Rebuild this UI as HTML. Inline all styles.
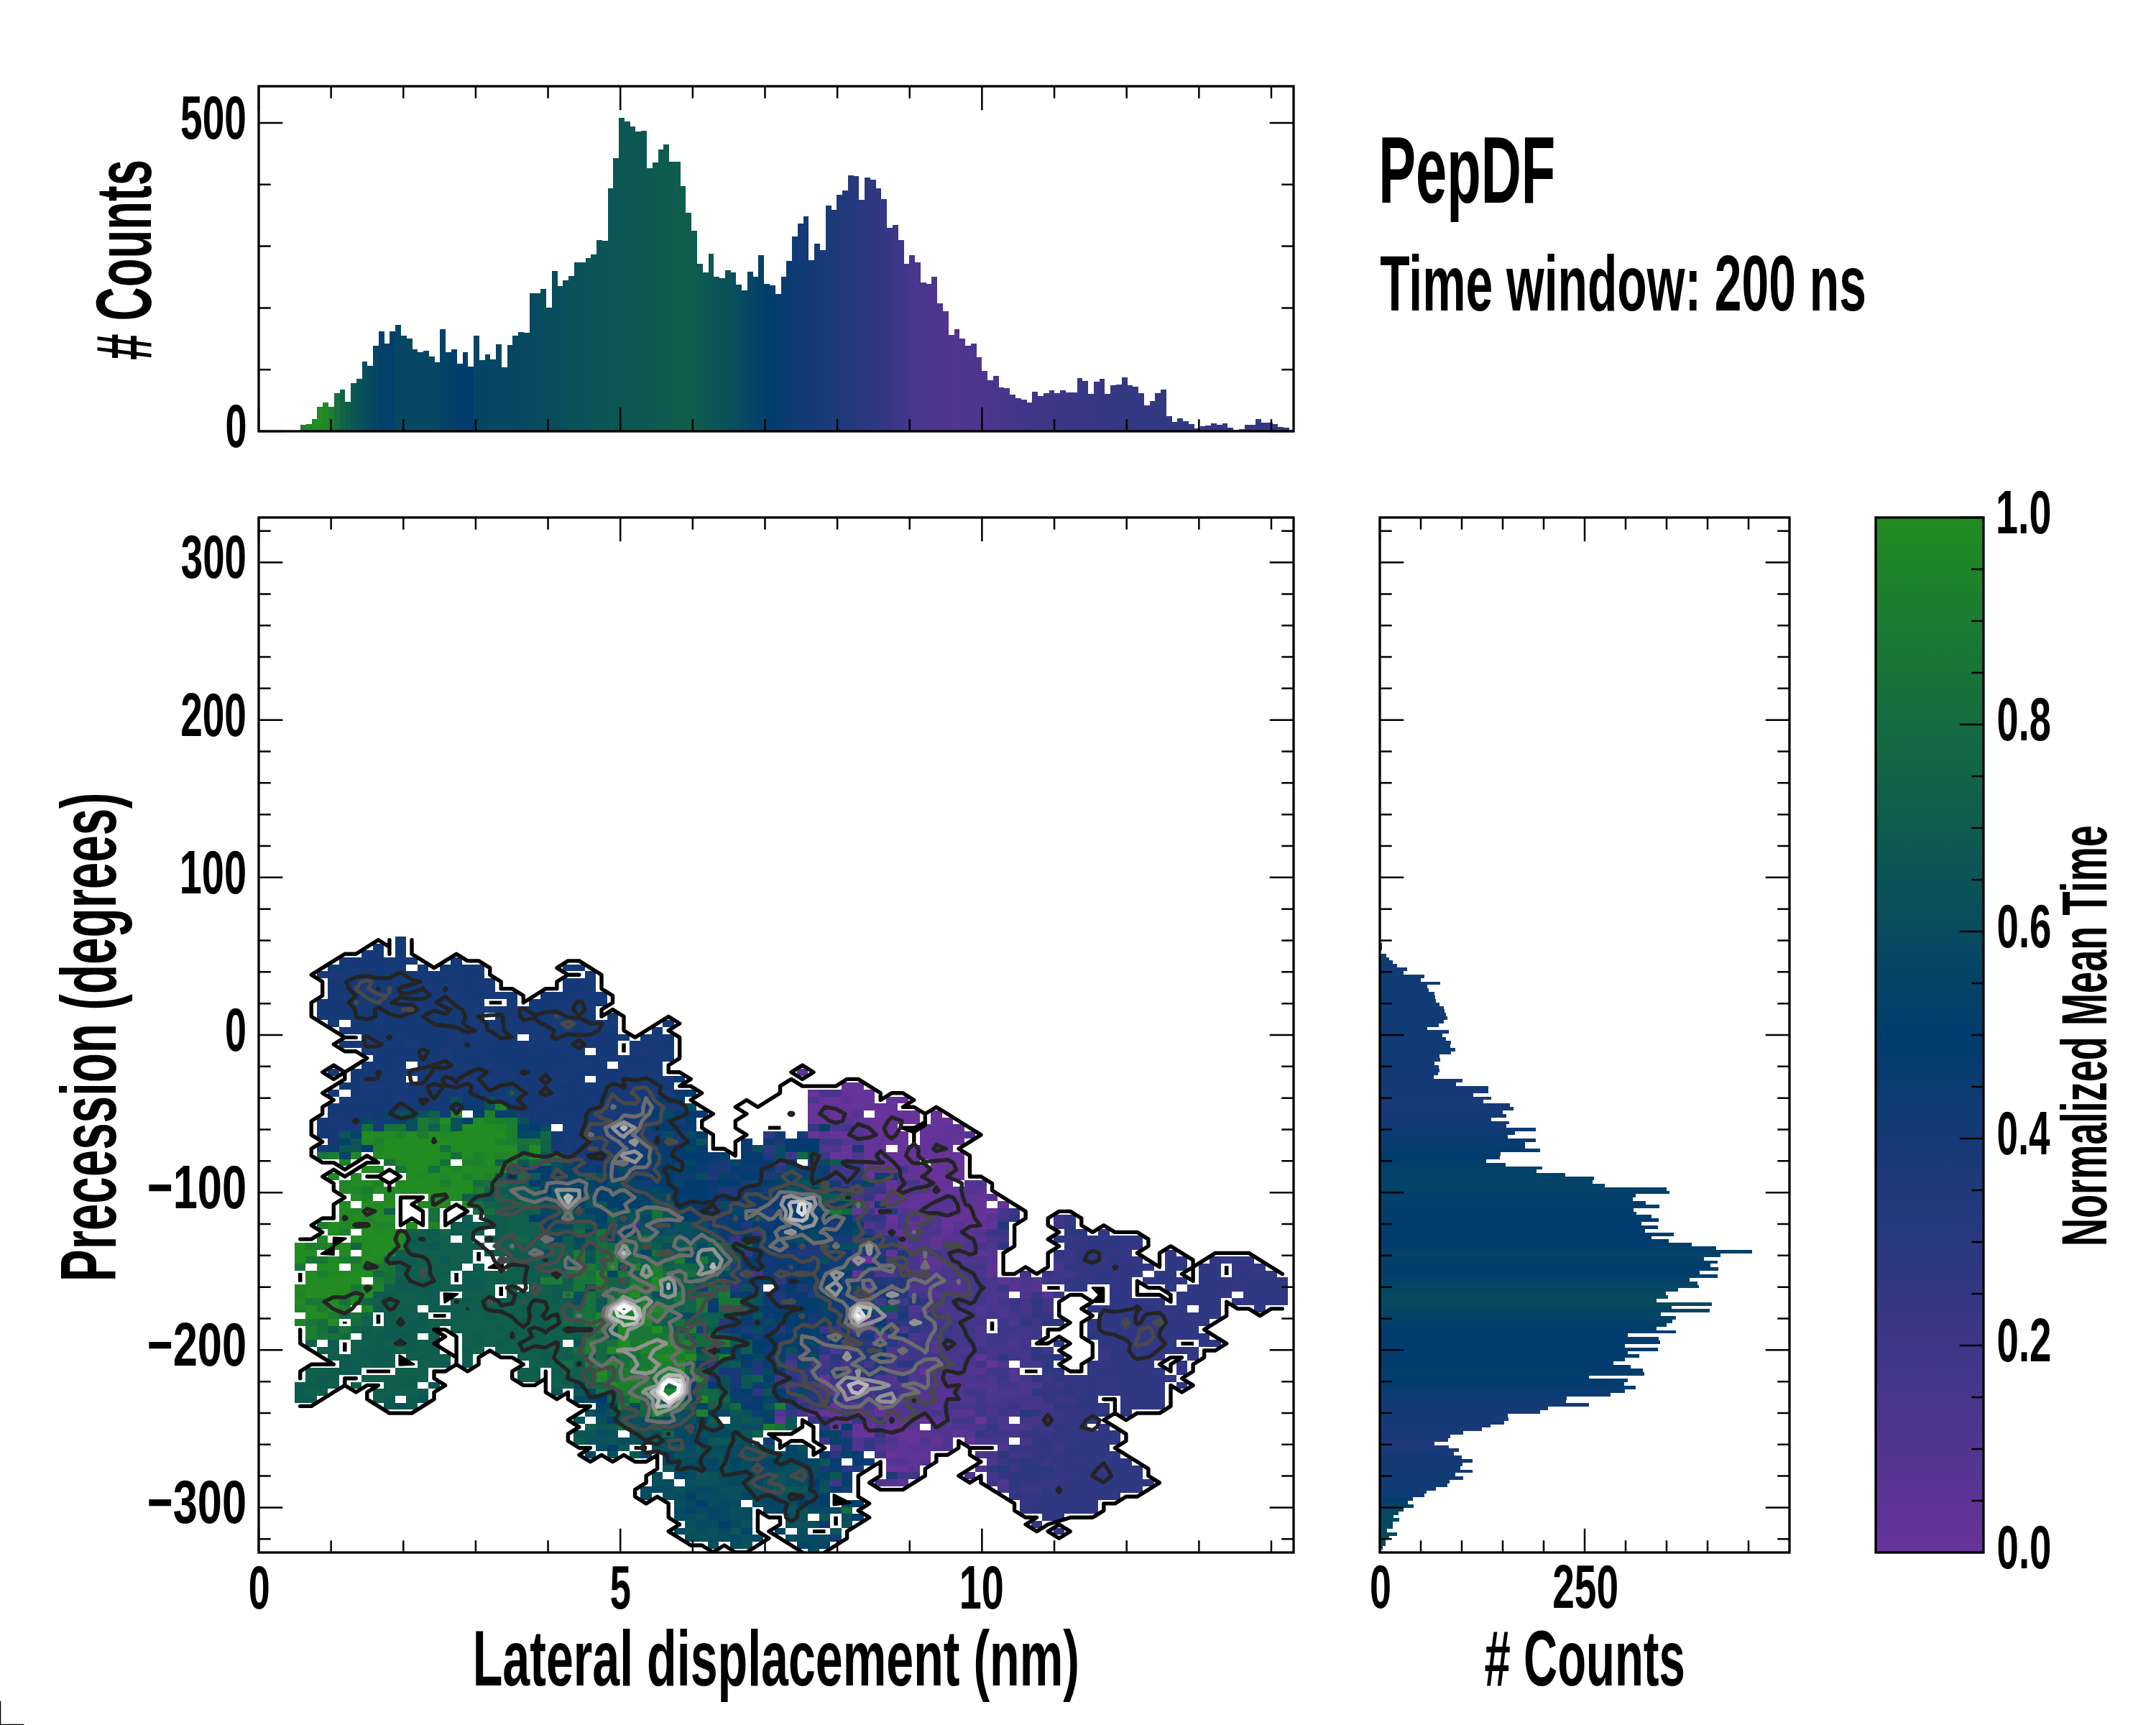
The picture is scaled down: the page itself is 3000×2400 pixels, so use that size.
<!DOCTYPE html><html><head><meta charset="utf-8"><title>PepDF</title>
<style>html,body{margin:0;padding:0;background:#fff}svg{display:block}</style></head><body>
<svg width="3000" height="2400" viewBox="0 0 3000 2400">
<rect width="3000" height="2400" fill="#fff"/>
<defs><clipPath id="cpTop"><rect x="360" y="120" width="1440" height="480"/></clipPath><clipPath id="cpMain"><rect x="360" y="720" width="1440" height="1440"/></clipPath><clipPath id="cpRight"><rect x="1920" y="720" width="570" height="1440"/></clipPath></defs>
<g clip-path="url(#cpTop)" shape-rendering="crispEdges">
<rect x="418" y="591.2" width="8" height="8.8" fill="#1e822b"/>
<rect x="426" y="590.3" width="8" height="9.7" fill="#208627"/>
<rect x="434" y="583.2" width="7" height="16.8" fill="#218a23"/>
<rect x="441" y="566.2" width="8" height="33.8" fill="#228b22"/>
<rect x="449" y="560.2" width="8" height="39.8" fill="#218924"/>
<rect x="457" y="566.2" width="8" height="33.8" fill="#1c7d2f"/>
<rect x="465" y="547.3" width="8" height="52.7" fill="#166f3d"/>
<rect x="473" y="542.1" width="7" height="57.9" fill="#126447"/>
<rect x="480" y="559.2" width="8" height="40.8" fill="#0f5e4e"/>
<rect x="488" y="533.2" width="8" height="66.8" fill="#0c5754"/>
<rect x="496" y="527.2" width="8" height="72.8" fill="#0a5259"/>
<rect x="504" y="503.0" width="7" height="97.0" fill="#084d5d"/>
<rect x="511" y="509.1" width="8" height="90.9" fill="#064962"/>
<rect x="519" y="481.2" width="8" height="118.8" fill="#054566"/>
<rect x="527" y="461.1" width="8" height="138.9" fill="#03416a"/>
<rect x="535" y="478.3" width="7" height="121.7" fill="#03406a"/>
<rect x="542" y="461.1" width="8" height="138.9" fill="#03406a"/>
<rect x="550" y="452.1" width="8" height="147.9" fill="#064763"/>
<rect x="558" y="467.1" width="8" height="132.9" fill="#064862"/>
<rect x="566" y="471.0" width="8" height="129.0" fill="#064862"/>
<rect x="574" y="486.2" width="7" height="113.8" fill="#064863"/>
<rect x="581" y="490.2" width="8" height="109.8" fill="#064863"/>
<rect x="589" y="488.1" width="8" height="111.9" fill="#064763"/>
<rect x="597" y="496.2" width="8" height="103.8" fill="#064764"/>
<rect x="605" y="504.1" width="7" height="95.9" fill="#054565"/>
<rect x="612" y="458.1" width="8" height="141.9" fill="#044367"/>
<rect x="620" y="490.2" width="8" height="109.8" fill="#034169"/>
<rect x="628" y="486.2" width="8" height="113.8" fill="#02406b"/>
<rect x="636" y="506.1" width="8" height="93.9" fill="#023e6c"/>
<rect x="644" y="490.2" width="7" height="109.8" fill="#013d6d"/>
<rect x="651" y="510.1" width="8" height="89.9" fill="#013c6e"/>
<rect x="659" y="467.1" width="8" height="132.9" fill="#054665"/>
<rect x="667" y="501.2" width="8" height="98.8" fill="#054664"/>
<rect x="675" y="493.3" width="7" height="106.7" fill="#054664"/>
<rect x="682" y="500.2" width="8" height="99.8" fill="#054764"/>
<rect x="690" y="478.9" width="8" height="121.1" fill="#064764"/>
<rect x="698" y="510.9" width="8" height="89.1" fill="#064763"/>
<rect x="706" y="479.8" width="7" height="120.2" fill="#064863"/>
<rect x="713" y="467.0" width="8" height="133.0" fill="#064862"/>
<rect x="721" y="462.0" width="8" height="138.0" fill="#064961"/>
<rect x="729" y="462.8" width="8" height="137.2" fill="#074a61"/>
<rect x="737" y="408.0" width="8" height="192.0" fill="#074a60"/>
<rect x="745" y="408.0" width="7" height="192.0" fill="#074b60"/>
<rect x="752" y="401.8" width="8" height="198.2" fill="#074c5f"/>
<rect x="760" y="427.7" width="8" height="172.3" fill="#084c5e"/>
<rect x="768" y="376.8" width="8" height="223.2" fill="#084d5d"/>
<rect x="776" y="397.7" width="7" height="202.3" fill="#094e5c"/>
<rect x="783" y="389.9" width="8" height="210.1" fill="#094f5b"/>
<rect x="791" y="383.7" width="8" height="216.3" fill="#0a515a"/>
<rect x="799" y="364.8" width="8" height="235.2" fill="#0a5259"/>
<rect x="807" y="364.8" width="8" height="235.2" fill="#0a5358"/>
<rect x="815" y="358.7" width="7" height="241.3" fill="#0b5457"/>
<rect x="822" y="353.7" width="8" height="246.3" fill="#0b5556"/>
<rect x="830" y="333.6" width="8" height="266.4" fill="#0c5555"/>
<rect x="838" y="334.8" width="8" height="265.2" fill="#0c5655"/>
<rect x="846" y="261.8" width="7" height="338.2" fill="#0c5655"/>
<rect x="853" y="220.1" width="8" height="379.9" fill="#0c5754"/>
<rect x="861" y="163.6" width="8" height="436.4" fill="#0c5754"/>
<rect x="869" y="168.9" width="8" height="431.1" fill="#0c5754"/>
<rect x="877" y="175.8" width="7" height="424.2" fill="#0d5853"/>
<rect x="884" y="182.8" width="8" height="417.2" fill="#0d5853"/>
<rect x="892" y="181.7" width="8" height="418.3" fill="#0d5853"/>
<rect x="900" y="233.7" width="8" height="366.3" fill="#0d5952"/>
<rect x="908" y="225.7" width="8" height="374.3" fill="#0d5a51"/>
<rect x="916" y="207.8" width="7" height="392.2" fill="#0e5b51"/>
<rect x="923" y="200.9" width="8" height="399.1" fill="#0e5b50"/>
<rect x="931" y="224.8" width="8" height="375.2" fill="#0f5c4f"/>
<rect x="939" y="224.8" width="8" height="375.2" fill="#0f5d4e"/>
<rect x="947" y="258.8" width="7" height="341.2" fill="#0f5e4d"/>
<rect x="954" y="295.8" width="8" height="304.2" fill="#0f5e4d"/>
<rect x="962" y="320.8" width="8" height="279.2" fill="#0e5c4f"/>
<rect x="970" y="366.8" width="8" height="233.2" fill="#0e5a51"/>
<rect x="978" y="378.7" width="8" height="221.3" fill="#0d5853"/>
<rect x="986" y="352.9" width="7" height="247.1" fill="#0c5655"/>
<rect x="993" y="384.9" width="8" height="215.1" fill="#0b5457"/>
<rect x="1001" y="386.8" width="8" height="213.2" fill="#0a5358"/>
<rect x="1009" y="376.0" width="8" height="224.0" fill="#0a515a"/>
<rect x="1017" y="378.7" width="7" height="221.3" fill="#094f5c"/>
<rect x="1024" y="395.7" width="8" height="204.3" fill="#084c5f"/>
<rect x="1032" y="403.8" width="8" height="196.2" fill="#064961"/>
<rect x="1040" y="377.9" width="8" height="222.1" fill="#054664"/>
<rect x="1048" y="384.9" width="7" height="215.1" fill="#044367"/>
<rect x="1055" y="355.1" width="8" height="244.9" fill="#034169"/>
<rect x="1063" y="394.9" width="8" height="205.1" fill="#023e6c"/>
<rect x="1071" y="396.8" width="8" height="203.2" fill="#013c6e"/>
<rect x="1079" y="408.8" width="8" height="191.2" fill="#053c70"/>
<rect x="1087" y="384.9" width="7" height="215.1" fill="#093b71"/>
<rect x="1094" y="362.9" width="8" height="237.1" fill="#0c3b73"/>
<rect x="1102" y="328.9" width="8" height="271.1" fill="#0f3b74"/>
<rect x="1110" y="310.8" width="8" height="289.2" fill="#103b75"/>
<rect x="1118" y="301.1" width="7" height="298.9" fill="#123a75"/>
<rect x="1125" y="362.0" width="8" height="238.0" fill="#143a76"/>
<rect x="1133" y="338.9" width="8" height="261.1" fill="#163a77"/>
<rect x="1141" y="347.8" width="8" height="252.2" fill="#183a78"/>
<rect x="1149" y="286.1" width="8" height="313.9" fill="#1a3a79"/>
<rect x="1157" y="291.9" width="7" height="308.1" fill="#1d3a7a"/>
<rect x="1164" y="271.0" width="8" height="329.0" fill="#1f397b"/>
<rect x="1172" y="264.9" width="8" height="335.1" fill="#22397c"/>
<rect x="1180" y="244.0" width="8" height="356.0" fill="#24397d"/>
<rect x="1188" y="245.1" width="7" height="354.9" fill="#27397e"/>
<rect x="1195" y="278.0" width="8" height="322.0" fill="#29387f"/>
<rect x="1203" y="247.1" width="8" height="352.9" fill="#2c3880"/>
<rect x="1211" y="250.2" width="8" height="349.8" fill="#2e3881"/>
<rect x="1219" y="261.8" width="7" height="338.2" fill="#313882"/>
<rect x="1226" y="276.9" width="8" height="323.1" fill="#343784"/>
<rect x="1234" y="316.9" width="8" height="283.1" fill="#383785"/>
<rect x="1242" y="313.0" width="8" height="287.0" fill="#3c3787"/>
<rect x="1250" y="333.9" width="8" height="266.1" fill="#3f3689"/>
<rect x="1258" y="366.8" width="7" height="233.2" fill="#43368a"/>
<rect x="1265" y="355.1" width="8" height="244.9" fill="#47368c"/>
<rect x="1273" y="365.1" width="8" height="234.9" fill="#49368d"/>
<rect x="1281" y="393.1" width="8" height="206.9" fill="#4a358d"/>
<rect x="1289" y="395.1" width="7" height="204.9" fill="#4b358e"/>
<rect x="1296" y="385.1" width="8" height="214.9" fill="#4d358e"/>
<rect x="1304" y="422.2" width="8" height="177.8" fill="#4e358f"/>
<rect x="1312" y="433.2" width="8" height="166.8" fill="#4f358f"/>
<rect x="1320" y="465.8" width="8" height="134.2" fill="#513590"/>
<rect x="1328" y="458.0" width="7" height="142.0" fill="#523590"/>
<rect x="1335" y="471.3" width="8" height="128.7" fill="#503590"/>
<rect x="1343" y="481.0" width="8" height="119.0" fill="#4f358f"/>
<rect x="1351" y="478.0" width="8" height="122.0" fill="#4e358f"/>
<rect x="1359" y="497.3" width="7" height="102.7" fill="#4d358e"/>
<rect x="1366" y="516.1" width="8" height="83.9" fill="#4c358e"/>
<rect x="1374" y="528.9" width="8" height="71.1" fill="#4a358d"/>
<rect x="1382" y="523.1" width="8" height="76.9" fill="#49368d"/>
<rect x="1390" y="539.1" width="7" height="60.9" fill="#48368c"/>
<rect x="1397" y="540.4" width="8" height="59.6" fill="#46368b"/>
<rect x="1405" y="549.2" width="8" height="50.8" fill="#45368b"/>
<rect x="1413" y="554.2" width="8" height="45.8" fill="#43368a"/>
<rect x="1421" y="555.9" width="8" height="44.1" fill="#42368a"/>
<rect x="1429" y="560.2" width="7" height="39.8" fill="#413689"/>
<rect x="1436" y="545.2" width="8" height="54.8" fill="#3f3689"/>
<rect x="1444" y="551.2" width="8" height="48.8" fill="#3e3788"/>
<rect x="1452" y="547.2" width="8" height="52.8" fill="#3d3788"/>
<rect x="1460" y="543.2" width="7" height="56.8" fill="#3c3787"/>
<rect x="1467" y="547.2" width="8" height="52.8" fill="#3b3787"/>
<rect x="1475" y="543.2" width="8" height="56.8" fill="#3b3787"/>
<rect x="1483" y="546.2" width="8" height="53.8" fill="#3a3786"/>
<rect x="1491" y="546.2" width="8" height="53.8" fill="#393786"/>
<rect x="1499" y="526.1" width="7" height="73.9" fill="#383786"/>
<rect x="1506" y="530.4" width="8" height="69.6" fill="#383785"/>
<rect x="1514" y="548.2" width="8" height="51.8" fill="#373785"/>
<rect x="1522" y="531.1" width="8" height="68.9" fill="#363785"/>
<rect x="1530" y="527.1" width="7" height="72.9" fill="#353784"/>
<rect x="1537" y="548.2" width="8" height="51.8" fill="#343784"/>
<rect x="1545" y="536.1" width="8" height="63.9" fill="#343784"/>
<rect x="1553" y="535.1" width="8" height="64.9" fill="#333883"/>
<rect x="1561" y="525.1" width="8" height="74.9" fill="#333883"/>
<rect x="1569" y="536.1" width="7" height="63.9" fill="#333883"/>
<rect x="1576" y="538.1" width="8" height="61.9" fill="#333883"/>
<rect x="1584" y="547.2" width="8" height="52.8" fill="#333883"/>
<rect x="1592" y="563.9" width="8" height="36.1" fill="#333883"/>
<rect x="1600" y="558.2" width="7" height="41.8" fill="#333883"/>
<rect x="1607" y="547.2" width="8" height="52.8" fill="#333883"/>
<rect x="1615" y="542.1" width="8" height="57.9" fill="#333883"/>
<rect x="1623" y="579.0" width="8" height="21.0" fill="#333883"/>
<rect x="1631" y="587.0" width="7" height="13.0" fill="#333883"/>
<rect x="1638" y="582.0" width="8" height="18.0" fill="#333883"/>
<rect x="1646" y="586.0" width="8" height="14.0" fill="#333883"/>
<rect x="1654" y="590.0" width="8" height="10.0" fill="#333883"/>
<rect x="1662" y="596.0" width="8" height="4.0" fill="#333883"/>
<rect x="1670" y="593.0" width="7" height="7.0" fill="#333883"/>
<rect x="1677" y="592.0" width="8" height="8.0" fill="#323883"/>
<rect x="1685" y="589.0" width="8" height="11.0" fill="#323883"/>
<rect x="1693" y="591.0" width="8" height="9.0" fill="#323883"/>
<rect x="1701" y="589.0" width="7" height="11.0" fill="#323883"/>
<rect x="1708" y="595.0" width="8" height="5.0" fill="#323883"/>
<rect x="1716" y="598.0" width="8" height="2.0" fill="#323883"/>
<rect x="1724" y="597.0" width="8" height="3.0" fill="#323883"/>
<rect x="1732" y="591.0" width="8" height="9.0" fill="#323883"/>
<rect x="1740" y="591.0" width="7" height="9.0" fill="#323883"/>
<rect x="1747" y="583.0" width="8" height="17.0" fill="#323883"/>
<rect x="1755" y="588.0" width="8" height="12.0" fill="#323883"/>
<rect x="1763" y="588.0" width="8" height="12.0" fill="#323883"/>
<rect x="1771" y="590.0" width="7" height="10.0" fill="#323883"/>
<rect x="1778" y="594.0" width="8" height="6.0" fill="#323883"/>
<rect x="1786" y="595.0" width="8" height="5.0" fill="#323883"/>
<rect x="1794" y="598.0" width="8" height="2.0" fill="#313883"/>
</g>
<g clip-path="url(#cpRight)" shape-rendering="crispEdges">
<rect x="1920" y="1312" width="2.8" height="5" fill="#113b75"/>
<rect x="1920" y="1317" width="2.8" height="5" fill="#113b75"/>
<rect x="1920" y="1327" width="8.6" height="5" fill="#113b75"/>
<rect x="1920" y="1332" width="12.8" height="4" fill="#113b75"/>
<rect x="1920" y="1336" width="17.8" height="5" fill="#113b75"/>
<rect x="1920" y="1341" width="23.7" height="5" fill="#113b75"/>
<rect x="1920" y="1346" width="37.9" height="5" fill="#113b75"/>
<rect x="1920" y="1351" width="32.8" height="5" fill="#113b75"/>
<rect x="1920" y="1356" width="61.8" height="5" fill="#113b75"/>
<rect x="1920" y="1361" width="57.1" height="5" fill="#113b75"/>
<rect x="1920" y="1366" width="83.8" height="4" fill="#113b75"/>
<rect x="1920" y="1370" width="65.7" height="5" fill="#113b75"/>
<rect x="1920" y="1375" width="67.9" height="5" fill="#113b75"/>
<rect x="1920" y="1380" width="75.7" height="5" fill="#113b75"/>
<rect x="1920" y="1385" width="77.4" height="5" fill="#113b75"/>
<rect x="1920" y="1390" width="77.9" height="5" fill="#113b75"/>
<rect x="1920" y="1395" width="82.9" height="5" fill="#113b75"/>
<rect x="1920" y="1400" width="88.8" height="4" fill="#113b75"/>
<rect x="1920" y="1404" width="89.9" height="5" fill="#113b75"/>
<rect x="1920" y="1409" width="91.6" height="5" fill="#113b75"/>
<rect x="1920" y="1414" width="93.8" height="5" fill="#113b75"/>
<rect x="1920" y="1419" width="88.8" height="5" fill="#113b75"/>
<rect x="1920" y="1424" width="81.8" height="5" fill="#113b75"/>
<rect x="1920" y="1429" width="65.7" height="4" fill="#113b75"/>
<rect x="1920" y="1433" width="95.7" height="5" fill="#113b75"/>
<rect x="1920" y="1438" width="86.8" height="5" fill="#113b75"/>
<rect x="1920" y="1443" width="91.8" height="5" fill="#113b75"/>
<rect x="1920" y="1448" width="98.8" height="5" fill="#113b75"/>
<rect x="1920" y="1453" width="97.7" height="5" fill="#113b75"/>
<rect x="1920" y="1458" width="104.6" height="5" fill="#113b75"/>
<rect x="1920" y="1463" width="98.8" height="4" fill="#113b75"/>
<rect x="1920" y="1467" width="82.9" height="5" fill="#113b75"/>
<rect x="1920" y="1472" width="83.8" height="5" fill="#113b75"/>
<rect x="1920" y="1477" width="75.7" height="5" fill="#113b75"/>
<rect x="1920" y="1482" width="81.8" height="5" fill="#123b75"/>
<rect x="1920" y="1487" width="82.7" height="5" fill="#123a75"/>
<rect x="1920" y="1492" width="80.7" height="4" fill="#133a76"/>
<rect x="1920" y="1496" width="74.9" height="5" fill="#143a76"/>
<rect x="1920" y="1501" width="114.9" height="5" fill="#143a76"/>
<rect x="1920" y="1506" width="105.8" height="5" fill="#153a76"/>
<rect x="1920" y="1511" width="150.8" height="5" fill="#163a77"/>
<rect x="1920" y="1516" width="150.8" height="5" fill="#163a77"/>
<rect x="1920" y="1521" width="129.7" height="5" fill="#173a77"/>
<rect x="1920" y="1526" width="154.7" height="4" fill="#183a78"/>
<rect x="1920" y="1530" width="143.6" height="5" fill="#183a78"/>
<rect x="1920" y="1535" width="180.6" height="5" fill="#193a78"/>
<rect x="1920" y="1540" width="185.9" height="5" fill="#193a78"/>
<rect x="1920" y="1545" width="170.6" height="5" fill="#173a77"/>
<rect x="1920" y="1550" width="175.9" height="5" fill="#153a77"/>
<rect x="1920" y="1555" width="154.7" height="5" fill="#133a76"/>
<rect x="1920" y="1560" width="179.8" height="4" fill="#123b75"/>
<rect x="1920" y="1564" width="175.9" height="5" fill="#103b74"/>
<rect x="1920" y="1569" width="216.8" height="5" fill="#0e3b74"/>
<rect x="1920" y="1574" width="187.6" height="5" fill="#0c3b73"/>
<rect x="1920" y="1579" width="177.6" height="5" fill="#0b3b72"/>
<rect x="1920" y="1584" width="216.8" height="5" fill="#093b71"/>
<rect x="1920" y="1589" width="201.8" height="5" fill="#073b71"/>
<rect x="1920" y="1594" width="201.8" height="4" fill="#063c70"/>
<rect x="1920" y="1598" width="222.9" height="5" fill="#043c6f"/>
<rect x="1920" y="1603" width="167.8" height="5" fill="#023c6f"/>
<rect x="1920" y="1608" width="167.0" height="5" fill="#013c6e"/>
<rect x="1920" y="1613" width="147.8" height="5" fill="#023d6d"/>
<rect x="1920" y="1618" width="174.8" height="5" fill="#023f6b"/>
<rect x="1920" y="1623" width="226.0" height="4" fill="#03406a"/>
<rect x="1920" y="1627" width="217.9" height="5" fill="#034169"/>
<rect x="1920" y="1632" width="257.7" height="5" fill="#044368"/>
<rect x="1920" y="1637" width="297.8" height="5" fill="#044467"/>
<rect x="1920" y="1642" width="295.9" height="5" fill="#044367"/>
<rect x="1920" y="1647" width="312.8" height="5" fill="#044268"/>
<rect x="1920" y="1652" width="398.8" height="5" fill="#034269"/>
<rect x="1920" y="1657" width="403.0" height="4" fill="#034169"/>
<rect x="1920" y="1661" width="355.7" height="5" fill="#03406a"/>
<rect x="1920" y="1666" width="351.8" height="5" fill="#023f6b"/>
<rect x="1920" y="1671" width="369.9" height="5" fill="#023f6b"/>
<rect x="1920" y="1676" width="388.8" height="5" fill="#023e6c"/>
<rect x="1920" y="1681" width="352.9" height="5" fill="#023e6c"/>
<rect x="1920" y="1686" width="356.8" height="4" fill="#023d6d"/>
<rect x="1920" y="1690" width="378.0" height="5" fill="#013d6d"/>
<rect x="1920" y="1695" width="388.0" height="5" fill="#013c6e"/>
<rect x="1920" y="1700" width="363.8" height="5" fill="#013c6e"/>
<rect x="1920" y="1705" width="386.9" height="5" fill="#013c6e"/>
<rect x="1920" y="1710" width="368.8" height="5" fill="#013c6e"/>
<rect x="1920" y="1715" width="408.9" height="5" fill="#013c6e"/>
<rect x="1920" y="1720" width="378.0" height="4" fill="#013c6e"/>
<rect x="1920" y="1724" width="401.9" height="5" fill="#013c6e"/>
<rect x="1920" y="1729" width="433.9" height="5" fill="#013d6d"/>
<rect x="1920" y="1734" width="467.9" height="5" fill="#023f6b"/>
<rect x="1920" y="1739" width="518.0" height="5" fill="#034169"/>
<rect x="1920" y="1744" width="473.7" height="5" fill="#044268"/>
<rect x="1920" y="1749" width="450.9" height="5" fill="#034169"/>
<rect x="1920" y="1754" width="469.8" height="4" fill="#02406b"/>
<rect x="1920" y="1758" width="459.8" height="5" fill="#023e6c"/>
<rect x="1920" y="1763" width="470.9" height="5" fill="#013d6d"/>
<rect x="1920" y="1768" width="444.8" height="5" fill="#013c6e"/>
<rect x="1920" y="1773" width="469.8" height="5" fill="#023f6c"/>
<rect x="1920" y="1778" width="430.8" height="5" fill="#034169"/>
<rect x="1920" y="1783" width="441.7" height="5" fill="#044367"/>
<rect x="1920" y="1788" width="443.9" height="4" fill="#054565"/>
<rect x="1920" y="1792" width="415.0" height="5" fill="#064763"/>
<rect x="1920" y="1797" width="398.0" height="5" fill="#064962"/>
<rect x="1920" y="1802" width="400.8" height="5" fill="#074b60"/>
<rect x="1920" y="1807" width="384.9" height="5" fill="#074b5f"/>
<rect x="1920" y="1812" width="461.7" height="5" fill="#074a61"/>
<rect x="1920" y="1817" width="405.8" height="4" fill="#064863"/>
<rect x="1920" y="1821" width="458.7" height="5" fill="#054664"/>
<rect x="1920" y="1826" width="391.0" height="5" fill="#044466"/>
<rect x="1920" y="1831" width="411.9" height="5" fill="#044268"/>
<rect x="1920" y="1836" width="406.9" height="5" fill="#03416a"/>
<rect x="1920" y="1841" width="398.8" height="5" fill="#023f6b"/>
<rect x="1920" y="1846" width="384.9" height="5" fill="#013d6d"/>
<rect x="1920" y="1851" width="411.9" height="4" fill="#013c6e"/>
<rect x="1920" y="1855" width="344.8" height="5" fill="#013c6e"/>
<rect x="1920" y="1860" width="388.0" height="5" fill="#013c6e"/>
<rect x="1920" y="1865" width="389.9" height="5" fill="#013c6e"/>
<rect x="1920" y="1870" width="340.9" height="5" fill="#013c6e"/>
<rect x="1920" y="1875" width="386.9" height="5" fill="#013c6e"/>
<rect x="1920" y="1880" width="344.8" height="4" fill="#013c6e"/>
<rect x="1920" y="1884" width="361.0" height="5" fill="#013c6e"/>
<rect x="1920" y="1889" width="340.9" height="5" fill="#013c6e"/>
<rect x="1920" y="1894" width="325.1" height="5" fill="#013c6e"/>
<rect x="1920" y="1899" width="349.0" height="5" fill="#013c6e"/>
<rect x="1920" y="1904" width="366.0" height="5" fill="#023e6c"/>
<rect x="1920" y="1909" width="367.9" height="5" fill="#023f6b"/>
<rect x="1920" y="1914" width="290.8" height="4" fill="#013d6d"/>
<rect x="1920" y="1918" width="344.8" height="5" fill="#023c6f"/>
<rect x="1920" y="1923" width="339.8" height="5" fill="#053c70"/>
<rect x="1920" y="1928" width="356.0" height="5" fill="#073b71"/>
<rect x="1920" y="1933" width="340.9" height="5" fill="#0a3b72"/>
<rect x="1920" y="1938" width="320.9" height="5" fill="#0c3b73"/>
<rect x="1920" y="1943" width="259.9" height="5" fill="#0e3b74"/>
<rect x="1920" y="1948" width="258.8" height="4" fill="#113b75"/>
<rect x="1920" y="1952" width="290.8" height="5" fill="#133a76"/>
<rect x="1920" y="1957" width="233.8" height="5" fill="#143a76"/>
<rect x="1920" y="1962" width="222.9" height="5" fill="#143a76"/>
<rect x="1920" y="1967" width="177.8" height="5" fill="#153a77"/>
<rect x="1920" y="1972" width="179.0" height="5" fill="#163a77"/>
<rect x="1920" y="1977" width="172.8" height="5" fill="#163a77"/>
<rect x="1920" y="1982" width="153.9" height="4" fill="#173a77"/>
<rect x="1920" y="1986" width="141.9" height="5" fill="#183a78"/>
<rect x="1920" y="1991" width="115.8" height="5" fill="#183a78"/>
<rect x="1920" y="1996" width="97.7" height="5" fill="#193a78"/>
<rect x="1920" y="2001" width="94.6" height="5" fill="#1d3a7a"/>
<rect x="1920" y="2006" width="75.7" height="5" fill="#21397c"/>
<rect x="1920" y="2011" width="95.7" height="4" fill="#1e397a"/>
<rect x="1920" y="2015" width="109.7" height="5" fill="#1b3a79"/>
<rect x="1920" y="2020" width="102.7" height="5" fill="#183a78"/>
<rect x="1920" y="2025" width="113.8" height="5" fill="#153a76"/>
<rect x="1920" y="2030" width="128.9" height="5" fill="#133a76"/>
<rect x="1920" y="2035" width="114.7" height="5" fill="#133a75"/>
<rect x="1920" y="2040" width="111.6" height="5" fill="#123a75"/>
<rect x="1920" y="2045" width="128.9" height="4" fill="#123b75"/>
<rect x="1920" y="2049" width="104.6" height="5" fill="#113b75"/>
<rect x="1920" y="2054" width="115.8" height="5" fill="#113b75"/>
<rect x="1920" y="2059" width="96.9" height="5" fill="#113b75"/>
<rect x="1920" y="2064" width="93.8" height="5" fill="#103b74"/>
<rect x="1920" y="2069" width="77.7" height="5" fill="#103b74"/>
<rect x="1920" y="2074" width="64.8" height="4" fill="#0f3b74"/>
<rect x="1920" y="2078" width="61.8" height="5" fill="#0d3b73"/>
<rect x="1920" y="2083" width="45.6" height="5" fill="#033c6f"/>
<rect x="1920" y="2088" width="38.7" height="5" fill="#034169"/>
<rect x="1920" y="2093" width="46.8" height="5" fill="#044367"/>
<rect x="1920" y="2098" width="32.8" height="5" fill="#054566"/>
<rect x="1920" y="2103" width="25.9" height="5" fill="#054764"/>
<rect x="1920" y="2108" width="18.6" height="4" fill="#064962"/>
<rect x="1920" y="2112" width="26.7" height="5" fill="#064962"/>
<rect x="1920" y="2117" width="17.8" height="5" fill="#074961"/>
<rect x="1920" y="2122" width="17.8" height="5" fill="#074a61"/>
<rect x="1920" y="2127" width="9.7" height="5" fill="#074a61"/>
<rect x="1920" y="2132" width="23.7" height="5" fill="#074a60"/>
<rect x="1920" y="2137" width="12.8" height="5" fill="#074a60"/>
<rect x="1920" y="2142" width="7.8" height="4" fill="#074b60"/>
<rect x="1920" y="2146" width="7.8" height="5" fill="#074b5f"/>
<rect x="1920" y="2151" width="3.6" height="5" fill="#074b5f"/>
<rect x="1920" y="2156" width="2.2" height="5" fill="#084c5f"/>
<rect x="1920" y="2161" width="1.1" height="5" fill="#084c5f"/>
<rect x="1920" y="2166" width="0.6" height="5" fill="#084c5f"/>
</g>
<g clip-path="url(#cpMain)">
<g shape-rendering="crispEdges">
<rect x="550" y="1303" width="15" height="10" fill="#113b75"/>
<rect x="519" y="1313" width="15" height="9" fill="#153a77"/>
<rect x="550" y="1313" width="15" height="9" fill="#153a77"/>
<rect x="503" y="1322" width="31" height="10" fill="#153a77"/>
<rect x="550" y="1322" width="15" height="10" fill="#153a77"/>
<rect x="472" y="1332" width="16" height="10" fill="#193a78"/>
<rect x="488" y="1332" width="77" height="10" fill="#153a77"/>
<rect x="565" y="1332" width="16" height="10" fill="#193a78"/>
<rect x="627" y="1332" width="16" height="10" fill="#153a77"/>
<rect x="456" y="1342" width="78" height="9" fill="#153a77"/>
<rect x="534" y="1342" width="16" height="9" fill="#193a78"/>
<rect x="550" y="1342" width="15" height="9" fill="#153a77"/>
<rect x="581" y="1342" width="15" height="9" fill="#153a77"/>
<rect x="612" y="1342" width="15" height="9" fill="#113b75"/>
<rect x="627" y="1342" width="47" height="9" fill="#153a77"/>
<rect x="783" y="1342" width="31" height="9" fill="#153a77"/>
<rect x="441" y="1351" width="15" height="10" fill="#153a77"/>
<rect x="456" y="1351" width="16" height="10" fill="#1d397a"/>
<rect x="472" y="1351" width="31" height="10" fill="#193a78"/>
<rect x="503" y="1351" width="16" height="10" fill="#153a77"/>
<rect x="519" y="1351" width="46" height="10" fill="#113b75"/>
<rect x="565" y="1351" width="62" height="10" fill="#153a77"/>
<rect x="627" y="1351" width="16" height="10" fill="#193a78"/>
<rect x="643" y="1351" width="31" height="10" fill="#153a77"/>
<rect x="814" y="1351" width="15" height="10" fill="#193a78"/>
<rect x="456" y="1361" width="125" height="10" fill="#153a77"/>
<rect x="581" y="1361" width="15" height="10" fill="#193a78"/>
<rect x="596" y="1361" width="31" height="10" fill="#153a77"/>
<rect x="627" y="1361" width="16" height="10" fill="#193a78"/>
<rect x="643" y="1361" width="15" height="10" fill="#153a77"/>
<rect x="658" y="1361" width="16" height="10" fill="#193a78"/>
<rect x="674" y="1361" width="15" height="10" fill="#153a77"/>
<rect x="783" y="1361" width="46" height="10" fill="#153a77"/>
<rect x="456" y="1371" width="47" height="9" fill="#153a77"/>
<rect x="503" y="1371" width="16" height="9" fill="#1d397a"/>
<rect x="519" y="1371" width="62" height="9" fill="#153a77"/>
<rect x="581" y="1371" width="46" height="9" fill="#193a78"/>
<rect x="627" y="1371" width="47" height="9" fill="#153a77"/>
<rect x="674" y="1371" width="15" height="9" fill="#193a78"/>
<rect x="783" y="1371" width="31" height="9" fill="#153a77"/>
<rect x="814" y="1371" width="15" height="9" fill="#193a78"/>
<rect x="456" y="1380" width="16" height="10" fill="#193a78"/>
<rect x="472" y="1380" width="47" height="10" fill="#153a77"/>
<rect x="519" y="1380" width="15" height="10" fill="#193a78"/>
<rect x="534" y="1380" width="78" height="10" fill="#153a77"/>
<rect x="612" y="1380" width="15" height="10" fill="#1d397a"/>
<rect x="627" y="1380" width="16" height="10" fill="#193a78"/>
<rect x="643" y="1380" width="31" height="10" fill="#153a77"/>
<rect x="674" y="1380" width="15" height="10" fill="#193a78"/>
<rect x="689" y="1380" width="31" height="10" fill="#153a77"/>
<rect x="752" y="1380" width="62" height="10" fill="#153a77"/>
<rect x="814" y="1380" width="15" height="10" fill="#193a78"/>
<rect x="829" y="1380" width="16" height="10" fill="#153a77"/>
<rect x="441" y="1390" width="171" height="10" fill="#153a77"/>
<rect x="612" y="1390" width="15" height="10" fill="#193a78"/>
<rect x="627" y="1390" width="16" height="10" fill="#153a77"/>
<rect x="643" y="1390" width="15" height="10" fill="#193a78"/>
<rect x="658" y="1390" width="16" height="10" fill="#153a77"/>
<rect x="705" y="1390" width="15" height="10" fill="#153a77"/>
<rect x="736" y="1390" width="47" height="10" fill="#153a77"/>
<rect x="783" y="1390" width="15" height="10" fill="#193a78"/>
<rect x="798" y="1390" width="47" height="10" fill="#153a77"/>
<rect x="441" y="1400" width="62" height="9" fill="#153a77"/>
<rect x="503" y="1400" width="16" height="9" fill="#193a78"/>
<rect x="519" y="1400" width="46" height="9" fill="#153a77"/>
<rect x="565" y="1400" width="16" height="9" fill="#193a78"/>
<rect x="581" y="1400" width="15" height="9" fill="#153a77"/>
<rect x="596" y="1400" width="16" height="9" fill="#193a78"/>
<rect x="612" y="1400" width="140" height="9" fill="#153a77"/>
<rect x="752" y="1400" width="15" height="9" fill="#113b75"/>
<rect x="767" y="1400" width="47" height="9" fill="#193a78"/>
<rect x="814" y="1400" width="15" height="9" fill="#153a77"/>
<rect x="441" y="1409" width="78" height="10" fill="#153a77"/>
<rect x="519" y="1409" width="15" height="10" fill="#193a78"/>
<rect x="534" y="1409" width="140" height="10" fill="#153a77"/>
<rect x="689" y="1409" width="16" height="10" fill="#113b75"/>
<rect x="705" y="1409" width="109" height="10" fill="#153a77"/>
<rect x="814" y="1409" width="15" height="10" fill="#113b75"/>
<rect x="845" y="1409" width="15" height="10" fill="#153a77"/>
<rect x="456" y="1419" width="16" height="10" fill="#153a77"/>
<rect x="488" y="1419" width="15" height="10" fill="#153a77"/>
<rect x="503" y="1419" width="16" height="10" fill="#113b75"/>
<rect x="519" y="1419" width="15" height="10" fill="#193a78"/>
<rect x="534" y="1419" width="16" height="10" fill="#113b75"/>
<rect x="550" y="1419" width="108" height="10" fill="#153a77"/>
<rect x="658" y="1419" width="16" height="10" fill="#193a78"/>
<rect x="674" y="1419" width="15" height="10" fill="#113b75"/>
<rect x="689" y="1419" width="31" height="10" fill="#153a77"/>
<rect x="720" y="1419" width="32" height="10" fill="#193a78"/>
<rect x="752" y="1419" width="77" height="10" fill="#153a77"/>
<rect x="829" y="1419" width="31" height="10" fill="#193a78"/>
<rect x="922" y="1419" width="16" height="10" fill="#153a77"/>
<rect x="472" y="1429" width="248" height="10" fill="#153a77"/>
<rect x="720" y="1429" width="16" height="10" fill="#193a78"/>
<rect x="736" y="1429" width="78" height="10" fill="#153a77"/>
<rect x="814" y="1429" width="15" height="10" fill="#193a78"/>
<rect x="829" y="1429" width="31" height="10" fill="#153a77"/>
<rect x="907" y="1429" width="15" height="10" fill="#153a77"/>
<rect x="503" y="1439" width="47" height="9" fill="#153a77"/>
<rect x="550" y="1439" width="15" height="9" fill="#193a78"/>
<rect x="565" y="1439" width="62" height="9" fill="#153a77"/>
<rect x="627" y="1439" width="16" height="9" fill="#193a78"/>
<rect x="643" y="1439" width="15" height="9" fill="#153a77"/>
<rect x="658" y="1439" width="31" height="9" fill="#193a78"/>
<rect x="689" y="1439" width="31" height="9" fill="#153a77"/>
<rect x="736" y="1439" width="16" height="9" fill="#153a77"/>
<rect x="752" y="1439" width="15" height="9" fill="#193a78"/>
<rect x="767" y="1439" width="31" height="9" fill="#153a77"/>
<rect x="798" y="1439" width="31" height="9" fill="#193a78"/>
<rect x="829" y="1439" width="31" height="9" fill="#153a77"/>
<rect x="860" y="1439" width="16" height="9" fill="#193a78"/>
<rect x="891" y="1439" width="16" height="9" fill="#153a77"/>
<rect x="907" y="1439" width="15" height="9" fill="#193a78"/>
<rect x="922" y="1439" width="16" height="9" fill="#153a77"/>
<rect x="472" y="1448" width="62" height="10" fill="#153a77"/>
<rect x="534" y="1448" width="16" height="10" fill="#193a78"/>
<rect x="550" y="1448" width="15" height="10" fill="#153a77"/>
<rect x="565" y="1448" width="16" height="10" fill="#1d397a"/>
<rect x="581" y="1448" width="46" height="10" fill="#153a77"/>
<rect x="627" y="1448" width="16" height="10" fill="#193a78"/>
<rect x="643" y="1448" width="31" height="10" fill="#153a77"/>
<rect x="674" y="1448" width="15" height="10" fill="#193a78"/>
<rect x="689" y="1448" width="78" height="10" fill="#153a77"/>
<rect x="767" y="1448" width="16" height="10" fill="#193a78"/>
<rect x="783" y="1448" width="77" height="10" fill="#153a77"/>
<rect x="876" y="1448" width="15" height="10" fill="#153a77"/>
<rect x="891" y="1448" width="16" height="10" fill="#193a78"/>
<rect x="907" y="1448" width="31" height="10" fill="#153a77"/>
<rect x="503" y="1458" width="31" height="10" fill="#193a78"/>
<rect x="534" y="1458" width="78" height="10" fill="#153a77"/>
<rect x="612" y="1458" width="15" height="10" fill="#1d397a"/>
<rect x="627" y="1458" width="16" height="10" fill="#153a77"/>
<rect x="643" y="1458" width="31" height="10" fill="#193a78"/>
<rect x="674" y="1458" width="15" height="10" fill="#153a77"/>
<rect x="689" y="1458" width="16" height="10" fill="#113b75"/>
<rect x="705" y="1458" width="31" height="10" fill="#153a77"/>
<rect x="736" y="1458" width="16" height="10" fill="#193a78"/>
<rect x="752" y="1458" width="31" height="10" fill="#153a77"/>
<rect x="783" y="1458" width="15" height="10" fill="#193a78"/>
<rect x="798" y="1458" width="16" height="10" fill="#153a77"/>
<rect x="829" y="1458" width="31" height="10" fill="#153a77"/>
<rect x="876" y="1458" width="15" height="10" fill="#193a78"/>
<rect x="891" y="1458" width="16" height="10" fill="#1d397a"/>
<rect x="907" y="1458" width="31" height="10" fill="#193a78"/>
<rect x="519" y="1468" width="93" height="9" fill="#153a77"/>
<rect x="612" y="1468" width="15" height="9" fill="#193a78"/>
<rect x="627" y="1468" width="109" height="9" fill="#153a77"/>
<rect x="736" y="1468" width="16" height="9" fill="#113b75"/>
<rect x="752" y="1468" width="62" height="9" fill="#153a77"/>
<rect x="814" y="1468" width="15" height="9" fill="#113b75"/>
<rect x="829" y="1468" width="109" height="9" fill="#153a77"/>
<rect x="503" y="1477" width="47" height="10" fill="#153a77"/>
<rect x="550" y="1477" width="15" height="10" fill="#193a78"/>
<rect x="581" y="1477" width="31" height="10" fill="#153a77"/>
<rect x="612" y="1477" width="31" height="10" fill="#193a78"/>
<rect x="643" y="1477" width="31" height="10" fill="#153a77"/>
<rect x="674" y="1477" width="15" height="10" fill="#193a78"/>
<rect x="689" y="1477" width="109" height="10" fill="#153a77"/>
<rect x="798" y="1477" width="16" height="10" fill="#193a78"/>
<rect x="814" y="1477" width="31" height="10" fill="#153a77"/>
<rect x="860" y="1477" width="47" height="10" fill="#153a77"/>
<rect x="907" y="1477" width="15" height="10" fill="#193a78"/>
<rect x="456" y="1487" width="16" height="10" fill="#153a77"/>
<rect x="488" y="1487" width="62" height="10" fill="#153a77"/>
<rect x="550" y="1487" width="15" height="10" fill="#193a78"/>
<rect x="565" y="1487" width="47" height="10" fill="#153a77"/>
<rect x="612" y="1487" width="15" height="10" fill="#193a78"/>
<rect x="627" y="1487" width="62" height="10" fill="#153a77"/>
<rect x="689" y="1487" width="16" height="10" fill="#193a78"/>
<rect x="705" y="1487" width="15" height="10" fill="#153a77"/>
<rect x="720" y="1487" width="16" height="10" fill="#113b75"/>
<rect x="736" y="1487" width="31" height="10" fill="#153a77"/>
<rect x="767" y="1487" width="16" height="10" fill="#193a78"/>
<rect x="783" y="1487" width="93" height="10" fill="#153a77"/>
<rect x="876" y="1487" width="31" height="10" fill="#193a78"/>
<rect x="907" y="1487" width="15" height="10" fill="#153a77"/>
<rect x="1109" y="1487" width="15" height="10" fill="#5e3496"/>
<rect x="488" y="1497" width="31" height="9" fill="#153a77"/>
<rect x="519" y="1497" width="15" height="9" fill="#113b75"/>
<rect x="534" y="1497" width="31" height="9" fill="#193a78"/>
<rect x="581" y="1497" width="62" height="9" fill="#153a77"/>
<rect x="643" y="1497" width="15" height="9" fill="#1d397a"/>
<rect x="658" y="1497" width="16" height="9" fill="#153a77"/>
<rect x="674" y="1497" width="15" height="9" fill="#193a78"/>
<rect x="689" y="1497" width="16" height="9" fill="#153a77"/>
<rect x="705" y="1497" width="15" height="9" fill="#193a78"/>
<rect x="720" y="1497" width="32" height="9" fill="#153a77"/>
<rect x="752" y="1497" width="46" height="9" fill="#193a78"/>
<rect x="798" y="1497" width="16" height="9" fill="#153a77"/>
<rect x="829" y="1497" width="31" height="9" fill="#153a77"/>
<rect x="860" y="1497" width="16" height="9" fill="#113b75"/>
<rect x="876" y="1497" width="31" height="9" fill="#193a78"/>
<rect x="907" y="1497" width="15" height="9" fill="#153a77"/>
<rect x="922" y="1497" width="16" height="9" fill="#193a78"/>
<rect x="938" y="1497" width="15" height="9" fill="#053c70"/>
<rect x="472" y="1506" width="47" height="10" fill="#153a77"/>
<rect x="519" y="1506" width="15" height="10" fill="#193a78"/>
<rect x="534" y="1506" width="47" height="10" fill="#153a77"/>
<rect x="581" y="1506" width="15" height="10" fill="#193a78"/>
<rect x="596" y="1506" width="16" height="10" fill="#1d397a"/>
<rect x="612" y="1506" width="15" height="10" fill="#193a78"/>
<rect x="627" y="1506" width="16" height="10" fill="#1d397a"/>
<rect x="643" y="1506" width="15" height="10" fill="#193a78"/>
<rect x="658" y="1506" width="47" height="10" fill="#153a77"/>
<rect x="705" y="1506" width="15" height="10" fill="#193a78"/>
<rect x="720" y="1506" width="32" height="10" fill="#153a77"/>
<rect x="752" y="1506" width="15" height="10" fill="#193a78"/>
<rect x="767" y="1506" width="16" height="10" fill="#153a77"/>
<rect x="783" y="1506" width="15" height="10" fill="#113b75"/>
<rect x="798" y="1506" width="16" height="10" fill="#193a78"/>
<rect x="814" y="1506" width="46" height="10" fill="#153a77"/>
<rect x="860" y="1506" width="16" height="10" fill="#193a78"/>
<rect x="876" y="1506" width="31" height="10" fill="#153a77"/>
<rect x="907" y="1506" width="15" height="10" fill="#193a78"/>
<rect x="922" y="1506" width="16" height="10" fill="#153a77"/>
<rect x="1171" y="1506" width="31" height="10" fill="#663399"/>
<rect x="456" y="1516" width="16" height="10" fill="#193a78"/>
<rect x="488" y="1516" width="15" height="10" fill="#153a77"/>
<rect x="503" y="1516" width="31" height="10" fill="#193a78"/>
<rect x="534" y="1516" width="16" height="10" fill="#153a77"/>
<rect x="550" y="1516" width="15" height="10" fill="#193a78"/>
<rect x="565" y="1516" width="31" height="10" fill="#153a77"/>
<rect x="596" y="1516" width="16" height="10" fill="#193a78"/>
<rect x="612" y="1516" width="31" height="10" fill="#153a77"/>
<rect x="643" y="1516" width="15" height="10" fill="#113b75"/>
<rect x="658" y="1516" width="47" height="10" fill="#153a77"/>
<rect x="705" y="1516" width="15" height="10" fill="#084c5f"/>
<rect x="720" y="1516" width="16" height="10" fill="#193a78"/>
<rect x="736" y="1516" width="16" height="10" fill="#153a77"/>
<rect x="752" y="1516" width="31" height="10" fill="#193a78"/>
<rect x="783" y="1516" width="124" height="10" fill="#153a77"/>
<rect x="907" y="1516" width="31" height="10" fill="#193a78"/>
<rect x="938" y="1516" width="15" height="10" fill="#093b71"/>
<rect x="953" y="1516" width="16" height="10" fill="#013c6e"/>
<rect x="1124" y="1516" width="16" height="10" fill="#663399"/>
<rect x="1140" y="1516" width="31" height="10" fill="#4a368d"/>
<rect x="1171" y="1516" width="46" height="10" fill="#663399"/>
<rect x="472" y="1526" width="16" height="9" fill="#153a77"/>
<rect x="488" y="1526" width="15" height="9" fill="#193a78"/>
<rect x="503" y="1526" width="47" height="9" fill="#153a77"/>
<rect x="550" y="1526" width="31" height="9" fill="#193a78"/>
<rect x="581" y="1526" width="15" height="9" fill="#113b75"/>
<rect x="596" y="1526" width="16" height="9" fill="#193a78"/>
<rect x="612" y="1526" width="15" height="9" fill="#113b75"/>
<rect x="627" y="1526" width="16" height="9" fill="#0a5259"/>
<rect x="643" y="1526" width="31" height="9" fill="#0d3b73"/>
<rect x="674" y="1526" width="15" height="9" fill="#0a5259"/>
<rect x="689" y="1526" width="16" height="9" fill="#193a78"/>
<rect x="705" y="1526" width="62" height="9" fill="#153a77"/>
<rect x="767" y="1526" width="16" height="9" fill="#193a78"/>
<rect x="783" y="1526" width="31" height="9" fill="#153a77"/>
<rect x="814" y="1526" width="15" height="9" fill="#193a78"/>
<rect x="829" y="1526" width="78" height="9" fill="#153a77"/>
<rect x="907" y="1526" width="15" height="9" fill="#053c70"/>
<rect x="922" y="1526" width="16" height="9" fill="#013c6e"/>
<rect x="938" y="1526" width="15" height="9" fill="#053c70"/>
<rect x="1124" y="1526" width="16" height="9" fill="#4a368d"/>
<rect x="1140" y="1526" width="31" height="9" fill="#663399"/>
<rect x="1171" y="1526" width="15" height="9" fill="#5a3494"/>
<rect x="1186" y="1526" width="31" height="9" fill="#663399"/>
<rect x="1233" y="1526" width="31" height="9" fill="#663399"/>
<rect x="456" y="1535" width="109" height="10" fill="#153a77"/>
<rect x="565" y="1535" width="16" height="10" fill="#193a78"/>
<rect x="581" y="1535" width="31" height="10" fill="#153a77"/>
<rect x="612" y="1535" width="15" height="10" fill="#193a78"/>
<rect x="627" y="1535" width="16" height="10" fill="#153a77"/>
<rect x="643" y="1535" width="31" height="10" fill="#0d3b73"/>
<rect x="674" y="1535" width="15" height="10" fill="#0a5259"/>
<rect x="689" y="1535" width="16" height="10" fill="#1e822b"/>
<rect x="705" y="1535" width="15" height="10" fill="#113b75"/>
<rect x="720" y="1535" width="32" height="10" fill="#153a77"/>
<rect x="752" y="1535" width="15" height="10" fill="#193a78"/>
<rect x="767" y="1535" width="47" height="10" fill="#153a77"/>
<rect x="814" y="1535" width="15" height="10" fill="#193a78"/>
<rect x="829" y="1535" width="16" height="10" fill="#1d397a"/>
<rect x="845" y="1535" width="46" height="10" fill="#153a77"/>
<rect x="891" y="1535" width="16" height="10" fill="#193a78"/>
<rect x="907" y="1535" width="15" height="10" fill="#153a77"/>
<rect x="922" y="1535" width="16" height="10" fill="#1d397a"/>
<rect x="938" y="1535" width="15" height="10" fill="#153a77"/>
<rect x="953" y="1535" width="16" height="10" fill="#094f5c"/>
<rect x="1124" y="1535" width="31" height="10" fill="#663399"/>
<rect x="1155" y="1535" width="16" height="10" fill="#623397"/>
<rect x="1171" y="1535" width="78" height="10" fill="#663399"/>
<rect x="456" y="1545" width="63" height="10" fill="#153a77"/>
<rect x="519" y="1545" width="15" height="10" fill="#113b75"/>
<rect x="534" y="1545" width="16" height="10" fill="#054565"/>
<rect x="550" y="1545" width="15" height="10" fill="#094f5c"/>
<rect x="565" y="1545" width="16" height="10" fill="#084c5f"/>
<rect x="581" y="1545" width="15" height="10" fill="#094f5c"/>
<rect x="596" y="1545" width="16" height="10" fill="#105f4d"/>
<rect x="612" y="1545" width="15" height="10" fill="#113b75"/>
<rect x="627" y="1545" width="16" height="10" fill="#218825"/>
<rect x="658" y="1545" width="16" height="10" fill="#023f6b"/>
<rect x="674" y="1545" width="15" height="10" fill="#1d7e2e"/>
<rect x="689" y="1545" width="16" height="10" fill="#0d3b73"/>
<rect x="705" y="1545" width="15" height="10" fill="#054565"/>
<rect x="720" y="1545" width="16" height="10" fill="#193a78"/>
<rect x="736" y="1545" width="93" height="10" fill="#153a77"/>
<rect x="829" y="1545" width="31" height="10" fill="#193a78"/>
<rect x="860" y="1545" width="16" height="10" fill="#153a77"/>
<rect x="876" y="1545" width="15" height="10" fill="#193a78"/>
<rect x="891" y="1545" width="16" height="10" fill="#1d397a"/>
<rect x="907" y="1545" width="15" height="10" fill="#013c6e"/>
<rect x="922" y="1545" width="16" height="10" fill="#064962"/>
<rect x="938" y="1545" width="15" height="10" fill="#023f6b"/>
<rect x="953" y="1545" width="16" height="10" fill="#013c6e"/>
<rect x="969" y="1545" width="16" height="10" fill="#093b71"/>
<rect x="1124" y="1545" width="16" height="10" fill="#663399"/>
<rect x="1140" y="1545" width="15" height="10" fill="#563492"/>
<rect x="1155" y="1545" width="31" height="10" fill="#663399"/>
<rect x="1186" y="1545" width="16" height="10" fill="#523590"/>
<rect x="1217" y="1545" width="63" height="10" fill="#663399"/>
<rect x="1295" y="1545" width="16" height="10" fill="#663399"/>
<rect x="441" y="1555" width="15" height="9" fill="#153a77"/>
<rect x="456" y="1555" width="16" height="9" fill="#193a78"/>
<rect x="472" y="1555" width="31" height="9" fill="#153a77"/>
<rect x="503" y="1555" width="16" height="9" fill="#064962"/>
<rect x="519" y="1555" width="15" height="9" fill="#153a77"/>
<rect x="534" y="1555" width="31" height="9" fill="#113b75"/>
<rect x="565" y="1555" width="16" height="9" fill="#094f5c"/>
<rect x="581" y="1555" width="15" height="9" fill="#1a7834"/>
<rect x="596" y="1555" width="16" height="9" fill="#166f3d"/>
<rect x="612" y="1555" width="15" height="9" fill="#228b22"/>
<rect x="627" y="1555" width="16" height="9" fill="#094f5c"/>
<rect x="643" y="1555" width="15" height="9" fill="#023f6b"/>
<rect x="658" y="1555" width="16" height="9" fill="#228b22"/>
<rect x="674" y="1555" width="15" height="9" fill="#1e822b"/>
<rect x="689" y="1555" width="16" height="9" fill="#1d7e2e"/>
<rect x="705" y="1555" width="15" height="9" fill="#1b7b31"/>
<rect x="720" y="1555" width="16" height="9" fill="#0a5259"/>
<rect x="736" y="1555" width="16" height="9" fill="#0d3b73"/>
<rect x="752" y="1555" width="15" height="9" fill="#153a77"/>
<rect x="767" y="1555" width="31" height="9" fill="#193a78"/>
<rect x="798" y="1555" width="31" height="9" fill="#153a77"/>
<rect x="829" y="1555" width="16" height="9" fill="#193a78"/>
<rect x="845" y="1555" width="46" height="9" fill="#153a77"/>
<rect x="891" y="1555" width="16" height="9" fill="#113b75"/>
<rect x="907" y="1555" width="15" height="9" fill="#153a77"/>
<rect x="922" y="1555" width="16" height="9" fill="#013c6e"/>
<rect x="938" y="1555" width="15" height="9" fill="#193a78"/>
<rect x="953" y="1555" width="16" height="9" fill="#013c6e"/>
<rect x="1124" y="1555" width="47" height="9" fill="#663399"/>
<rect x="1171" y="1555" width="15" height="9" fill="#563492"/>
<rect x="1186" y="1555" width="16" height="9" fill="#5e3496"/>
<rect x="1202" y="1555" width="78" height="9" fill="#663399"/>
<rect x="1295" y="1555" width="31" height="9" fill="#663399"/>
<rect x="441" y="1564" width="31" height="10" fill="#153a77"/>
<rect x="472" y="1564" width="16" height="10" fill="#193a78"/>
<rect x="488" y="1564" width="15" height="10" fill="#153a77"/>
<rect x="503" y="1564" width="16" height="10" fill="#17723a"/>
<rect x="519" y="1564" width="15" height="10" fill="#153a77"/>
<rect x="534" y="1564" width="31" height="10" fill="#17723a"/>
<rect x="565" y="1564" width="16" height="10" fill="#094f5c"/>
<rect x="581" y="1564" width="15" height="10" fill="#1a7834"/>
<rect x="596" y="1564" width="16" height="10" fill="#105f4d"/>
<rect x="612" y="1564" width="15" height="10" fill="#1e822b"/>
<rect x="627" y="1564" width="16" height="10" fill="#094f5c"/>
<rect x="643" y="1564" width="46" height="10" fill="#228b22"/>
<rect x="689" y="1564" width="16" height="10" fill="#218825"/>
<rect x="705" y="1564" width="15" height="10" fill="#1d7e2e"/>
<rect x="720" y="1564" width="16" height="10" fill="#044268"/>
<rect x="736" y="1564" width="16" height="10" fill="#053c70"/>
<rect x="752" y="1564" width="15" height="10" fill="#084c5f"/>
<rect x="783" y="1564" width="15" height="10" fill="#153a77"/>
<rect x="798" y="1564" width="16" height="10" fill="#193a78"/>
<rect x="814" y="1564" width="15" height="10" fill="#153a77"/>
<rect x="829" y="1564" width="16" height="10" fill="#193a78"/>
<rect x="845" y="1564" width="46" height="10" fill="#153a77"/>
<rect x="891" y="1564" width="16" height="10" fill="#113b75"/>
<rect x="907" y="1564" width="15" height="10" fill="#053c70"/>
<rect x="922" y="1564" width="16" height="10" fill="#013c6e"/>
<rect x="938" y="1564" width="31" height="10" fill="#093b71"/>
<rect x="1124" y="1564" width="16" height="10" fill="#363784"/>
<rect x="1140" y="1564" width="15" height="10" fill="#044268"/>
<rect x="1155" y="1564" width="16" height="10" fill="#4a368d"/>
<rect x="1171" y="1564" width="15" height="10" fill="#42368a"/>
<rect x="1186" y="1564" width="16" height="10" fill="#5e3496"/>
<rect x="1202" y="1564" width="15" height="10" fill="#623397"/>
<rect x="1217" y="1564" width="32" height="10" fill="#663399"/>
<rect x="1280" y="1564" width="31" height="10" fill="#663399"/>
<rect x="1311" y="1564" width="15" height="10" fill="#623397"/>
<rect x="1326" y="1564" width="16" height="10" fill="#5e3496"/>
<rect x="441" y="1574" width="31" height="10" fill="#153a77"/>
<rect x="472" y="1574" width="16" height="10" fill="#0c5556"/>
<rect x="488" y="1574" width="15" height="10" fill="#044268"/>
<rect x="503" y="1574" width="16" height="10" fill="#228b22"/>
<rect x="519" y="1574" width="31" height="10" fill="#218825"/>
<rect x="550" y="1574" width="15" height="10" fill="#1e822b"/>
<rect x="565" y="1574" width="16" height="10" fill="#228b22"/>
<rect x="581" y="1574" width="15" height="10" fill="#1b7b31"/>
<rect x="596" y="1574" width="16" height="10" fill="#228b22"/>
<rect x="612" y="1574" width="15" height="10" fill="#218825"/>
<rect x="627" y="1574" width="78" height="10" fill="#228b22"/>
<rect x="705" y="1574" width="15" height="10" fill="#1d7e2e"/>
<rect x="720" y="1574" width="16" height="10" fill="#054565"/>
<rect x="736" y="1574" width="16" height="10" fill="#064962"/>
<rect x="752" y="1574" width="15" height="10" fill="#136843"/>
<rect x="767" y="1574" width="16" height="10" fill="#0d3b73"/>
<rect x="783" y="1574" width="15" height="10" fill="#193a78"/>
<rect x="798" y="1574" width="47" height="10" fill="#153a77"/>
<rect x="845" y="1574" width="15" height="10" fill="#193a78"/>
<rect x="860" y="1574" width="62" height="10" fill="#153a77"/>
<rect x="922" y="1574" width="16" height="10" fill="#084c5f"/>
<rect x="938" y="1574" width="15" height="10" fill="#153a77"/>
<rect x="953" y="1574" width="16" height="10" fill="#064962"/>
<rect x="969" y="1574" width="16" height="10" fill="#013c6e"/>
<rect x="1062" y="1574" width="16" height="10" fill="#2d3881"/>
<rect x="1078" y="1574" width="15" height="10" fill="#113b75"/>
<rect x="1109" y="1574" width="15" height="10" fill="#153a77"/>
<rect x="1124" y="1574" width="16" height="10" fill="#663399"/>
<rect x="1140" y="1574" width="15" height="10" fill="#5a3494"/>
<rect x="1155" y="1574" width="31" height="10" fill="#663399"/>
<rect x="1186" y="1574" width="16" height="10" fill="#523590"/>
<rect x="1202" y="1574" width="15" height="10" fill="#623397"/>
<rect x="1217" y="1574" width="47" height="10" fill="#663399"/>
<rect x="1280" y="1574" width="31" height="10" fill="#663399"/>
<rect x="1311" y="1574" width="15" height="10" fill="#623397"/>
<rect x="1326" y="1574" width="16" height="10" fill="#5e3496"/>
<rect x="1342" y="1574" width="15" height="10" fill="#523590"/>
<rect x="456" y="1584" width="16" height="9" fill="#153a77"/>
<rect x="472" y="1584" width="16" height="9" fill="#044268"/>
<rect x="488" y="1584" width="15" height="9" fill="#0c5556"/>
<rect x="503" y="1584" width="16" height="9" fill="#218825"/>
<rect x="519" y="1584" width="15" height="9" fill="#1e822b"/>
<rect x="534" y="1584" width="155" height="9" fill="#228b22"/>
<rect x="689" y="1584" width="16" height="9" fill="#1e822b"/>
<rect x="705" y="1584" width="15" height="9" fill="#1d7e2e"/>
<rect x="720" y="1584" width="16" height="9" fill="#197537"/>
<rect x="736" y="1584" width="16" height="9" fill="#1a7834"/>
<rect x="752" y="1584" width="15" height="9" fill="#11624a"/>
<rect x="767" y="1584" width="16" height="9" fill="#113b75"/>
<rect x="783" y="1584" width="15" height="9" fill="#153a77"/>
<rect x="798" y="1584" width="16" height="9" fill="#193a78"/>
<rect x="814" y="1584" width="15" height="9" fill="#153a77"/>
<rect x="829" y="1584" width="16" height="9" fill="#193a78"/>
<rect x="845" y="1584" width="46" height="9" fill="#153a77"/>
<rect x="891" y="1584" width="16" height="9" fill="#1d397a"/>
<rect x="907" y="1584" width="15" height="9" fill="#153a77"/>
<rect x="922" y="1584" width="16" height="9" fill="#013c6e"/>
<rect x="938" y="1584" width="15" height="9" fill="#113b75"/>
<rect x="953" y="1584" width="16" height="9" fill="#053c70"/>
<rect x="969" y="1584" width="16" height="9" fill="#0c5556"/>
<rect x="1031" y="1584" width="16" height="9" fill="#093b71"/>
<rect x="1062" y="1584" width="16" height="9" fill="#0d3b73"/>
<rect x="1078" y="1584" width="15" height="9" fill="#193a78"/>
<rect x="1093" y="1584" width="31" height="9" fill="#093b71"/>
<rect x="1124" y="1584" width="16" height="9" fill="#013c6e"/>
<rect x="1140" y="1584" width="31" height="9" fill="#3e3788"/>
<rect x="1171" y="1584" width="15" height="9" fill="#563492"/>
<rect x="1186" y="1584" width="16" height="9" fill="#523590"/>
<rect x="1202" y="1584" width="15" height="9" fill="#663399"/>
<rect x="1217" y="1584" width="16" height="9" fill="#623397"/>
<rect x="1233" y="1584" width="31" height="9" fill="#663399"/>
<rect x="1280" y="1584" width="15" height="9" fill="#663399"/>
<rect x="1295" y="1584" width="31" height="9" fill="#5e3496"/>
<rect x="1326" y="1584" width="16" height="9" fill="#663399"/>
<rect x="441" y="1593" width="15" height="10" fill="#153a77"/>
<rect x="456" y="1593" width="16" height="10" fill="#0d3b73"/>
<rect x="472" y="1593" width="31" height="10" fill="#0d5853"/>
<rect x="503" y="1593" width="16" height="10" fill="#053c70"/>
<rect x="519" y="1593" width="15" height="10" fill="#1f8528"/>
<rect x="534" y="1593" width="78" height="10" fill="#228b22"/>
<rect x="612" y="1593" width="15" height="10" fill="#166f3d"/>
<rect x="627" y="1593" width="93" height="10" fill="#228b22"/>
<rect x="720" y="1593" width="16" height="10" fill="#156b40"/>
<rect x="736" y="1593" width="16" height="10" fill="#228b22"/>
<rect x="752" y="1593" width="15" height="10" fill="#11624a"/>
<rect x="767" y="1593" width="31" height="10" fill="#193a78"/>
<rect x="798" y="1593" width="31" height="10" fill="#153a77"/>
<rect x="829" y="1593" width="16" height="10" fill="#113b75"/>
<rect x="845" y="1593" width="15" height="10" fill="#193a78"/>
<rect x="860" y="1593" width="31" height="10" fill="#153a77"/>
<rect x="891" y="1593" width="16" height="10" fill="#113b75"/>
<rect x="907" y="1593" width="15" height="10" fill="#0d3b73"/>
<rect x="922" y="1593" width="16" height="10" fill="#093b71"/>
<rect x="938" y="1593" width="15" height="10" fill="#053c70"/>
<rect x="953" y="1593" width="16" height="10" fill="#054565"/>
<rect x="969" y="1593" width="16" height="10" fill="#053c70"/>
<rect x="1031" y="1593" width="16" height="10" fill="#093b71"/>
<rect x="1047" y="1593" width="15" height="10" fill="#094f5c"/>
<rect x="1062" y="1593" width="16" height="10" fill="#2d3881"/>
<rect x="1078" y="1593" width="15" height="10" fill="#084c5f"/>
<rect x="1093" y="1593" width="47" height="10" fill="#013c6e"/>
<rect x="1140" y="1593" width="15" height="10" fill="#523590"/>
<rect x="1155" y="1593" width="16" height="10" fill="#4e358f"/>
<rect x="1171" y="1593" width="15" height="10" fill="#663399"/>
<rect x="1186" y="1593" width="16" height="10" fill="#1d397a"/>
<rect x="1202" y="1593" width="31" height="10" fill="#663399"/>
<rect x="1249" y="1593" width="46" height="10" fill="#663399"/>
<rect x="1295" y="1593" width="31" height="10" fill="#5e3496"/>
<rect x="441" y="1603" width="15" height="10" fill="#197537"/>
<rect x="456" y="1603" width="16" height="10" fill="#1d7e2e"/>
<rect x="472" y="1603" width="16" height="10" fill="#054565"/>
<rect x="488" y="1603" width="15" height="10" fill="#218825"/>
<rect x="519" y="1603" width="108" height="10" fill="#228b22"/>
<rect x="627" y="1603" width="16" height="10" fill="#166f3d"/>
<rect x="643" y="1603" width="15" height="10" fill="#228b22"/>
<rect x="658" y="1603" width="16" height="10" fill="#1e822b"/>
<rect x="674" y="1603" width="15" height="10" fill="#218825"/>
<rect x="689" y="1603" width="16" height="10" fill="#1f8528"/>
<rect x="705" y="1603" width="15" height="10" fill="#218825"/>
<rect x="720" y="1603" width="16" height="10" fill="#1a7834"/>
<rect x="736" y="1603" width="16" height="10" fill="#228b22"/>
<rect x="752" y="1603" width="15" height="10" fill="#0d5853"/>
<rect x="767" y="1603" width="16" height="10" fill="#197537"/>
<rect x="783" y="1603" width="31" height="10" fill="#1d397a"/>
<rect x="814" y="1603" width="15" height="10" fill="#193a78"/>
<rect x="829" y="1603" width="31" height="10" fill="#153a77"/>
<rect x="860" y="1603" width="16" height="10" fill="#193a78"/>
<rect x="876" y="1603" width="15" height="10" fill="#153a77"/>
<rect x="891" y="1603" width="16" height="10" fill="#013c6e"/>
<rect x="907" y="1603" width="46" height="10" fill="#053c70"/>
<rect x="953" y="1603" width="16" height="10" fill="#013c6e"/>
<rect x="969" y="1603" width="16" height="10" fill="#053c70"/>
<rect x="985" y="1603" width="15" height="10" fill="#0d3b73"/>
<rect x="1000" y="1603" width="16" height="10" fill="#044268"/>
<rect x="1031" y="1603" width="16" height="10" fill="#023f6b"/>
<rect x="1047" y="1603" width="15" height="10" fill="#093b71"/>
<rect x="1062" y="1603" width="16" height="10" fill="#25397d"/>
<rect x="1078" y="1603" width="15" height="10" fill="#084c5f"/>
<rect x="1093" y="1603" width="16" height="10" fill="#3e3788"/>
<rect x="1109" y="1603" width="15" height="10" fill="#136843"/>
<rect x="1124" y="1603" width="16" height="10" fill="#084c5f"/>
<rect x="1140" y="1603" width="15" height="10" fill="#3e3788"/>
<rect x="1155" y="1603" width="31" height="10" fill="#663399"/>
<rect x="1186" y="1603" width="16" height="10" fill="#4e358f"/>
<rect x="1202" y="1603" width="140" height="10" fill="#663399"/>
<rect x="472" y="1613" width="16" height="9" fill="#1e822b"/>
<rect x="534" y="1613" width="16" height="9" fill="#17723a"/>
<rect x="550" y="1613" width="62" height="9" fill="#228b22"/>
<rect x="612" y="1613" width="15" height="9" fill="#166f3d"/>
<rect x="643" y="1613" width="31" height="9" fill="#1e822b"/>
<rect x="674" y="1613" width="15" height="9" fill="#228b22"/>
<rect x="689" y="1613" width="16" height="9" fill="#105f4d"/>
<rect x="705" y="1613" width="15" height="9" fill="#1d7e2e"/>
<rect x="720" y="1613" width="16" height="9" fill="#0d5853"/>
<rect x="736" y="1613" width="16" height="9" fill="#156b40"/>
<rect x="752" y="1613" width="15" height="9" fill="#17723a"/>
<rect x="767" y="1613" width="16" height="9" fill="#094f5c"/>
<rect x="783" y="1613" width="15" height="9" fill="#064962"/>
<rect x="798" y="1613" width="16" height="9" fill="#053c70"/>
<rect x="814" y="1613" width="15" height="9" fill="#113b75"/>
<rect x="829" y="1613" width="31" height="9" fill="#153a77"/>
<rect x="860" y="1613" width="16" height="9" fill="#113b75"/>
<rect x="876" y="1613" width="15" height="9" fill="#153a77"/>
<rect x="891" y="1613" width="16" height="9" fill="#093b71"/>
<rect x="907" y="1613" width="15" height="9" fill="#044268"/>
<rect x="922" y="1613" width="16" height="9" fill="#023f6b"/>
<rect x="938" y="1613" width="15" height="9" fill="#113b75"/>
<rect x="953" y="1613" width="16" height="9" fill="#054565"/>
<rect x="969" y="1613" width="16" height="9" fill="#053c70"/>
<rect x="985" y="1613" width="15" height="9" fill="#0d3b73"/>
<rect x="1000" y="1613" width="16" height="9" fill="#153a77"/>
<rect x="1016" y="1613" width="15" height="9" fill="#054565"/>
<rect x="1031" y="1613" width="16" height="9" fill="#053c70"/>
<rect x="1047" y="1613" width="15" height="9" fill="#093b71"/>
<rect x="1062" y="1613" width="16" height="9" fill="#053c70"/>
<rect x="1078" y="1613" width="15" height="9" fill="#3e3788"/>
<rect x="1093" y="1613" width="16" height="9" fill="#053c70"/>
<rect x="1124" y="1613" width="16" height="9" fill="#25397d"/>
<rect x="1140" y="1613" width="15" height="9" fill="#084c5f"/>
<rect x="1155" y="1613" width="16" height="9" fill="#0e5c50"/>
<rect x="1171" y="1613" width="15" height="9" fill="#21397c"/>
<rect x="1186" y="1613" width="16" height="9" fill="#3a3786"/>
<rect x="1202" y="1613" width="31" height="9" fill="#663399"/>
<rect x="1233" y="1613" width="16" height="9" fill="#623397"/>
<rect x="1249" y="1613" width="31" height="9" fill="#663399"/>
<rect x="1295" y="1613" width="47" height="9" fill="#663399"/>
<rect x="503" y="1622" width="31" height="10" fill="#228b22"/>
<rect x="550" y="1622" width="15" height="10" fill="#17723a"/>
<rect x="565" y="1622" width="31" height="10" fill="#228b22"/>
<rect x="596" y="1622" width="16" height="10" fill="#166f3d"/>
<rect x="612" y="1622" width="15" height="10" fill="#228b22"/>
<rect x="627" y="1622" width="16" height="10" fill="#1f8528"/>
<rect x="643" y="1622" width="15" height="10" fill="#228b22"/>
<rect x="658" y="1622" width="31" height="10" fill="#218825"/>
<rect x="689" y="1622" width="16" height="10" fill="#1f8528"/>
<rect x="705" y="1622" width="15" height="10" fill="#105f4d"/>
<rect x="720" y="1622" width="47" height="10" fill="#053c70"/>
<rect x="767" y="1622" width="16" height="10" fill="#084c5f"/>
<rect x="783" y="1622" width="15" height="10" fill="#044268"/>
<rect x="798" y="1622" width="16" height="10" fill="#0d3b73"/>
<rect x="814" y="1622" width="15" height="10" fill="#113b75"/>
<rect x="829" y="1622" width="16" height="10" fill="#053c70"/>
<rect x="845" y="1622" width="15" height="10" fill="#0d3b73"/>
<rect x="860" y="1622" width="16" height="10" fill="#064962"/>
<rect x="876" y="1622" width="15" height="10" fill="#113b75"/>
<rect x="891" y="1622" width="16" height="10" fill="#153a77"/>
<rect x="907" y="1622" width="31" height="10" fill="#013c6e"/>
<rect x="938" y="1622" width="15" height="10" fill="#084c5f"/>
<rect x="953" y="1622" width="16" height="10" fill="#023f6b"/>
<rect x="969" y="1622" width="16" height="10" fill="#0d3b73"/>
<rect x="985" y="1622" width="31" height="10" fill="#193a78"/>
<rect x="1016" y="1622" width="15" height="10" fill="#093b71"/>
<rect x="1031" y="1622" width="47" height="10" fill="#0d3b73"/>
<rect x="1078" y="1622" width="15" height="10" fill="#29387f"/>
<rect x="1093" y="1622" width="16" height="10" fill="#064962"/>
<rect x="1109" y="1622" width="31" height="10" fill="#153a77"/>
<rect x="1140" y="1622" width="15" height="10" fill="#0d3b73"/>
<rect x="1155" y="1622" width="16" height="10" fill="#3e3788"/>
<rect x="1171" y="1622" width="15" height="10" fill="#42368a"/>
<rect x="1186" y="1622" width="16" height="10" fill="#363784"/>
<rect x="1202" y="1622" width="15" height="10" fill="#663399"/>
<rect x="1217" y="1622" width="16" height="10" fill="#623397"/>
<rect x="1233" y="1622" width="16" height="10" fill="#663399"/>
<rect x="1249" y="1622" width="15" height="10" fill="#42368a"/>
<rect x="1264" y="1622" width="16" height="10" fill="#623397"/>
<rect x="1280" y="1622" width="62" height="10" fill="#663399"/>
<rect x="456" y="1632" width="16" height="10" fill="#218825"/>
<rect x="488" y="1632" width="15" height="10" fill="#228b22"/>
<rect x="565" y="1632" width="16" height="10" fill="#228b22"/>
<rect x="581" y="1632" width="15" height="10" fill="#218825"/>
<rect x="596" y="1632" width="16" height="10" fill="#228b22"/>
<rect x="612" y="1632" width="15" height="10" fill="#218825"/>
<rect x="627" y="1632" width="16" height="10" fill="#228b22"/>
<rect x="643" y="1632" width="15" height="10" fill="#1e822b"/>
<rect x="658" y="1632" width="16" height="10" fill="#218825"/>
<rect x="674" y="1632" width="15" height="10" fill="#1e822b"/>
<rect x="689" y="1632" width="16" height="10" fill="#0e5c50"/>
<rect x="705" y="1632" width="15" height="10" fill="#093b71"/>
<rect x="720" y="1632" width="16" height="10" fill="#156b40"/>
<rect x="736" y="1632" width="16" height="10" fill="#0d5853"/>
<rect x="752" y="1632" width="15" height="10" fill="#093b71"/>
<rect x="767" y="1632" width="16" height="10" fill="#053c70"/>
<rect x="783" y="1632" width="31" height="10" fill="#054565"/>
<rect x="814" y="1632" width="15" height="10" fill="#11624a"/>
<rect x="829" y="1632" width="16" height="10" fill="#0a5259"/>
<rect x="845" y="1632" width="15" height="10" fill="#093b71"/>
<rect x="860" y="1632" width="16" height="10" fill="#0d3b73"/>
<rect x="876" y="1632" width="15" height="10" fill="#053c70"/>
<rect x="891" y="1632" width="47" height="10" fill="#013c6e"/>
<rect x="938" y="1632" width="31" height="10" fill="#0d3b73"/>
<rect x="969" y="1632" width="16" height="10" fill="#084c5f"/>
<rect x="985" y="1632" width="15" height="10" fill="#1d397a"/>
<rect x="1000" y="1632" width="16" height="10" fill="#044268"/>
<rect x="1016" y="1632" width="15" height="10" fill="#0d3b73"/>
<rect x="1031" y="1632" width="16" height="10" fill="#013c6e"/>
<rect x="1047" y="1632" width="15" height="10" fill="#093b71"/>
<rect x="1062" y="1632" width="16" height="10" fill="#21397c"/>
<rect x="1078" y="1632" width="15" height="10" fill="#054565"/>
<rect x="1093" y="1632" width="16" height="10" fill="#044268"/>
<rect x="1109" y="1632" width="31" height="10" fill="#054565"/>
<rect x="1140" y="1632" width="15" height="10" fill="#113b75"/>
<rect x="1155" y="1632" width="16" height="10" fill="#3e3788"/>
<rect x="1171" y="1632" width="15" height="10" fill="#42368a"/>
<rect x="1186" y="1632" width="16" height="10" fill="#363784"/>
<rect x="1202" y="1632" width="15" height="10" fill="#663399"/>
<rect x="1217" y="1632" width="16" height="10" fill="#054565"/>
<rect x="1233" y="1632" width="16" height="10" fill="#113b75"/>
<rect x="1249" y="1632" width="31" height="10" fill="#623397"/>
<rect x="1280" y="1632" width="62" height="10" fill="#663399"/>
<rect x="472" y="1642" width="16" height="9" fill="#1f8528"/>
<rect x="488" y="1642" width="31" height="9" fill="#228b22"/>
<rect x="519" y="1642" width="15" height="9" fill="#1e822b"/>
<rect x="550" y="1642" width="62" height="9" fill="#228b22"/>
<rect x="612" y="1642" width="15" height="9" fill="#1d7e2e"/>
<rect x="627" y="1642" width="31" height="9" fill="#228b22"/>
<rect x="658" y="1642" width="16" height="9" fill="#156b40"/>
<rect x="674" y="1642" width="15" height="9" fill="#166f3d"/>
<rect x="689" y="1642" width="16" height="9" fill="#156b40"/>
<rect x="705" y="1642" width="15" height="9" fill="#0e5c50"/>
<rect x="720" y="1642" width="16" height="9" fill="#0d5853"/>
<rect x="736" y="1642" width="16" height="9" fill="#053c70"/>
<rect x="752" y="1642" width="15" height="9" fill="#064962"/>
<rect x="767" y="1642" width="16" height="9" fill="#0d3b73"/>
<rect x="783" y="1642" width="15" height="9" fill="#044268"/>
<rect x="798" y="1642" width="16" height="9" fill="#054565"/>
<rect x="814" y="1642" width="15" height="9" fill="#044268"/>
<rect x="829" y="1642" width="16" height="9" fill="#013c6e"/>
<rect x="845" y="1642" width="15" height="9" fill="#064962"/>
<rect x="860" y="1642" width="31" height="9" fill="#054565"/>
<rect x="891" y="1642" width="16" height="9" fill="#113b75"/>
<rect x="907" y="1642" width="31" height="9" fill="#013c6e"/>
<rect x="938" y="1642" width="15" height="9" fill="#044268"/>
<rect x="953" y="1642" width="16" height="9" fill="#013c6e"/>
<rect x="969" y="1642" width="16" height="9" fill="#053c70"/>
<rect x="985" y="1642" width="15" height="9" fill="#093b71"/>
<rect x="1000" y="1642" width="31" height="9" fill="#053c70"/>
<rect x="1031" y="1642" width="16" height="9" fill="#193a78"/>
<rect x="1047" y="1642" width="15" height="9" fill="#064962"/>
<rect x="1062" y="1642" width="16" height="9" fill="#023f6b"/>
<rect x="1078" y="1642" width="15" height="9" fill="#044268"/>
<rect x="1093" y="1642" width="16" height="9" fill="#053c70"/>
<rect x="1109" y="1642" width="15" height="9" fill="#0a5259"/>
<rect x="1124" y="1642" width="16" height="9" fill="#0c5556"/>
<rect x="1140" y="1642" width="15" height="9" fill="#0a5259"/>
<rect x="1155" y="1642" width="16" height="9" fill="#153a77"/>
<rect x="1171" y="1642" width="15" height="9" fill="#3a3786"/>
<rect x="1186" y="1642" width="16" height="9" fill="#113b75"/>
<rect x="1202" y="1642" width="15" height="9" fill="#054565"/>
<rect x="1217" y="1642" width="16" height="9" fill="#42368a"/>
<rect x="1233" y="1642" width="16" height="9" fill="#663399"/>
<rect x="1249" y="1642" width="31" height="9" fill="#46368b"/>
<rect x="1280" y="1642" width="31" height="9" fill="#623397"/>
<rect x="1311" y="1642" width="15" height="9" fill="#5e3496"/>
<rect x="1342" y="1642" width="15" height="9" fill="#563492"/>
<rect x="1357" y="1642" width="16" height="9" fill="#4e358f"/>
<rect x="472" y="1651" width="16" height="10" fill="#218825"/>
<rect x="488" y="1651" width="15" height="10" fill="#1f8528"/>
<rect x="503" y="1651" width="16" height="10" fill="#1b7b31"/>
<rect x="519" y="1651" width="15" height="10" fill="#228b22"/>
<rect x="534" y="1651" width="16" height="10" fill="#218825"/>
<rect x="550" y="1651" width="108" height="10" fill="#228b22"/>
<rect x="658" y="1651" width="16" height="10" fill="#1b7b31"/>
<rect x="674" y="1651" width="15" height="10" fill="#11624a"/>
<rect x="689" y="1651" width="31" height="10" fill="#0e5c50"/>
<rect x="720" y="1651" width="32" height="10" fill="#0d5853"/>
<rect x="752" y="1651" width="15" height="10" fill="#053c70"/>
<rect x="767" y="1651" width="16" height="10" fill="#0c5556"/>
<rect x="783" y="1651" width="15" height="10" fill="#064962"/>
<rect x="798" y="1651" width="16" height="10" fill="#053c70"/>
<rect x="814" y="1651" width="15" height="10" fill="#054565"/>
<rect x="829" y="1651" width="16" height="10" fill="#013c6e"/>
<rect x="845" y="1651" width="15" height="10" fill="#044268"/>
<rect x="860" y="1651" width="16" height="10" fill="#084c5f"/>
<rect x="876" y="1651" width="15" height="10" fill="#023f6b"/>
<rect x="891" y="1651" width="31" height="10" fill="#054565"/>
<rect x="922" y="1651" width="16" height="10" fill="#023f6b"/>
<rect x="938" y="1651" width="47" height="10" fill="#013c6e"/>
<rect x="985" y="1651" width="15" height="10" fill="#0d3b73"/>
<rect x="1000" y="1651" width="31" height="10" fill="#21397c"/>
<rect x="1031" y="1651" width="16" height="10" fill="#153a77"/>
<rect x="1047" y="1651" width="15" height="10" fill="#093b71"/>
<rect x="1062" y="1651" width="16" height="10" fill="#193a78"/>
<rect x="1078" y="1651" width="15" height="10" fill="#023f6b"/>
<rect x="1093" y="1651" width="16" height="10" fill="#0a5259"/>
<rect x="1109" y="1651" width="15" height="10" fill="#084c5f"/>
<rect x="1124" y="1651" width="16" height="10" fill="#023f6b"/>
<rect x="1140" y="1651" width="15" height="10" fill="#0e5c50"/>
<rect x="1155" y="1651" width="16" height="10" fill="#153a77"/>
<rect x="1171" y="1651" width="15" height="10" fill="#113b75"/>
<rect x="1186" y="1651" width="31" height="10" fill="#3a3786"/>
<rect x="1217" y="1651" width="16" height="10" fill="#363784"/>
<rect x="1233" y="1651" width="31" height="10" fill="#663399"/>
<rect x="1264" y="1651" width="16" height="10" fill="#4e358f"/>
<rect x="1280" y="1651" width="15" height="10" fill="#523590"/>
<rect x="1295" y="1651" width="16" height="10" fill="#623397"/>
<rect x="1311" y="1651" width="31" height="10" fill="#663399"/>
<rect x="1342" y="1651" width="15" height="10" fill="#523590"/>
<rect x="1357" y="1651" width="16" height="10" fill="#563492"/>
<rect x="488" y="1661" width="15" height="10" fill="#228b22"/>
<rect x="503" y="1661" width="16" height="10" fill="#1f8528"/>
<rect x="534" y="1661" width="16" height="10" fill="#218825"/>
<rect x="596" y="1661" width="47" height="10" fill="#228b22"/>
<rect x="643" y="1661" width="15" height="10" fill="#105f4d"/>
<rect x="658" y="1661" width="16" height="10" fill="#0e5c50"/>
<rect x="674" y="1661" width="15" height="10" fill="#0d5853"/>
<rect x="689" y="1661" width="16" height="10" fill="#11624a"/>
<rect x="705" y="1661" width="15" height="10" fill="#0e5c50"/>
<rect x="720" y="1661" width="32" height="10" fill="#0c5556"/>
<rect x="752" y="1661" width="15" height="10" fill="#054565"/>
<rect x="767" y="1661" width="16" height="10" fill="#064962"/>
<rect x="783" y="1661" width="15" height="10" fill="#094f5c"/>
<rect x="798" y="1661" width="16" height="10" fill="#054565"/>
<rect x="814" y="1661" width="15" height="10" fill="#094f5c"/>
<rect x="829" y="1661" width="16" height="10" fill="#013c6e"/>
<rect x="845" y="1661" width="15" height="10" fill="#023f6b"/>
<rect x="860" y="1661" width="31" height="10" fill="#054565"/>
<rect x="891" y="1661" width="16" height="10" fill="#044268"/>
<rect x="907" y="1661" width="15" height="10" fill="#084c5f"/>
<rect x="922" y="1661" width="16" height="10" fill="#054565"/>
<rect x="938" y="1661" width="15" height="10" fill="#013c6e"/>
<rect x="953" y="1661" width="16" height="10" fill="#023f6b"/>
<rect x="969" y="1661" width="16" height="10" fill="#013c6e"/>
<rect x="985" y="1661" width="15" height="10" fill="#093b71"/>
<rect x="1000" y="1661" width="16" height="10" fill="#053c70"/>
<rect x="1016" y="1661" width="15" height="10" fill="#153a77"/>
<rect x="1031" y="1661" width="16" height="10" fill="#113b75"/>
<rect x="1047" y="1661" width="15" height="10" fill="#093b71"/>
<rect x="1062" y="1661" width="16" height="10" fill="#023f6b"/>
<rect x="1078" y="1661" width="15" height="10" fill="#193a78"/>
<rect x="1093" y="1661" width="16" height="10" fill="#044268"/>
<rect x="1109" y="1661" width="15" height="10" fill="#013c6e"/>
<rect x="1124" y="1661" width="16" height="10" fill="#093b71"/>
<rect x="1140" y="1661" width="15" height="10" fill="#0d5853"/>
<rect x="1155" y="1661" width="16" height="10" fill="#0e5c50"/>
<rect x="1171" y="1661" width="15" height="10" fill="#126546"/>
<rect x="1186" y="1661" width="16" height="10" fill="#46368b"/>
<rect x="1202" y="1661" width="15" height="10" fill="#363784"/>
<rect x="1217" y="1661" width="16" height="10" fill="#623397"/>
<rect x="1233" y="1661" width="16" height="10" fill="#5a3494"/>
<rect x="1249" y="1661" width="15" height="10" fill="#523590"/>
<rect x="1264" y="1661" width="16" height="10" fill="#5e3496"/>
<rect x="1280" y="1661" width="15" height="10" fill="#663399"/>
<rect x="1295" y="1661" width="16" height="10" fill="#623397"/>
<rect x="1311" y="1661" width="15" height="10" fill="#563492"/>
<rect x="1326" y="1661" width="16" height="10" fill="#623397"/>
<rect x="1342" y="1661" width="15" height="10" fill="#5e3496"/>
<rect x="1357" y="1661" width="16" height="10" fill="#623397"/>
<rect x="1373" y="1661" width="15" height="10" fill="#563492"/>
<rect x="472" y="1671" width="16" height="10" fill="#228b22"/>
<rect x="503" y="1671" width="47" height="10" fill="#228b22"/>
<rect x="581" y="1671" width="15" height="10" fill="#228b22"/>
<rect x="596" y="1671" width="31" height="10" fill="#218825"/>
<rect x="643" y="1671" width="15" height="10" fill="#218825"/>
<rect x="658" y="1671" width="16" height="10" fill="#166f3d"/>
<rect x="674" y="1671" width="15" height="10" fill="#11624a"/>
<rect x="689" y="1671" width="31" height="10" fill="#105f4d"/>
<rect x="720" y="1671" width="16" height="10" fill="#126546"/>
<rect x="736" y="1671" width="16" height="10" fill="#105f4d"/>
<rect x="752" y="1671" width="15" height="10" fill="#094f5c"/>
<rect x="767" y="1671" width="16" height="10" fill="#0d5853"/>
<rect x="783" y="1671" width="15" height="10" fill="#094f5c"/>
<rect x="798" y="1671" width="16" height="10" fill="#044268"/>
<rect x="814" y="1671" width="31" height="10" fill="#0a5259"/>
<rect x="845" y="1671" width="15" height="10" fill="#023f6b"/>
<rect x="860" y="1671" width="31" height="10" fill="#013c6e"/>
<rect x="891" y="1671" width="16" height="10" fill="#054565"/>
<rect x="907" y="1671" width="31" height="10" fill="#0a5259"/>
<rect x="938" y="1671" width="15" height="10" fill="#053c70"/>
<rect x="953" y="1671" width="16" height="10" fill="#013c6e"/>
<rect x="969" y="1671" width="16" height="10" fill="#053c70"/>
<rect x="985" y="1671" width="15" height="10" fill="#21397c"/>
<rect x="1000" y="1671" width="16" height="10" fill="#084c5f"/>
<rect x="1016" y="1671" width="15" height="10" fill="#193a78"/>
<rect x="1031" y="1671" width="31" height="10" fill="#093b71"/>
<rect x="1062" y="1671" width="31" height="10" fill="#013c6e"/>
<rect x="1093" y="1671" width="16" height="10" fill="#093b71"/>
<rect x="1109" y="1671" width="15" height="10" fill="#044268"/>
<rect x="1124" y="1671" width="16" height="10" fill="#053c70"/>
<rect x="1140" y="1671" width="31" height="10" fill="#013c6e"/>
<rect x="1171" y="1671" width="15" height="10" fill="#053c70"/>
<rect x="1186" y="1671" width="16" height="10" fill="#126546"/>
<rect x="1202" y="1671" width="15" height="10" fill="#663399"/>
<rect x="1217" y="1671" width="16" height="10" fill="#0d3b73"/>
<rect x="1233" y="1671" width="16" height="10" fill="#663399"/>
<rect x="1249" y="1671" width="15" height="10" fill="#623397"/>
<rect x="1264" y="1671" width="16" height="10" fill="#663399"/>
<rect x="1280" y="1671" width="15" height="10" fill="#5a3494"/>
<rect x="1295" y="1671" width="31" height="10" fill="#563492"/>
<rect x="1326" y="1671" width="31" height="10" fill="#5e3496"/>
<rect x="1357" y="1671" width="16" height="10" fill="#623397"/>
<rect x="1388" y="1671" width="16" height="10" fill="#663399"/>
<rect x="472" y="1681" width="16" height="9" fill="#228b22"/>
<rect x="488" y="1681" width="15" height="9" fill="#1f8528"/>
<rect x="503" y="1681" width="31" height="9" fill="#228b22"/>
<rect x="534" y="1681" width="16" height="9" fill="#105f4d"/>
<rect x="596" y="1681" width="16" height="9" fill="#166f3d"/>
<rect x="658" y="1681" width="31" height="9" fill="#166f3d"/>
<rect x="689" y="1681" width="16" height="9" fill="#105f4d"/>
<rect x="705" y="1681" width="15" height="9" fill="#0d5853"/>
<rect x="720" y="1681" width="16" height="9" fill="#0e5c50"/>
<rect x="736" y="1681" width="16" height="9" fill="#105f4d"/>
<rect x="752" y="1681" width="15" height="9" fill="#054565"/>
<rect x="767" y="1681" width="16" height="9" fill="#094f5c"/>
<rect x="783" y="1681" width="15" height="9" fill="#166f3d"/>
<rect x="798" y="1681" width="16" height="9" fill="#094f5c"/>
<rect x="814" y="1681" width="31" height="9" fill="#044268"/>
<rect x="845" y="1681" width="15" height="9" fill="#0a5259"/>
<rect x="860" y="1681" width="16" height="9" fill="#054565"/>
<rect x="876" y="1681" width="31" height="9" fill="#0a5259"/>
<rect x="907" y="1681" width="15" height="9" fill="#17723a"/>
<rect x="922" y="1681" width="16" height="9" fill="#0a5259"/>
<rect x="938" y="1681" width="31" height="9" fill="#013c6e"/>
<rect x="969" y="1681" width="16" height="9" fill="#093b71"/>
<rect x="985" y="1681" width="31" height="9" fill="#193a78"/>
<rect x="1016" y="1681" width="31" height="9" fill="#054565"/>
<rect x="1047" y="1681" width="15" height="9" fill="#013c6e"/>
<rect x="1062" y="1681" width="16" height="9" fill="#193a78"/>
<rect x="1078" y="1681" width="15" height="9" fill="#093b71"/>
<rect x="1093" y="1681" width="16" height="9" fill="#044268"/>
<rect x="1109" y="1681" width="31" height="9" fill="#0d3b73"/>
<rect x="1140" y="1681" width="15" height="9" fill="#023f6b"/>
<rect x="1155" y="1681" width="16" height="9" fill="#1a7834"/>
<rect x="1171" y="1681" width="15" height="9" fill="#126546"/>
<rect x="1186" y="1681" width="16" height="9" fill="#663399"/>
<rect x="1202" y="1681" width="15" height="9" fill="#3e3788"/>
<rect x="1217" y="1681" width="16" height="9" fill="#663399"/>
<rect x="1233" y="1681" width="16" height="9" fill="#29387f"/>
<rect x="1249" y="1681" width="15" height="9" fill="#4e358f"/>
<rect x="1264" y="1681" width="16" height="9" fill="#523590"/>
<rect x="1280" y="1681" width="15" height="9" fill="#563492"/>
<rect x="1295" y="1681" width="16" height="9" fill="#523590"/>
<rect x="1311" y="1681" width="15" height="9" fill="#5a3494"/>
<rect x="1326" y="1681" width="16" height="9" fill="#623397"/>
<rect x="1342" y="1681" width="15" height="9" fill="#663399"/>
<rect x="1357" y="1681" width="16" height="9" fill="#623397"/>
<rect x="1373" y="1681" width="15" height="9" fill="#663399"/>
<rect x="1388" y="1681" width="16" height="9" fill="#46368b"/>
<rect x="1404" y="1681" width="15" height="9" fill="#363784"/>
<rect x="472" y="1690" width="16" height="10" fill="#218825"/>
<rect x="488" y="1690" width="15" height="10" fill="#228b22"/>
<rect x="503" y="1690" width="16" height="10" fill="#1f8528"/>
<rect x="519" y="1690" width="31" height="10" fill="#228b22"/>
<rect x="596" y="1690" width="16" height="10" fill="#166f3d"/>
<rect x="643" y="1690" width="15" height="10" fill="#105f4d"/>
<rect x="674" y="1690" width="15" height="10" fill="#105f4d"/>
<rect x="689" y="1690" width="16" height="10" fill="#0e5c50"/>
<rect x="705" y="1690" width="31" height="10" fill="#105f4d"/>
<rect x="736" y="1690" width="16" height="10" fill="#023f6b"/>
<rect x="752" y="1690" width="15" height="10" fill="#044268"/>
<rect x="767" y="1690" width="16" height="10" fill="#064962"/>
<rect x="783" y="1690" width="15" height="10" fill="#166f3d"/>
<rect x="798" y="1690" width="31" height="10" fill="#084c5f"/>
<rect x="829" y="1690" width="16" height="10" fill="#023f6b"/>
<rect x="845" y="1690" width="15" height="10" fill="#105f4d"/>
<rect x="860" y="1690" width="16" height="10" fill="#064962"/>
<rect x="876" y="1690" width="15" height="10" fill="#0a5259"/>
<rect x="891" y="1690" width="16" height="10" fill="#064962"/>
<rect x="907" y="1690" width="15" height="10" fill="#166f3d"/>
<rect x="922" y="1690" width="16" height="10" fill="#0a5259"/>
<rect x="938" y="1690" width="31" height="10" fill="#013c6e"/>
<rect x="969" y="1690" width="16" height="10" fill="#053c70"/>
<rect x="985" y="1690" width="15" height="10" fill="#153a77"/>
<rect x="1000" y="1690" width="16" height="10" fill="#0d3b73"/>
<rect x="1016" y="1690" width="31" height="10" fill="#053c70"/>
<rect x="1047" y="1690" width="15" height="10" fill="#084c5f"/>
<rect x="1062" y="1690" width="16" height="10" fill="#193a78"/>
<rect x="1078" y="1690" width="15" height="10" fill="#053c70"/>
<rect x="1093" y="1690" width="16" height="10" fill="#0d3b73"/>
<rect x="1109" y="1690" width="15" height="10" fill="#153a77"/>
<rect x="1124" y="1690" width="16" height="10" fill="#044268"/>
<rect x="1140" y="1690" width="31" height="10" fill="#093b71"/>
<rect x="1171" y="1690" width="15" height="10" fill="#053c70"/>
<rect x="1186" y="1690" width="47" height="10" fill="#313883"/>
<rect x="1233" y="1690" width="16" height="10" fill="#663399"/>
<rect x="1249" y="1690" width="15" height="10" fill="#46368b"/>
<rect x="1264" y="1690" width="16" height="10" fill="#4e358f"/>
<rect x="1280" y="1690" width="15" height="10" fill="#663399"/>
<rect x="1295" y="1690" width="16" height="10" fill="#4a368d"/>
<rect x="1311" y="1690" width="31" height="10" fill="#663399"/>
<rect x="1342" y="1690" width="15" height="10" fill="#623397"/>
<rect x="1357" y="1690" width="16" height="10" fill="#663399"/>
<rect x="1373" y="1690" width="15" height="10" fill="#563492"/>
<rect x="1388" y="1690" width="16" height="10" fill="#46368b"/>
<rect x="1404" y="1690" width="15" height="10" fill="#29387f"/>
<rect x="1466" y="1690" width="15" height="10" fill="#3e3788"/>
<rect x="1481" y="1690" width="16" height="10" fill="#363784"/>
<rect x="441" y="1700" width="15" height="10" fill="#1d7e2e"/>
<rect x="456" y="1700" width="16" height="10" fill="#228b22"/>
<rect x="472" y="1700" width="16" height="10" fill="#218825"/>
<rect x="488" y="1700" width="31" height="10" fill="#228b22"/>
<rect x="519" y="1700" width="31" height="10" fill="#1f8528"/>
<rect x="565" y="1700" width="16" height="10" fill="#228b22"/>
<rect x="596" y="1700" width="16" height="10" fill="#1f8528"/>
<rect x="627" y="1700" width="47" height="10" fill="#0e5c50"/>
<rect x="674" y="1700" width="15" height="10" fill="#105f4d"/>
<rect x="689" y="1700" width="16" height="10" fill="#0e5c50"/>
<rect x="705" y="1700" width="47" height="10" fill="#105f4d"/>
<rect x="752" y="1700" width="15" height="10" fill="#023f6b"/>
<rect x="767" y="1700" width="16" height="10" fill="#054565"/>
<rect x="783" y="1700" width="15" height="10" fill="#064962"/>
<rect x="798" y="1700" width="16" height="10" fill="#11624a"/>
<rect x="814" y="1700" width="15" height="10" fill="#0c5556"/>
<rect x="829" y="1700" width="16" height="10" fill="#054565"/>
<rect x="845" y="1700" width="15" height="10" fill="#094f5c"/>
<rect x="860" y="1700" width="16" height="10" fill="#084c5f"/>
<rect x="876" y="1700" width="15" height="10" fill="#313883"/>
<rect x="891" y="1700" width="31" height="10" fill="#094f5c"/>
<rect x="922" y="1700" width="16" height="10" fill="#054565"/>
<rect x="938" y="1700" width="15" height="10" fill="#094f5c"/>
<rect x="953" y="1700" width="16" height="10" fill="#0a5259"/>
<rect x="969" y="1700" width="16" height="10" fill="#084c5f"/>
<rect x="985" y="1700" width="31" height="10" fill="#113b75"/>
<rect x="1016" y="1700" width="15" height="10" fill="#053c70"/>
<rect x="1031" y="1700" width="16" height="10" fill="#21397c"/>
<rect x="1047" y="1700" width="15" height="10" fill="#093b71"/>
<rect x="1062" y="1700" width="16" height="10" fill="#113b75"/>
<rect x="1078" y="1700" width="15" height="10" fill="#013c6e"/>
<rect x="1093" y="1700" width="16" height="10" fill="#053c70"/>
<rect x="1109" y="1700" width="15" height="10" fill="#054565"/>
<rect x="1124" y="1700" width="16" height="10" fill="#093b71"/>
<rect x="1140" y="1700" width="15" height="10" fill="#0d3b73"/>
<rect x="1155" y="1700" width="16" height="10" fill="#1d397a"/>
<rect x="1171" y="1700" width="15" height="10" fill="#023f6b"/>
<rect x="1186" y="1700" width="16" height="10" fill="#044268"/>
<rect x="1202" y="1700" width="15" height="10" fill="#4e358f"/>
<rect x="1217" y="1700" width="16" height="10" fill="#3e3788"/>
<rect x="1233" y="1700" width="16" height="10" fill="#623397"/>
<rect x="1249" y="1700" width="15" height="10" fill="#4a368d"/>
<rect x="1264" y="1700" width="16" height="10" fill="#663399"/>
<rect x="1280" y="1700" width="15" height="10" fill="#46368b"/>
<rect x="1295" y="1700" width="16" height="10" fill="#523590"/>
<rect x="1311" y="1700" width="15" height="10" fill="#663399"/>
<rect x="1326" y="1700" width="16" height="10" fill="#563492"/>
<rect x="1342" y="1700" width="15" height="10" fill="#663399"/>
<rect x="1357" y="1700" width="31" height="10" fill="#623397"/>
<rect x="1388" y="1700" width="16" height="10" fill="#21397c"/>
<rect x="1466" y="1700" width="15" height="10" fill="#3e3788"/>
<rect x="1481" y="1700" width="16" height="10" fill="#2d3881"/>
<rect x="456" y="1710" width="16" height="9" fill="#228b22"/>
<rect x="472" y="1710" width="16" height="9" fill="#1d7e2e"/>
<rect x="503" y="1710" width="16" height="9" fill="#228b22"/>
<rect x="519" y="1710" width="15" height="9" fill="#218825"/>
<rect x="534" y="1710" width="16" height="9" fill="#228b22"/>
<rect x="550" y="1710" width="15" height="9" fill="#218825"/>
<rect x="565" y="1710" width="16" height="9" fill="#11624a"/>
<rect x="581" y="1710" width="15" height="9" fill="#105f4d"/>
<rect x="596" y="1710" width="16" height="9" fill="#0e5c50"/>
<rect x="612" y="1710" width="15" height="9" fill="#126546"/>
<rect x="627" y="1710" width="16" height="9" fill="#0e5c50"/>
<rect x="643" y="1710" width="15" height="9" fill="#105f4d"/>
<rect x="658" y="1710" width="16" height="9" fill="#0e5c50"/>
<rect x="689" y="1710" width="16" height="9" fill="#0e5c50"/>
<rect x="705" y="1710" width="47" height="9" fill="#105f4d"/>
<rect x="752" y="1710" width="15" height="9" fill="#0e5c50"/>
<rect x="767" y="1710" width="16" height="9" fill="#094f5c"/>
<rect x="783" y="1710" width="15" height="9" fill="#084c5f"/>
<rect x="798" y="1710" width="16" height="9" fill="#156b40"/>
<rect x="814" y="1710" width="15" height="9" fill="#013c6e"/>
<rect x="829" y="1710" width="16" height="9" fill="#17723a"/>
<rect x="845" y="1710" width="15" height="9" fill="#0c5556"/>
<rect x="860" y="1710" width="16" height="9" fill="#023f6b"/>
<rect x="876" y="1710" width="15" height="9" fill="#093b71"/>
<rect x="891" y="1710" width="16" height="9" fill="#0c5556"/>
<rect x="907" y="1710" width="15" height="9" fill="#054565"/>
<rect x="922" y="1710" width="47" height="9" fill="#094f5c"/>
<rect x="969" y="1710" width="31" height="9" fill="#064962"/>
<rect x="1000" y="1710" width="16" height="9" fill="#093b71"/>
<rect x="1016" y="1710" width="15" height="9" fill="#0d3b73"/>
<rect x="1031" y="1710" width="16" height="9" fill="#013c6e"/>
<rect x="1047" y="1710" width="15" height="9" fill="#363784"/>
<rect x="1062" y="1710" width="16" height="9" fill="#013c6e"/>
<rect x="1078" y="1710" width="15" height="9" fill="#113b75"/>
<rect x="1093" y="1710" width="16" height="9" fill="#053c70"/>
<rect x="1109" y="1710" width="15" height="9" fill="#044268"/>
<rect x="1124" y="1710" width="16" height="9" fill="#054565"/>
<rect x="1140" y="1710" width="15" height="9" fill="#0d3b73"/>
<rect x="1155" y="1710" width="16" height="9" fill="#093b71"/>
<rect x="1171" y="1710" width="15" height="9" fill="#044268"/>
<rect x="1186" y="1710" width="16" height="9" fill="#084c5f"/>
<rect x="1202" y="1710" width="15" height="9" fill="#25397d"/>
<rect x="1217" y="1710" width="16" height="9" fill="#4e358f"/>
<rect x="1233" y="1710" width="16" height="9" fill="#663399"/>
<rect x="1249" y="1710" width="15" height="9" fill="#623397"/>
<rect x="1264" y="1710" width="16" height="9" fill="#4a368d"/>
<rect x="1280" y="1710" width="15" height="9" fill="#4e358f"/>
<rect x="1295" y="1710" width="16" height="9" fill="#4a368d"/>
<rect x="1311" y="1710" width="15" height="9" fill="#623397"/>
<rect x="1326" y="1710" width="16" height="9" fill="#4e358f"/>
<rect x="1342" y="1710" width="15" height="9" fill="#5e3496"/>
<rect x="1357" y="1710" width="16" height="9" fill="#4e358f"/>
<rect x="1373" y="1710" width="31" height="9" fill="#363784"/>
<rect x="1481" y="1710" width="32" height="9" fill="#2d3881"/>
<rect x="1528" y="1710" width="16" height="9" fill="#313883"/>
<rect x="441" y="1719" width="15" height="10" fill="#218825"/>
<rect x="488" y="1719" width="62" height="10" fill="#228b22"/>
<rect x="550" y="1719" width="15" height="10" fill="#218825"/>
<rect x="565" y="1719" width="31" height="10" fill="#0e5c50"/>
<rect x="596" y="1719" width="31" height="10" fill="#105f4d"/>
<rect x="643" y="1719" width="15" height="10" fill="#105f4d"/>
<rect x="674" y="1719" width="46" height="10" fill="#0e5c50"/>
<rect x="720" y="1719" width="16" height="10" fill="#126546"/>
<rect x="736" y="1719" width="16" height="10" fill="#0e5c50"/>
<rect x="752" y="1719" width="15" height="10" fill="#094f5c"/>
<rect x="767" y="1719" width="16" height="10" fill="#054565"/>
<rect x="783" y="1719" width="15" height="10" fill="#0e5c50"/>
<rect x="798" y="1719" width="16" height="10" fill="#064962"/>
<rect x="814" y="1719" width="15" height="10" fill="#105f4d"/>
<rect x="829" y="1719" width="16" height="10" fill="#136843"/>
<rect x="845" y="1719" width="15" height="10" fill="#023f6b"/>
<rect x="860" y="1719" width="16" height="10" fill="#084c5f"/>
<rect x="876" y="1719" width="15" height="10" fill="#105f4d"/>
<rect x="891" y="1719" width="16" height="10" fill="#17723a"/>
<rect x="907" y="1719" width="15" height="10" fill="#0c5556"/>
<rect x="922" y="1719" width="31" height="10" fill="#0e5c50"/>
<rect x="953" y="1719" width="16" height="10" fill="#084c5f"/>
<rect x="969" y="1719" width="16" height="10" fill="#0a5259"/>
<rect x="985" y="1719" width="15" height="10" fill="#0d5853"/>
<rect x="1000" y="1719" width="16" height="10" fill="#113b75"/>
<rect x="1016" y="1719" width="15" height="10" fill="#363784"/>
<rect x="1031" y="1719" width="16" height="10" fill="#023f6b"/>
<rect x="1047" y="1719" width="31" height="10" fill="#093b71"/>
<rect x="1078" y="1719" width="15" height="10" fill="#054565"/>
<rect x="1093" y="1719" width="16" height="10" fill="#064962"/>
<rect x="1109" y="1719" width="15" height="10" fill="#084c5f"/>
<rect x="1124" y="1719" width="16" height="10" fill="#054565"/>
<rect x="1140" y="1719" width="15" height="10" fill="#0d3b73"/>
<rect x="1155" y="1719" width="31" height="10" fill="#193a78"/>
<rect x="1186" y="1719" width="16" height="10" fill="#313883"/>
<rect x="1202" y="1719" width="15" height="10" fill="#053c70"/>
<rect x="1217" y="1719" width="16" height="10" fill="#1d397a"/>
<rect x="1233" y="1719" width="16" height="10" fill="#29387f"/>
<rect x="1249" y="1719" width="15" height="10" fill="#523590"/>
<rect x="1264" y="1719" width="16" height="10" fill="#46368b"/>
<rect x="1280" y="1719" width="15" height="10" fill="#523590"/>
<rect x="1295" y="1719" width="16" height="10" fill="#623397"/>
<rect x="1311" y="1719" width="31" height="10" fill="#5a3494"/>
<rect x="1342" y="1719" width="15" height="10" fill="#4e358f"/>
<rect x="1357" y="1719" width="16" height="10" fill="#5a3494"/>
<rect x="1373" y="1719" width="15" height="10" fill="#46368b"/>
<rect x="1388" y="1719" width="16" height="10" fill="#42368a"/>
<rect x="1466" y="1719" width="15" height="10" fill="#2d3881"/>
<rect x="1481" y="1719" width="16" height="10" fill="#3a3786"/>
<rect x="1497" y="1719" width="16" height="10" fill="#363784"/>
<rect x="1513" y="1719" width="31" height="10" fill="#313883"/>
<rect x="1544" y="1719" width="15" height="10" fill="#2d3881"/>
<rect x="1559" y="1719" width="31" height="10" fill="#313883"/>
<rect x="410" y="1729" width="15" height="10" fill="#228b22"/>
<rect x="425" y="1729" width="31" height="10" fill="#1d7e2e"/>
<rect x="456" y="1729" width="32" height="10" fill="#228b22"/>
<rect x="488" y="1729" width="15" height="10" fill="#126546"/>
<rect x="503" y="1729" width="47" height="10" fill="#228b22"/>
<rect x="550" y="1729" width="15" height="10" fill="#1e822b"/>
<rect x="565" y="1729" width="31" height="10" fill="#0e5c50"/>
<rect x="596" y="1729" width="16" height="10" fill="#0d5853"/>
<rect x="612" y="1729" width="46" height="10" fill="#105f4d"/>
<rect x="658" y="1729" width="16" height="10" fill="#0e5c50"/>
<rect x="689" y="1729" width="16" height="10" fill="#105f4d"/>
<rect x="705" y="1729" width="47" height="10" fill="#0e5c50"/>
<rect x="752" y="1729" width="31" height="10" fill="#105f4d"/>
<rect x="783" y="1729" width="15" height="10" fill="#0e5c50"/>
<rect x="798" y="1729" width="31" height="10" fill="#084c5f"/>
<rect x="829" y="1729" width="16" height="10" fill="#166f3d"/>
<rect x="845" y="1729" width="15" height="10" fill="#136843"/>
<rect x="860" y="1729" width="16" height="10" fill="#166f3d"/>
<rect x="876" y="1729" width="15" height="10" fill="#105f4d"/>
<rect x="891" y="1729" width="31" height="10" fill="#0e5c50"/>
<rect x="922" y="1729" width="16" height="10" fill="#094f5c"/>
<rect x="938" y="1729" width="15" height="10" fill="#0c5556"/>
<rect x="953" y="1729" width="16" height="10" fill="#105f4d"/>
<rect x="969" y="1729" width="16" height="10" fill="#064962"/>
<rect x="985" y="1729" width="15" height="10" fill="#0d5853"/>
<rect x="1000" y="1729" width="16" height="10" fill="#136843"/>
<rect x="1016" y="1729" width="15" height="10" fill="#0c5556"/>
<rect x="1031" y="1729" width="16" height="10" fill="#105f4d"/>
<rect x="1047" y="1729" width="15" height="10" fill="#093b71"/>
<rect x="1062" y="1729" width="16" height="10" fill="#044268"/>
<rect x="1078" y="1729" width="15" height="10" fill="#153a77"/>
<rect x="1093" y="1729" width="16" height="10" fill="#093b71"/>
<rect x="1109" y="1729" width="31" height="10" fill="#193a78"/>
<rect x="1140" y="1729" width="15" height="10" fill="#084c5f"/>
<rect x="1155" y="1729" width="16" height="10" fill="#054565"/>
<rect x="1171" y="1729" width="46" height="10" fill="#084c5f"/>
<rect x="1217" y="1729" width="16" height="10" fill="#29387f"/>
<rect x="1233" y="1729" width="16" height="10" fill="#1d397a"/>
<rect x="1249" y="1729" width="15" height="10" fill="#623397"/>
<rect x="1264" y="1729" width="31" height="10" fill="#523590"/>
<rect x="1295" y="1729" width="16" height="10" fill="#5e3496"/>
<rect x="1311" y="1729" width="15" height="10" fill="#4a368d"/>
<rect x="1326" y="1729" width="16" height="10" fill="#5a3494"/>
<rect x="1342" y="1729" width="31" height="10" fill="#46368b"/>
<rect x="1373" y="1729" width="15" height="10" fill="#4e358f"/>
<rect x="1388" y="1729" width="16" height="10" fill="#313883"/>
<rect x="1481" y="1729" width="16" height="10" fill="#313883"/>
<rect x="1497" y="1729" width="16" height="10" fill="#363784"/>
<rect x="1513" y="1729" width="46" height="10" fill="#313883"/>
<rect x="1559" y="1729" width="31" height="10" fill="#363784"/>
<rect x="410" y="1739" width="31" height="9" fill="#228b22"/>
<rect x="472" y="1739" width="16" height="9" fill="#228b22"/>
<rect x="503" y="1739" width="16" height="9" fill="#218825"/>
<rect x="519" y="1739" width="31" height="9" fill="#228b22"/>
<rect x="550" y="1739" width="108" height="9" fill="#105f4d"/>
<rect x="674" y="1739" width="15" height="9" fill="#0e5c50"/>
<rect x="689" y="1739" width="16" height="9" fill="#105f4d"/>
<rect x="705" y="1739" width="47" height="9" fill="#0e5c50"/>
<rect x="752" y="1739" width="15" height="9" fill="#084c5f"/>
<rect x="767" y="1739" width="31" height="9" fill="#105f4d"/>
<rect x="798" y="1739" width="16" height="9" fill="#1b7b31"/>
<rect x="814" y="1739" width="15" height="9" fill="#0d5853"/>
<rect x="829" y="1739" width="16" height="9" fill="#156b40"/>
<rect x="845" y="1739" width="15" height="9" fill="#197537"/>
<rect x="860" y="1739" width="16" height="9" fill="#166f3d"/>
<rect x="876" y="1739" width="15" height="9" fill="#105f4d"/>
<rect x="891" y="1739" width="16" height="9" fill="#054565"/>
<rect x="907" y="1739" width="15" height="9" fill="#17723a"/>
<rect x="922" y="1739" width="16" height="9" fill="#105f4d"/>
<rect x="938" y="1739" width="15" height="9" fill="#0c5556"/>
<rect x="953" y="1739" width="16" height="9" fill="#064962"/>
<rect x="969" y="1739" width="16" height="9" fill="#084c5f"/>
<rect x="985" y="1739" width="31" height="9" fill="#0d5853"/>
<rect x="1016" y="1739" width="15" height="9" fill="#0a5259"/>
<rect x="1031" y="1739" width="16" height="9" fill="#363784"/>
<rect x="1047" y="1739" width="15" height="9" fill="#093b71"/>
<rect x="1062" y="1739" width="31" height="9" fill="#0d3b73"/>
<rect x="1093" y="1739" width="16" height="9" fill="#193a78"/>
<rect x="1109" y="1739" width="31" height="9" fill="#21397c"/>
<rect x="1140" y="1739" width="15" height="9" fill="#193a78"/>
<rect x="1155" y="1739" width="16" height="9" fill="#023f6b"/>
<rect x="1171" y="1739" width="15" height="9" fill="#093b71"/>
<rect x="1186" y="1739" width="16" height="9" fill="#25397d"/>
<rect x="1202" y="1739" width="15" height="9" fill="#1d397a"/>
<rect x="1217" y="1739" width="16" height="9" fill="#25397d"/>
<rect x="1233" y="1739" width="16" height="9" fill="#623397"/>
<rect x="1249" y="1739" width="15" height="9" fill="#1d397a"/>
<rect x="1264" y="1739" width="16" height="9" fill="#4e358f"/>
<rect x="1280" y="1739" width="15" height="9" fill="#4a368d"/>
<rect x="1295" y="1739" width="16" height="9" fill="#3e3788"/>
<rect x="1311" y="1739" width="31" height="9" fill="#4a368d"/>
<rect x="1342" y="1739" width="15" height="9" fill="#523590"/>
<rect x="1357" y="1739" width="16" height="9" fill="#5a3494"/>
<rect x="1373" y="1739" width="15" height="9" fill="#523590"/>
<rect x="1466" y="1739" width="15" height="9" fill="#2d3881"/>
<rect x="1481" y="1739" width="16" height="9" fill="#3a3786"/>
<rect x="1497" y="1739" width="16" height="9" fill="#313883"/>
<rect x="1513" y="1739" width="15" height="9" fill="#2d3881"/>
<rect x="1528" y="1739" width="16" height="9" fill="#313883"/>
<rect x="1544" y="1739" width="15" height="9" fill="#363784"/>
<rect x="1559" y="1739" width="16" height="9" fill="#313883"/>
<rect x="1621" y="1739" width="16" height="9" fill="#363784"/>
<rect x="410" y="1748" width="15" height="10" fill="#228b22"/>
<rect x="425" y="1748" width="31" height="10" fill="#197537"/>
<rect x="456" y="1748" width="16" height="10" fill="#218825"/>
<rect x="472" y="1748" width="16" height="10" fill="#1b7b31"/>
<rect x="488" y="1748" width="15" height="10" fill="#1a7834"/>
<rect x="503" y="1748" width="16" height="10" fill="#228b22"/>
<rect x="519" y="1748" width="15" height="10" fill="#218825"/>
<rect x="534" y="1748" width="16" height="10" fill="#105f4d"/>
<rect x="550" y="1748" width="31" height="10" fill="#0e5c50"/>
<rect x="581" y="1748" width="31" height="10" fill="#105f4d"/>
<rect x="612" y="1748" width="15" height="10" fill="#0d5853"/>
<rect x="627" y="1748" width="31" height="10" fill="#105f4d"/>
<rect x="705" y="1748" width="31" height="10" fill="#0e5c50"/>
<rect x="736" y="1748" width="16" height="10" fill="#105f4d"/>
<rect x="752" y="1748" width="15" height="10" fill="#0d5853"/>
<rect x="767" y="1748" width="16" height="10" fill="#0e5c50"/>
<rect x="783" y="1748" width="15" height="10" fill="#0c5556"/>
<rect x="798" y="1748" width="16" height="10" fill="#1b7b31"/>
<rect x="814" y="1748" width="15" height="10" fill="#0c5556"/>
<rect x="829" y="1748" width="16" height="10" fill="#166f3d"/>
<rect x="845" y="1748" width="15" height="10" fill="#1e822b"/>
<rect x="860" y="1748" width="16" height="10" fill="#126546"/>
<rect x="876" y="1748" width="15" height="10" fill="#136843"/>
<rect x="891" y="1748" width="16" height="10" fill="#105f4d"/>
<rect x="907" y="1748" width="15" height="10" fill="#0e5c50"/>
<rect x="922" y="1748" width="16" height="10" fill="#105f4d"/>
<rect x="938" y="1748" width="15" height="10" fill="#1d7e2e"/>
<rect x="953" y="1748" width="16" height="10" fill="#064962"/>
<rect x="969" y="1748" width="16" height="10" fill="#1a7834"/>
<rect x="985" y="1748" width="15" height="10" fill="#0d5853"/>
<rect x="1000" y="1748" width="16" height="10" fill="#094f5c"/>
<rect x="1016" y="1748" width="15" height="10" fill="#0c5556"/>
<rect x="1031" y="1748" width="16" height="10" fill="#093b71"/>
<rect x="1047" y="1748" width="15" height="10" fill="#053c70"/>
<rect x="1062" y="1748" width="16" height="10" fill="#153a77"/>
<rect x="1078" y="1748" width="46" height="10" fill="#0d3b73"/>
<rect x="1124" y="1748" width="16" height="10" fill="#113b75"/>
<rect x="1140" y="1748" width="15" height="10" fill="#084c5f"/>
<rect x="1155" y="1748" width="16" height="10" fill="#0d3b73"/>
<rect x="1171" y="1748" width="15" height="10" fill="#113b75"/>
<rect x="1186" y="1748" width="31" height="10" fill="#663399"/>
<rect x="1217" y="1748" width="16" height="10" fill="#113b75"/>
<rect x="1233" y="1748" width="16" height="10" fill="#4a368d"/>
<rect x="1249" y="1748" width="15" height="10" fill="#2d3881"/>
<rect x="1264" y="1748" width="16" height="10" fill="#46368b"/>
<rect x="1280" y="1748" width="31" height="10" fill="#623397"/>
<rect x="1311" y="1748" width="15" height="10" fill="#46368b"/>
<rect x="1326" y="1748" width="16" height="10" fill="#4e358f"/>
<rect x="1342" y="1748" width="31" height="10" fill="#4a368d"/>
<rect x="1373" y="1748" width="15" height="10" fill="#523590"/>
<rect x="1466" y="1748" width="31" height="10" fill="#3a3786"/>
<rect x="1497" y="1748" width="31" height="10" fill="#2d3881"/>
<rect x="1528" y="1748" width="16" height="10" fill="#363784"/>
<rect x="1544" y="1748" width="15" height="10" fill="#2d3881"/>
<rect x="1559" y="1748" width="16" height="10" fill="#363784"/>
<rect x="1575" y="1748" width="15" height="10" fill="#313883"/>
<rect x="1621" y="1748" width="31" height="10" fill="#313883"/>
<rect x="1683" y="1748" width="16" height="10" fill="#313883"/>
<rect x="1699" y="1748" width="15" height="10" fill="#363784"/>
<rect x="1714" y="1748" width="31" height="10" fill="#313883"/>
<rect x="410" y="1758" width="15" height="10" fill="#197537"/>
<rect x="441" y="1758" width="31" height="10" fill="#228b22"/>
<rect x="488" y="1758" width="15" height="10" fill="#218825"/>
<rect x="503" y="1758" width="16" height="10" fill="#1b7b31"/>
<rect x="519" y="1758" width="15" height="10" fill="#1a7834"/>
<rect x="534" y="1758" width="16" height="10" fill="#197537"/>
<rect x="550" y="1758" width="15" height="10" fill="#0e5c50"/>
<rect x="565" y="1758" width="78" height="10" fill="#105f4d"/>
<rect x="658" y="1758" width="16" height="10" fill="#0e5c50"/>
<rect x="705" y="1758" width="15" height="10" fill="#105f4d"/>
<rect x="720" y="1758" width="63" height="10" fill="#0e5c50"/>
<rect x="783" y="1758" width="15" height="10" fill="#084c5f"/>
<rect x="798" y="1758" width="16" height="10" fill="#166f3d"/>
<rect x="814" y="1758" width="15" height="10" fill="#1a7834"/>
<rect x="829" y="1758" width="16" height="10" fill="#156b40"/>
<rect x="845" y="1758" width="15" height="10" fill="#1f8528"/>
<rect x="860" y="1758" width="16" height="10" fill="#054565"/>
<rect x="876" y="1758" width="15" height="10" fill="#1e822b"/>
<rect x="891" y="1758" width="16" height="10" fill="#126546"/>
<rect x="907" y="1758" width="15" height="10" fill="#1b7b31"/>
<rect x="922" y="1758" width="16" height="10" fill="#105f4d"/>
<rect x="938" y="1758" width="15" height="10" fill="#126546"/>
<rect x="953" y="1758" width="16" height="10" fill="#136843"/>
<rect x="969" y="1758" width="16" height="10" fill="#105f4d"/>
<rect x="985" y="1758" width="15" height="10" fill="#084c5f"/>
<rect x="1000" y="1758" width="16" height="10" fill="#156b40"/>
<rect x="1016" y="1758" width="15" height="10" fill="#25397d"/>
<rect x="1031" y="1758" width="16" height="10" fill="#093b71"/>
<rect x="1047" y="1758" width="15" height="10" fill="#0d3b73"/>
<rect x="1062" y="1758" width="16" height="10" fill="#113b75"/>
<rect x="1078" y="1758" width="15" height="10" fill="#093b71"/>
<rect x="1093" y="1758" width="16" height="10" fill="#113b75"/>
<rect x="1109" y="1758" width="15" height="10" fill="#093b71"/>
<rect x="1124" y="1758" width="16" height="10" fill="#113b75"/>
<rect x="1140" y="1758" width="15" height="10" fill="#093b71"/>
<rect x="1155" y="1758" width="16" height="10" fill="#153a77"/>
<rect x="1171" y="1758" width="15" height="10" fill="#064962"/>
<rect x="1186" y="1758" width="16" height="10" fill="#25397d"/>
<rect x="1202" y="1758" width="15" height="10" fill="#0d3b73"/>
<rect x="1217" y="1758" width="16" height="10" fill="#21397c"/>
<rect x="1233" y="1758" width="16" height="10" fill="#3a3786"/>
<rect x="1249" y="1758" width="15" height="10" fill="#4e358f"/>
<rect x="1264" y="1758" width="16" height="10" fill="#46368b"/>
<rect x="1280" y="1758" width="15" height="10" fill="#623397"/>
<rect x="1295" y="1758" width="16" height="10" fill="#5a3494"/>
<rect x="1311" y="1758" width="31" height="10" fill="#4a368d"/>
<rect x="1342" y="1758" width="15" height="10" fill="#46368b"/>
<rect x="1357" y="1758" width="16" height="10" fill="#42368a"/>
<rect x="1373" y="1758" width="15" height="10" fill="#5a3494"/>
<rect x="1466" y="1758" width="15" height="10" fill="#46368b"/>
<rect x="1481" y="1758" width="16" height="10" fill="#313883"/>
<rect x="1497" y="1758" width="16" height="10" fill="#363784"/>
<rect x="1513" y="1758" width="15" height="10" fill="#2d3881"/>
<rect x="1528" y="1758" width="16" height="10" fill="#363784"/>
<rect x="1544" y="1758" width="62" height="10" fill="#313883"/>
<rect x="1621" y="1758" width="31" height="10" fill="#313883"/>
<rect x="1668" y="1758" width="31" height="10" fill="#313883"/>
<rect x="1714" y="1758" width="16" height="10" fill="#363784"/>
<rect x="1730" y="1758" width="31" height="10" fill="#313883"/>
<rect x="425" y="1768" width="16" height="9" fill="#228b22"/>
<rect x="441" y="1768" width="15" height="9" fill="#1d7e2e"/>
<rect x="456" y="1768" width="32" height="9" fill="#218825"/>
<rect x="488" y="1768" width="31" height="9" fill="#228b22"/>
<rect x="519" y="1768" width="15" height="9" fill="#126546"/>
<rect x="534" y="1768" width="16" height="9" fill="#17723a"/>
<rect x="550" y="1768" width="46" height="9" fill="#105f4d"/>
<rect x="596" y="1768" width="31" height="9" fill="#0e5c50"/>
<rect x="643" y="1768" width="15" height="9" fill="#0e5c50"/>
<rect x="658" y="1768" width="109" height="9" fill="#105f4d"/>
<rect x="767" y="1768" width="16" height="9" fill="#0e5c50"/>
<rect x="783" y="1768" width="15" height="9" fill="#17723a"/>
<rect x="798" y="1768" width="16" height="9" fill="#1a7834"/>
<rect x="814" y="1768" width="15" height="9" fill="#166f3d"/>
<rect x="829" y="1768" width="16" height="9" fill="#1f8528"/>
<rect x="845" y="1768" width="15" height="9" fill="#054565"/>
<rect x="860" y="1768" width="16" height="9" fill="#1a7834"/>
<rect x="876" y="1768" width="15" height="9" fill="#0d5853"/>
<rect x="891" y="1768" width="31" height="9" fill="#1d7e2e"/>
<rect x="922" y="1768" width="16" height="9" fill="#166f3d"/>
<rect x="938" y="1768" width="15" height="9" fill="#105f4d"/>
<rect x="953" y="1768" width="16" height="9" fill="#166f3d"/>
<rect x="969" y="1768" width="16" height="9" fill="#094f5c"/>
<rect x="985" y="1768" width="15" height="9" fill="#11624a"/>
<rect x="1000" y="1768" width="16" height="9" fill="#064962"/>
<rect x="1016" y="1768" width="15" height="9" fill="#0d3b73"/>
<rect x="1031" y="1768" width="16" height="9" fill="#25397d"/>
<rect x="1047" y="1768" width="15" height="9" fill="#3e3788"/>
<rect x="1062" y="1768" width="16" height="9" fill="#113b75"/>
<rect x="1078" y="1768" width="15" height="9" fill="#013c6e"/>
<rect x="1093" y="1768" width="16" height="9" fill="#113b75"/>
<rect x="1109" y="1768" width="15" height="9" fill="#053c70"/>
<rect x="1124" y="1768" width="16" height="9" fill="#093b71"/>
<rect x="1140" y="1768" width="15" height="9" fill="#113b75"/>
<rect x="1155" y="1768" width="16" height="9" fill="#1d397a"/>
<rect x="1171" y="1768" width="15" height="9" fill="#053c70"/>
<rect x="1186" y="1768" width="16" height="9" fill="#663399"/>
<rect x="1202" y="1768" width="15" height="9" fill="#21397c"/>
<rect x="1217" y="1768" width="16" height="9" fill="#4e358f"/>
<rect x="1233" y="1768" width="16" height="9" fill="#4a368d"/>
<rect x="1249" y="1768" width="15" height="9" fill="#313883"/>
<rect x="1264" y="1768" width="16" height="9" fill="#563492"/>
<rect x="1280" y="1768" width="15" height="9" fill="#46368b"/>
<rect x="1295" y="1768" width="47" height="9" fill="#4a368d"/>
<rect x="1342" y="1768" width="15" height="9" fill="#46368b"/>
<rect x="1357" y="1768" width="16" height="9" fill="#4e358f"/>
<rect x="1373" y="1768" width="15" height="9" fill="#5a3494"/>
<rect x="1419" y="1768" width="16" height="9" fill="#42368a"/>
<rect x="1450" y="1768" width="16" height="9" fill="#363784"/>
<rect x="1466" y="1768" width="15" height="9" fill="#3e3788"/>
<rect x="1481" y="1768" width="16" height="9" fill="#42368a"/>
<rect x="1497" y="1768" width="31" height="9" fill="#363784"/>
<rect x="1528" y="1768" width="16" height="9" fill="#2d3881"/>
<rect x="1544" y="1768" width="15" height="9" fill="#363784"/>
<rect x="1559" y="1768" width="16" height="9" fill="#2d3881"/>
<rect x="1575" y="1768" width="15" height="9" fill="#313883"/>
<rect x="1606" y="1768" width="15" height="9" fill="#313883"/>
<rect x="1621" y="1768" width="16" height="9" fill="#2d3881"/>
<rect x="1668" y="1768" width="31" height="9" fill="#313883"/>
<rect x="1714" y="1768" width="31" height="9" fill="#313883"/>
<rect x="1745" y="1768" width="16" height="9" fill="#363784"/>
<rect x="1761" y="1768" width="16" height="9" fill="#313883"/>
<rect x="425" y="1777" width="78" height="10" fill="#228b22"/>
<rect x="519" y="1777" width="15" height="10" fill="#1b7b31"/>
<rect x="534" y="1777" width="16" height="10" fill="#166f3d"/>
<rect x="550" y="1777" width="62" height="10" fill="#0e5c50"/>
<rect x="612" y="1777" width="15" height="10" fill="#105f4d"/>
<rect x="643" y="1777" width="31" height="10" fill="#0e5c50"/>
<rect x="674" y="1777" width="15" height="10" fill="#105f4d"/>
<rect x="689" y="1777" width="16" height="10" fill="#0e5c50"/>
<rect x="705" y="1777" width="15" height="10" fill="#105f4d"/>
<rect x="720" y="1777" width="32" height="10" fill="#0e5c50"/>
<rect x="752" y="1777" width="31" height="10" fill="#1b7b31"/>
<rect x="783" y="1777" width="15" height="10" fill="#0e5c50"/>
<rect x="798" y="1777" width="31" height="10" fill="#197537"/>
<rect x="829" y="1777" width="16" height="10" fill="#1e822b"/>
<rect x="845" y="1777" width="15" height="10" fill="#126546"/>
<rect x="860" y="1777" width="16" height="10" fill="#105f4d"/>
<rect x="876" y="1777" width="15" height="10" fill="#197537"/>
<rect x="891" y="1777" width="16" height="10" fill="#17723a"/>
<rect x="907" y="1777" width="15" height="10" fill="#218825"/>
<rect x="922" y="1777" width="16" height="10" fill="#156b40"/>
<rect x="938" y="1777" width="15" height="10" fill="#136843"/>
<rect x="953" y="1777" width="16" height="10" fill="#0c5556"/>
<rect x="969" y="1777" width="16" height="10" fill="#105f4d"/>
<rect x="985" y="1777" width="15" height="10" fill="#0c5556"/>
<rect x="1000" y="1777" width="16" height="10" fill="#0d3b73"/>
<rect x="1016" y="1777" width="31" height="10" fill="#113b75"/>
<rect x="1047" y="1777" width="15" height="10" fill="#053c70"/>
<rect x="1062" y="1777" width="16" height="10" fill="#013c6e"/>
<rect x="1078" y="1777" width="15" height="10" fill="#313883"/>
<rect x="1093" y="1777" width="31" height="10" fill="#093b71"/>
<rect x="1124" y="1777" width="47" height="10" fill="#013c6e"/>
<rect x="1171" y="1777" width="15" height="10" fill="#1d397a"/>
<rect x="1186" y="1777" width="16" height="10" fill="#153a77"/>
<rect x="1202" y="1777" width="15" height="10" fill="#1d397a"/>
<rect x="1217" y="1777" width="47" height="10" fill="#21397c"/>
<rect x="1264" y="1777" width="16" height="10" fill="#3e3788"/>
<rect x="1280" y="1777" width="15" height="10" fill="#46368b"/>
<rect x="1295" y="1777" width="16" height="10" fill="#3e3788"/>
<rect x="1311" y="1777" width="46" height="10" fill="#4a368d"/>
<rect x="1357" y="1777" width="16" height="10" fill="#42368a"/>
<rect x="1373" y="1777" width="15" height="10" fill="#4a368d"/>
<rect x="1388" y="1777" width="16" height="10" fill="#5a3494"/>
<rect x="1404" y="1777" width="15" height="10" fill="#523590"/>
<rect x="1419" y="1777" width="16" height="10" fill="#4a368d"/>
<rect x="1435" y="1777" width="15" height="10" fill="#563492"/>
<rect x="1450" y="1777" width="16" height="10" fill="#3e3788"/>
<rect x="1466" y="1777" width="15" height="10" fill="#3a3786"/>
<rect x="1481" y="1777" width="16" height="10" fill="#363784"/>
<rect x="1497" y="1777" width="16" height="10" fill="#313883"/>
<rect x="1513" y="1777" width="15" height="10" fill="#363784"/>
<rect x="1528" y="1777" width="47" height="10" fill="#313883"/>
<rect x="1590" y="1777" width="31" height="10" fill="#313883"/>
<rect x="1621" y="1777" width="16" height="10" fill="#2d3881"/>
<rect x="1637" y="1777" width="15" height="10" fill="#313883"/>
<rect x="1668" y="1777" width="124" height="10" fill="#313883"/>
<rect x="410" y="1787" width="15" height="10" fill="#218825"/>
<rect x="425" y="1787" width="63" height="10" fill="#228b22"/>
<rect x="488" y="1787" width="15" height="10" fill="#197537"/>
<rect x="503" y="1787" width="16" height="10" fill="#228b22"/>
<rect x="519" y="1787" width="15" height="10" fill="#1e822b"/>
<rect x="534" y="1787" width="16" height="10" fill="#105f4d"/>
<rect x="550" y="1787" width="62" height="10" fill="#0e5c50"/>
<rect x="612" y="1787" width="31" height="10" fill="#105f4d"/>
<rect x="643" y="1787" width="31" height="10" fill="#0e5c50"/>
<rect x="674" y="1787" width="15" height="10" fill="#11624a"/>
<rect x="705" y="1787" width="15" height="10" fill="#105f4d"/>
<rect x="736" y="1787" width="16" height="10" fill="#0e5c50"/>
<rect x="752" y="1787" width="15" height="10" fill="#105f4d"/>
<rect x="767" y="1787" width="16" height="10" fill="#0e5c50"/>
<rect x="783" y="1787" width="15" height="10" fill="#105f4d"/>
<rect x="798" y="1787" width="16" height="10" fill="#197537"/>
<rect x="814" y="1787" width="15" height="10" fill="#064962"/>
<rect x="829" y="1787" width="16" height="10" fill="#1b7b31"/>
<rect x="845" y="1787" width="15" height="10" fill="#126546"/>
<rect x="860" y="1787" width="16" height="10" fill="#11624a"/>
<rect x="876" y="1787" width="15" height="10" fill="#228b22"/>
<rect x="891" y="1787" width="16" height="10" fill="#1e822b"/>
<rect x="907" y="1787" width="15" height="10" fill="#228b22"/>
<rect x="922" y="1787" width="16" height="10" fill="#064962"/>
<rect x="938" y="1787" width="15" height="10" fill="#0d5853"/>
<rect x="953" y="1787" width="16" height="10" fill="#11624a"/>
<rect x="969" y="1787" width="16" height="10" fill="#153a77"/>
<rect x="985" y="1787" width="15" height="10" fill="#126546"/>
<rect x="1000" y="1787" width="16" height="10" fill="#156b40"/>
<rect x="1016" y="1787" width="15" height="10" fill="#21397c"/>
<rect x="1031" y="1787" width="16" height="10" fill="#094f5c"/>
<rect x="1047" y="1787" width="15" height="10" fill="#21397c"/>
<rect x="1078" y="1787" width="15" height="10" fill="#113b75"/>
<rect x="1093" y="1787" width="16" height="10" fill="#053c70"/>
<rect x="1109" y="1787" width="15" height="10" fill="#1d397a"/>
<rect x="1124" y="1787" width="16" height="10" fill="#113b75"/>
<rect x="1140" y="1787" width="15" height="10" fill="#153a77"/>
<rect x="1155" y="1787" width="16" height="10" fill="#093b71"/>
<rect x="1171" y="1787" width="15" height="10" fill="#044268"/>
<rect x="1186" y="1787" width="16" height="10" fill="#084c5f"/>
<rect x="1202" y="1787" width="15" height="10" fill="#4a368d"/>
<rect x="1217" y="1787" width="16" height="10" fill="#113b75"/>
<rect x="1233" y="1787" width="16" height="10" fill="#3a3786"/>
<rect x="1249" y="1787" width="15" height="10" fill="#21397c"/>
<rect x="1264" y="1787" width="16" height="10" fill="#523590"/>
<rect x="1280" y="1787" width="15" height="10" fill="#4e358f"/>
<rect x="1295" y="1787" width="16" height="10" fill="#42368a"/>
<rect x="1311" y="1787" width="15" height="10" fill="#4a368d"/>
<rect x="1326" y="1787" width="16" height="10" fill="#523590"/>
<rect x="1342" y="1787" width="31" height="10" fill="#46368b"/>
<rect x="1373" y="1787" width="15" height="10" fill="#4a368d"/>
<rect x="1388" y="1787" width="16" height="10" fill="#3a3786"/>
<rect x="1404" y="1787" width="15" height="10" fill="#563492"/>
<rect x="1419" y="1787" width="16" height="10" fill="#4e358f"/>
<rect x="1435" y="1787" width="15" height="10" fill="#563492"/>
<rect x="1481" y="1787" width="16" height="10" fill="#363784"/>
<rect x="1497" y="1787" width="16" height="10" fill="#313883"/>
<rect x="1544" y="1787" width="15" height="10" fill="#363784"/>
<rect x="1559" y="1787" width="16" height="10" fill="#313883"/>
<rect x="1621" y="1787" width="16" height="10" fill="#313883"/>
<rect x="1652" y="1787" width="62" height="10" fill="#313883"/>
<rect x="1714" y="1787" width="16" height="10" fill="#363784"/>
<rect x="1730" y="1787" width="62" height="10" fill="#313883"/>
<rect x="410" y="1797" width="15" height="9" fill="#1f8528"/>
<rect x="425" y="1797" width="63" height="9" fill="#228b22"/>
<rect x="488" y="1797" width="15" height="9" fill="#218825"/>
<rect x="503" y="1797" width="16" height="9" fill="#228b22"/>
<rect x="519" y="1797" width="31" height="9" fill="#0e5c50"/>
<rect x="550" y="1797" width="31" height="9" fill="#105f4d"/>
<rect x="581" y="1797" width="31" height="9" fill="#0e5c50"/>
<rect x="643" y="1797" width="31" height="9" fill="#105f4d"/>
<rect x="674" y="1797" width="15" height="9" fill="#0e5c50"/>
<rect x="705" y="1797" width="15" height="9" fill="#105f4d"/>
<rect x="720" y="1797" width="16" height="9" fill="#0e5c50"/>
<rect x="736" y="1797" width="31" height="9" fill="#105f4d"/>
<rect x="767" y="1797" width="16" height="9" fill="#0e5c50"/>
<rect x="783" y="1797" width="15" height="9" fill="#1e822b"/>
<rect x="798" y="1797" width="16" height="9" fill="#084c5f"/>
<rect x="814" y="1797" width="15" height="9" fill="#197537"/>
<rect x="829" y="1797" width="16" height="9" fill="#126546"/>
<rect x="845" y="1797" width="15" height="9" fill="#136843"/>
<rect x="860" y="1797" width="16" height="9" fill="#1a7834"/>
<rect x="876" y="1797" width="15" height="9" fill="#228b22"/>
<rect x="891" y="1797" width="16" height="9" fill="#166f3d"/>
<rect x="907" y="1797" width="15" height="9" fill="#084c5f"/>
<rect x="922" y="1797" width="16" height="9" fill="#11624a"/>
<rect x="938" y="1797" width="15" height="9" fill="#197537"/>
<rect x="953" y="1797" width="16" height="9" fill="#105f4d"/>
<rect x="969" y="1797" width="31" height="9" fill="#126546"/>
<rect x="1000" y="1797" width="16" height="9" fill="#1a7834"/>
<rect x="1016" y="1797" width="15" height="9" fill="#0d3b73"/>
<rect x="1031" y="1797" width="16" height="9" fill="#053c70"/>
<rect x="1047" y="1797" width="15" height="9" fill="#094f5c"/>
<rect x="1062" y="1797" width="16" height="9" fill="#113b75"/>
<rect x="1078" y="1797" width="15" height="9" fill="#21397c"/>
<rect x="1093" y="1797" width="31" height="9" fill="#093b71"/>
<rect x="1124" y="1797" width="16" height="9" fill="#1d397a"/>
<rect x="1140" y="1797" width="15" height="9" fill="#044268"/>
<rect x="1155" y="1797" width="16" height="9" fill="#0d3b73"/>
<rect x="1171" y="1797" width="15" height="9" fill="#21397c"/>
<rect x="1186" y="1797" width="16" height="9" fill="#2d3881"/>
<rect x="1202" y="1797" width="15" height="9" fill="#4a368d"/>
<rect x="1217" y="1797" width="16" height="9" fill="#153a77"/>
<rect x="1233" y="1797" width="16" height="9" fill="#1d397a"/>
<rect x="1249" y="1797" width="15" height="9" fill="#21397c"/>
<rect x="1264" y="1797" width="16" height="9" fill="#46368b"/>
<rect x="1280" y="1797" width="15" height="9" fill="#42368a"/>
<rect x="1295" y="1797" width="16" height="9" fill="#563492"/>
<rect x="1311" y="1797" width="15" height="9" fill="#42368a"/>
<rect x="1326" y="1797" width="31" height="9" fill="#4e358f"/>
<rect x="1357" y="1797" width="16" height="9" fill="#42368a"/>
<rect x="1373" y="1797" width="31" height="9" fill="#4a368d"/>
<rect x="1419" y="1797" width="16" height="9" fill="#4a368d"/>
<rect x="1435" y="1797" width="15" height="9" fill="#363784"/>
<rect x="1450" y="1797" width="16" height="9" fill="#563492"/>
<rect x="1466" y="1797" width="15" height="9" fill="#3a3786"/>
<rect x="1544" y="1797" width="31" height="9" fill="#313883"/>
<rect x="1637" y="1797" width="62" height="9" fill="#313883"/>
<rect x="1699" y="1797" width="15" height="9" fill="#363784"/>
<rect x="1730" y="1797" width="62" height="9" fill="#313883"/>
<rect x="410" y="1806" width="15" height="10" fill="#218825"/>
<rect x="425" y="1806" width="31" height="10" fill="#1a7834"/>
<rect x="456" y="1806" width="16" height="10" fill="#218825"/>
<rect x="472" y="1806" width="16" height="10" fill="#17723a"/>
<rect x="488" y="1806" width="15" height="10" fill="#228b22"/>
<rect x="503" y="1806" width="16" height="10" fill="#126546"/>
<rect x="519" y="1806" width="15" height="10" fill="#105f4d"/>
<rect x="534" y="1806" width="16" height="10" fill="#0e5c50"/>
<rect x="550" y="1806" width="46" height="10" fill="#105f4d"/>
<rect x="596" y="1806" width="16" height="10" fill="#0e5c50"/>
<rect x="627" y="1806" width="16" height="10" fill="#105f4d"/>
<rect x="643" y="1806" width="15" height="10" fill="#0d5853"/>
<rect x="658" y="1806" width="31" height="10" fill="#105f4d"/>
<rect x="689" y="1806" width="31" height="10" fill="#0e5c50"/>
<rect x="720" y="1806" width="47" height="10" fill="#105f4d"/>
<rect x="767" y="1806" width="31" height="10" fill="#0e5c50"/>
<rect x="798" y="1806" width="16" height="10" fill="#084c5f"/>
<rect x="814" y="1806" width="15" height="10" fill="#17723a"/>
<rect x="829" y="1806" width="16" height="10" fill="#0d5853"/>
<rect x="845" y="1806" width="15" height="10" fill="#228b22"/>
<rect x="860" y="1806" width="16" height="10" fill="#1a7834"/>
<rect x="876" y="1806" width="15" height="10" fill="#156b40"/>
<rect x="891" y="1806" width="16" height="10" fill="#1d7e2e"/>
<rect x="907" y="1806" width="31" height="10" fill="#105f4d"/>
<rect x="938" y="1806" width="15" height="10" fill="#17723a"/>
<rect x="953" y="1806" width="16" height="10" fill="#11624a"/>
<rect x="969" y="1806" width="16" height="10" fill="#1b7b31"/>
<rect x="985" y="1806" width="15" height="10" fill="#044268"/>
<rect x="1000" y="1806" width="31" height="10" fill="#197537"/>
<rect x="1031" y="1806" width="16" height="10" fill="#0c5556"/>
<rect x="1047" y="1806" width="15" height="10" fill="#0a5259"/>
<rect x="1062" y="1806" width="16" height="10" fill="#0d3b73"/>
<rect x="1078" y="1806" width="15" height="10" fill="#21397c"/>
<rect x="1093" y="1806" width="31" height="10" fill="#053c70"/>
<rect x="1124" y="1806" width="16" height="10" fill="#023f6b"/>
<rect x="1140" y="1806" width="15" height="10" fill="#044268"/>
<rect x="1155" y="1806" width="16" height="10" fill="#0d3b73"/>
<rect x="1171" y="1806" width="15" height="10" fill="#153a77"/>
<rect x="1186" y="1806" width="16" height="10" fill="#25397d"/>
<rect x="1202" y="1806" width="15" height="10" fill="#0c5556"/>
<rect x="1217" y="1806" width="16" height="10" fill="#46368b"/>
<rect x="1233" y="1806" width="16" height="10" fill="#0d3b73"/>
<rect x="1249" y="1806" width="15" height="10" fill="#3e3788"/>
<rect x="1264" y="1806" width="16" height="10" fill="#21397c"/>
<rect x="1280" y="1806" width="15" height="10" fill="#29387f"/>
<rect x="1295" y="1806" width="31" height="10" fill="#46368b"/>
<rect x="1326" y="1806" width="16" height="10" fill="#363784"/>
<rect x="1342" y="1806" width="15" height="10" fill="#4a368d"/>
<rect x="1357" y="1806" width="16" height="10" fill="#42368a"/>
<rect x="1373" y="1806" width="15" height="10" fill="#4e358f"/>
<rect x="1388" y="1806" width="16" height="10" fill="#42368a"/>
<rect x="1404" y="1806" width="15" height="10" fill="#3a3786"/>
<rect x="1419" y="1806" width="16" height="10" fill="#42368a"/>
<rect x="1435" y="1806" width="15" height="10" fill="#2d3881"/>
<rect x="1450" y="1806" width="16" height="10" fill="#3e3788"/>
<rect x="1544" y="1806" width="77" height="10" fill="#313883"/>
<rect x="1637" y="1806" width="62" height="10" fill="#313883"/>
<rect x="1714" y="1806" width="78" height="10" fill="#313883"/>
<rect x="410" y="1816" width="15" height="10" fill="#1e822b"/>
<rect x="425" y="1816" width="16" height="10" fill="#228b22"/>
<rect x="441" y="1816" width="15" height="10" fill="#1b7b31"/>
<rect x="456" y="1816" width="16" height="10" fill="#228b22"/>
<rect x="472" y="1816" width="16" height="10" fill="#1d7e2e"/>
<rect x="503" y="1816" width="16" height="10" fill="#1f8528"/>
<rect x="519" y="1816" width="15" height="10" fill="#0e5c50"/>
<rect x="534" y="1816" width="31" height="10" fill="#105f4d"/>
<rect x="565" y="1816" width="16" height="10" fill="#0e5c50"/>
<rect x="596" y="1816" width="47" height="10" fill="#0e5c50"/>
<rect x="643" y="1816" width="15" height="10" fill="#105f4d"/>
<rect x="658" y="1816" width="16" height="10" fill="#0e5c50"/>
<rect x="674" y="1816" width="46" height="10" fill="#105f4d"/>
<rect x="720" y="1816" width="32" height="10" fill="#0e5c50"/>
<rect x="752" y="1816" width="31" height="10" fill="#105f4d"/>
<rect x="783" y="1816" width="15" height="10" fill="#0e5c50"/>
<rect x="798" y="1816" width="16" height="10" fill="#166f3d"/>
<rect x="814" y="1816" width="15" height="10" fill="#17723a"/>
<rect x="829" y="1816" width="16" height="10" fill="#0d5853"/>
<rect x="845" y="1816" width="15" height="10" fill="#228b22"/>
<rect x="860" y="1816" width="16" height="10" fill="#1a7834"/>
<rect x="876" y="1816" width="15" height="10" fill="#228b22"/>
<rect x="891" y="1816" width="31" height="10" fill="#218825"/>
<rect x="922" y="1816" width="16" height="10" fill="#228b22"/>
<rect x="938" y="1816" width="15" height="10" fill="#105f4d"/>
<rect x="953" y="1816" width="16" height="10" fill="#126546"/>
<rect x="969" y="1816" width="16" height="10" fill="#1a7834"/>
<rect x="985" y="1816" width="15" height="10" fill="#093b71"/>
<rect x="1000" y="1816" width="16" height="10" fill="#126546"/>
<rect x="1016" y="1816" width="15" height="10" fill="#0c5556"/>
<rect x="1031" y="1816" width="16" height="10" fill="#084c5f"/>
<rect x="1047" y="1816" width="15" height="10" fill="#044268"/>
<rect x="1062" y="1816" width="16" height="10" fill="#093b71"/>
<rect x="1078" y="1816" width="15" height="10" fill="#053c70"/>
<rect x="1093" y="1816" width="16" height="10" fill="#0d3b73"/>
<rect x="1109" y="1816" width="31" height="10" fill="#053c70"/>
<rect x="1140" y="1816" width="15" height="10" fill="#044268"/>
<rect x="1155" y="1816" width="16" height="10" fill="#113b75"/>
<rect x="1171" y="1816" width="15" height="10" fill="#0d3b73"/>
<rect x="1186" y="1816" width="16" height="10" fill="#193a78"/>
<rect x="1202" y="1816" width="31" height="10" fill="#0c5556"/>
<rect x="1233" y="1816" width="16" height="10" fill="#0d5853"/>
<rect x="1249" y="1816" width="15" height="10" fill="#25397d"/>
<rect x="1264" y="1816" width="16" height="10" fill="#523590"/>
<rect x="1280" y="1816" width="62" height="10" fill="#4a368d"/>
<rect x="1342" y="1816" width="15" height="10" fill="#42368a"/>
<rect x="1357" y="1816" width="16" height="10" fill="#4e358f"/>
<rect x="1373" y="1816" width="15" height="10" fill="#46368b"/>
<rect x="1388" y="1816" width="16" height="10" fill="#4a368d"/>
<rect x="1404" y="1816" width="15" height="10" fill="#3a3786"/>
<rect x="1419" y="1816" width="16" height="10" fill="#46368b"/>
<rect x="1435" y="1816" width="15" height="10" fill="#363784"/>
<rect x="1450" y="1816" width="16" height="10" fill="#3e3788"/>
<rect x="1513" y="1816" width="77" height="10" fill="#313883"/>
<rect x="1590" y="1816" width="16" height="10" fill="#2d3881"/>
<rect x="1606" y="1816" width="46" height="10" fill="#313883"/>
<rect x="1668" y="1816" width="31" height="10" fill="#313883"/>
<rect x="1745" y="1816" width="16" height="10" fill="#313883"/>
<rect x="425" y="1826" width="31" height="9" fill="#228b22"/>
<rect x="456" y="1826" width="16" height="9" fill="#1b7b31"/>
<rect x="472" y="1826" width="16" height="9" fill="#136843"/>
<rect x="488" y="1826" width="15" height="9" fill="#17723a"/>
<rect x="503" y="1826" width="16" height="9" fill="#11624a"/>
<rect x="534" y="1826" width="16" height="9" fill="#0e5c50"/>
<rect x="550" y="1826" width="31" height="9" fill="#105f4d"/>
<rect x="581" y="1826" width="15" height="9" fill="#0e5c50"/>
<rect x="627" y="1826" width="31" height="9" fill="#0e5c50"/>
<rect x="658" y="1826" width="16" height="9" fill="#105f4d"/>
<rect x="674" y="1826" width="15" height="9" fill="#0e5c50"/>
<rect x="689" y="1826" width="16" height="9" fill="#105f4d"/>
<rect x="705" y="1826" width="15" height="9" fill="#0e5c50"/>
<rect x="720" y="1826" width="16" height="9" fill="#105f4d"/>
<rect x="736" y="1826" width="16" height="9" fill="#0e5c50"/>
<rect x="752" y="1826" width="31" height="9" fill="#105f4d"/>
<rect x="783" y="1826" width="15" height="9" fill="#0e5c50"/>
<rect x="798" y="1826" width="31" height="9" fill="#17723a"/>
<rect x="829" y="1826" width="16" height="9" fill="#1f8528"/>
<rect x="845" y="1826" width="15" height="9" fill="#228b22"/>
<rect x="860" y="1826" width="31" height="9" fill="#1d7e2e"/>
<rect x="891" y="1826" width="16" height="9" fill="#228b22"/>
<rect x="907" y="1826" width="15" height="9" fill="#1d7e2e"/>
<rect x="922" y="1826" width="16" height="9" fill="#105f4d"/>
<rect x="938" y="1826" width="15" height="9" fill="#094f5c"/>
<rect x="953" y="1826" width="16" height="9" fill="#064962"/>
<rect x="969" y="1826" width="31" height="9" fill="#105f4d"/>
<rect x="1000" y="1826" width="16" height="9" fill="#0e5c50"/>
<rect x="1016" y="1826" width="15" height="9" fill="#0c5556"/>
<rect x="1031" y="1826" width="16" height="9" fill="#0d3b73"/>
<rect x="1047" y="1826" width="15" height="9" fill="#0a5259"/>
<rect x="1062" y="1826" width="16" height="9" fill="#0d3b73"/>
<rect x="1078" y="1826" width="15" height="9" fill="#013c6e"/>
<rect x="1093" y="1826" width="16" height="9" fill="#093b71"/>
<rect x="1109" y="1826" width="15" height="9" fill="#023f6b"/>
<rect x="1124" y="1826" width="16" height="9" fill="#113b75"/>
<rect x="1140" y="1826" width="15" height="9" fill="#044268"/>
<rect x="1155" y="1826" width="16" height="9" fill="#093b71"/>
<rect x="1171" y="1826" width="15" height="9" fill="#153a77"/>
<rect x="1186" y="1826" width="16" height="9" fill="#663399"/>
<rect x="1202" y="1826" width="15" height="9" fill="#193a78"/>
<rect x="1217" y="1826" width="16" height="9" fill="#29387f"/>
<rect x="1233" y="1826" width="16" height="9" fill="#4a368d"/>
<rect x="1249" y="1826" width="15" height="9" fill="#193a78"/>
<rect x="1264" y="1826" width="16" height="9" fill="#46368b"/>
<rect x="1280" y="1826" width="15" height="9" fill="#3a3786"/>
<rect x="1295" y="1826" width="16" height="9" fill="#363784"/>
<rect x="1311" y="1826" width="62" height="9" fill="#4a368d"/>
<rect x="1373" y="1826" width="15" height="9" fill="#42368a"/>
<rect x="1388" y="1826" width="16" height="9" fill="#4e358f"/>
<rect x="1404" y="1826" width="15" height="9" fill="#42368a"/>
<rect x="1419" y="1826" width="16" height="9" fill="#3e3788"/>
<rect x="1435" y="1826" width="15" height="9" fill="#313883"/>
<rect x="1450" y="1826" width="16" height="9" fill="#363784"/>
<rect x="1528" y="1826" width="93" height="9" fill="#313883"/>
<rect x="1621" y="1826" width="16" height="9" fill="#363784"/>
<rect x="1637" y="1826" width="31" height="9" fill="#313883"/>
<rect x="1668" y="1826" width="15" height="9" fill="#2d3881"/>
<rect x="1683" y="1826" width="16" height="9" fill="#313883"/>
<rect x="410" y="1835" width="15" height="10" fill="#1e822b"/>
<rect x="425" y="1835" width="16" height="10" fill="#197537"/>
<rect x="441" y="1835" width="15" height="10" fill="#166f3d"/>
<rect x="456" y="1835" width="16" height="10" fill="#228b22"/>
<rect x="488" y="1835" width="15" height="10" fill="#156b40"/>
<rect x="503" y="1835" width="16" height="10" fill="#11624a"/>
<rect x="534" y="1835" width="16" height="10" fill="#0e5c50"/>
<rect x="550" y="1835" width="15" height="10" fill="#105f4d"/>
<rect x="565" y="1835" width="31" height="10" fill="#0e5c50"/>
<rect x="596" y="1835" width="124" height="10" fill="#105f4d"/>
<rect x="720" y="1835" width="16" height="10" fill="#0e5c50"/>
<rect x="736" y="1835" width="31" height="10" fill="#105f4d"/>
<rect x="767" y="1835" width="16" height="10" fill="#11624a"/>
<rect x="783" y="1835" width="15" height="10" fill="#156b40"/>
<rect x="798" y="1835" width="16" height="10" fill="#11624a"/>
<rect x="814" y="1835" width="15" height="10" fill="#1a7834"/>
<rect x="829" y="1835" width="31" height="10" fill="#218825"/>
<rect x="860" y="1835" width="16" height="10" fill="#1b7b31"/>
<rect x="876" y="1835" width="15" height="10" fill="#197537"/>
<rect x="891" y="1835" width="16" height="10" fill="#1f8528"/>
<rect x="907" y="1835" width="15" height="10" fill="#126546"/>
<rect x="922" y="1835" width="16" height="10" fill="#0e5c50"/>
<rect x="938" y="1835" width="15" height="10" fill="#166f3d"/>
<rect x="953" y="1835" width="16" height="10" fill="#0e5c50"/>
<rect x="969" y="1835" width="16" height="10" fill="#126546"/>
<rect x="985" y="1835" width="15" height="10" fill="#11624a"/>
<rect x="1000" y="1835" width="16" height="10" fill="#25397d"/>
<rect x="1016" y="1835" width="15" height="10" fill="#0d3b73"/>
<rect x="1031" y="1835" width="16" height="10" fill="#093b71"/>
<rect x="1047" y="1835" width="15" height="10" fill="#113b75"/>
<rect x="1062" y="1835" width="16" height="10" fill="#064962"/>
<rect x="1078" y="1835" width="15" height="10" fill="#0d3b73"/>
<rect x="1093" y="1835" width="31" height="10" fill="#013c6e"/>
<rect x="1124" y="1835" width="16" height="10" fill="#193a78"/>
<rect x="1140" y="1835" width="15" height="10" fill="#023f6b"/>
<rect x="1155" y="1835" width="16" height="10" fill="#093b71"/>
<rect x="1171" y="1835" width="15" height="10" fill="#053c70"/>
<rect x="1186" y="1835" width="31" height="10" fill="#5a3494"/>
<rect x="1217" y="1835" width="16" height="10" fill="#0d3b73"/>
<rect x="1233" y="1835" width="16" height="10" fill="#2d3881"/>
<rect x="1249" y="1835" width="15" height="10" fill="#29387f"/>
<rect x="1264" y="1835" width="16" height="10" fill="#2d3881"/>
<rect x="1280" y="1835" width="15" height="10" fill="#29387f"/>
<rect x="1295" y="1835" width="16" height="10" fill="#3e3788"/>
<rect x="1311" y="1835" width="15" height="10" fill="#46368b"/>
<rect x="1326" y="1835" width="16" height="10" fill="#42368a"/>
<rect x="1342" y="1835" width="15" height="10" fill="#46368b"/>
<rect x="1357" y="1835" width="16" height="10" fill="#42368a"/>
<rect x="1388" y="1835" width="16" height="10" fill="#3e3788"/>
<rect x="1404" y="1835" width="15" height="10" fill="#4a368d"/>
<rect x="1419" y="1835" width="16" height="10" fill="#313883"/>
<rect x="1435" y="1835" width="15" height="10" fill="#3e3788"/>
<rect x="1450" y="1835" width="31" height="10" fill="#29387f"/>
<rect x="1513" y="1835" width="46" height="10" fill="#2d3881"/>
<rect x="1559" y="1835" width="124" height="10" fill="#313883"/>
<rect x="425" y="1845" width="16" height="10" fill="#1d7e2e"/>
<rect x="441" y="1845" width="15" height="10" fill="#166f3d"/>
<rect x="456" y="1845" width="16" height="10" fill="#105f4d"/>
<rect x="472" y="1845" width="16" height="10" fill="#197537"/>
<rect x="488" y="1845" width="15" height="10" fill="#105f4d"/>
<rect x="503" y="1845" width="16" height="10" fill="#0e5c50"/>
<rect x="519" y="1845" width="15" height="10" fill="#105f4d"/>
<rect x="534" y="1845" width="62" height="10" fill="#0e5c50"/>
<rect x="596" y="1845" width="16" height="10" fill="#105f4d"/>
<rect x="627" y="1845" width="62" height="10" fill="#105f4d"/>
<rect x="689" y="1845" width="16" height="10" fill="#0e5c50"/>
<rect x="705" y="1845" width="47" height="10" fill="#105f4d"/>
<rect x="752" y="1845" width="15" height="10" fill="#0e5c50"/>
<rect x="767" y="1845" width="16" height="10" fill="#105f4d"/>
<rect x="783" y="1845" width="15" height="10" fill="#11624a"/>
<rect x="798" y="1845" width="16" height="10" fill="#105f4d"/>
<rect x="814" y="1845" width="15" height="10" fill="#156b40"/>
<rect x="829" y="1845" width="16" height="10" fill="#1a7834"/>
<rect x="845" y="1845" width="15" height="10" fill="#0c5556"/>
<rect x="860" y="1845" width="16" height="10" fill="#218825"/>
<rect x="876" y="1845" width="31" height="10" fill="#1a7834"/>
<rect x="907" y="1845" width="15" height="10" fill="#228b22"/>
<rect x="922" y="1845" width="16" height="10" fill="#17723a"/>
<rect x="938" y="1845" width="15" height="10" fill="#0e5c50"/>
<rect x="953" y="1845" width="16" height="10" fill="#1d7e2e"/>
<rect x="969" y="1845" width="16" height="10" fill="#193a78"/>
<rect x="985" y="1845" width="15" height="10" fill="#0e5c50"/>
<rect x="1000" y="1845" width="16" height="10" fill="#193a78"/>
<rect x="1016" y="1845" width="15" height="10" fill="#0d3b73"/>
<rect x="1031" y="1845" width="16" height="10" fill="#193a78"/>
<rect x="1047" y="1845" width="15" height="10" fill="#084c5f"/>
<rect x="1062" y="1845" width="16" height="10" fill="#0d3b73"/>
<rect x="1078" y="1845" width="15" height="10" fill="#25397d"/>
<rect x="1093" y="1845" width="16" height="10" fill="#0d3b73"/>
<rect x="1109" y="1845" width="15" height="10" fill="#053c70"/>
<rect x="1124" y="1845" width="16" height="10" fill="#023f6b"/>
<rect x="1140" y="1845" width="31" height="10" fill="#3a3786"/>
<rect x="1171" y="1845" width="15" height="10" fill="#153a77"/>
<rect x="1186" y="1845" width="16" height="10" fill="#663399"/>
<rect x="1202" y="1845" width="15" height="10" fill="#313883"/>
<rect x="1217" y="1845" width="16" height="10" fill="#084c5f"/>
<rect x="1233" y="1845" width="16" height="10" fill="#113b75"/>
<rect x="1249" y="1845" width="15" height="10" fill="#4a368d"/>
<rect x="1264" y="1845" width="16" height="10" fill="#2d3881"/>
<rect x="1280" y="1845" width="46" height="10" fill="#3a3786"/>
<rect x="1326" y="1845" width="16" height="10" fill="#46368b"/>
<rect x="1342" y="1845" width="15" height="10" fill="#3e3788"/>
<rect x="1357" y="1845" width="16" height="10" fill="#4a368d"/>
<rect x="1388" y="1845" width="31" height="10" fill="#3e3788"/>
<rect x="1419" y="1845" width="16" height="10" fill="#46368b"/>
<rect x="1435" y="1845" width="15" height="10" fill="#3e3788"/>
<rect x="1513" y="1845" width="15" height="10" fill="#313883"/>
<rect x="1528" y="1845" width="16" height="10" fill="#363784"/>
<rect x="1544" y="1845" width="46" height="10" fill="#313883"/>
<rect x="1590" y="1845" width="16" height="10" fill="#363784"/>
<rect x="1606" y="1845" width="62" height="10" fill="#313883"/>
<rect x="425" y="1855" width="16" height="9" fill="#1d7e2e"/>
<rect x="441" y="1855" width="15" height="9" fill="#197537"/>
<rect x="456" y="1855" width="16" height="9" fill="#17723a"/>
<rect x="472" y="1855" width="16" height="9" fill="#156b40"/>
<rect x="503" y="1855" width="47" height="9" fill="#0e5c50"/>
<rect x="550" y="1855" width="15" height="9" fill="#0d5853"/>
<rect x="565" y="1855" width="16" height="9" fill="#0e5c50"/>
<rect x="596" y="1855" width="16" height="9" fill="#105f4d"/>
<rect x="643" y="1855" width="15" height="9" fill="#105f4d"/>
<rect x="658" y="1855" width="16" height="9" fill="#0e5c50"/>
<rect x="674" y="1855" width="31" height="9" fill="#105f4d"/>
<rect x="705" y="1855" width="15" height="9" fill="#0e5c50"/>
<rect x="720" y="1855" width="16" height="9" fill="#105f4d"/>
<rect x="736" y="1855" width="16" height="9" fill="#0e5c50"/>
<rect x="752" y="1855" width="31" height="9" fill="#105f4d"/>
<rect x="783" y="1855" width="15" height="9" fill="#11624a"/>
<rect x="798" y="1855" width="16" height="9" fill="#0e5c50"/>
<rect x="814" y="1855" width="15" height="9" fill="#197537"/>
<rect x="829" y="1855" width="16" height="9" fill="#126546"/>
<rect x="845" y="1855" width="15" height="9" fill="#0d5853"/>
<rect x="860" y="1855" width="16" height="9" fill="#1f8528"/>
<rect x="876" y="1855" width="31" height="9" fill="#1a7834"/>
<rect x="907" y="1855" width="15" height="9" fill="#197537"/>
<rect x="922" y="1855" width="16" height="9" fill="#1a7834"/>
<rect x="938" y="1855" width="15" height="9" fill="#197537"/>
<rect x="953" y="1855" width="16" height="9" fill="#0e5c50"/>
<rect x="969" y="1855" width="16" height="9" fill="#156b40"/>
<rect x="985" y="1855" width="15" height="9" fill="#166f3d"/>
<rect x="1000" y="1855" width="16" height="9" fill="#0d5853"/>
<rect x="1016" y="1855" width="15" height="9" fill="#084c5f"/>
<rect x="1031" y="1855" width="16" height="9" fill="#013c6e"/>
<rect x="1047" y="1855" width="15" height="9" fill="#153a77"/>
<rect x="1062" y="1855" width="16" height="9" fill="#023f6b"/>
<rect x="1078" y="1855" width="15" height="9" fill="#093b71"/>
<rect x="1093" y="1855" width="16" height="9" fill="#013c6e"/>
<rect x="1109" y="1855" width="15" height="9" fill="#054565"/>
<rect x="1124" y="1855" width="16" height="9" fill="#023f6b"/>
<rect x="1140" y="1855" width="15" height="9" fill="#113b75"/>
<rect x="1155" y="1855" width="31" height="9" fill="#023f6b"/>
<rect x="1186" y="1855" width="16" height="9" fill="#21397c"/>
<rect x="1202" y="1855" width="15" height="9" fill="#193a78"/>
<rect x="1217" y="1855" width="16" height="9" fill="#5a3494"/>
<rect x="1233" y="1855" width="16" height="9" fill="#46368b"/>
<rect x="1249" y="1855" width="15" height="9" fill="#113b75"/>
<rect x="1264" y="1855" width="16" height="9" fill="#4a368d"/>
<rect x="1280" y="1855" width="15" height="9" fill="#46368b"/>
<rect x="1295" y="1855" width="16" height="9" fill="#4a368d"/>
<rect x="1311" y="1855" width="15" height="9" fill="#3a3786"/>
<rect x="1326" y="1855" width="31" height="9" fill="#42368a"/>
<rect x="1357" y="1855" width="16" height="9" fill="#4a368d"/>
<rect x="1373" y="1855" width="15" height="9" fill="#3e3788"/>
<rect x="1388" y="1855" width="16" height="9" fill="#42368a"/>
<rect x="1404" y="1855" width="15" height="9" fill="#46368b"/>
<rect x="1419" y="1855" width="16" height="9" fill="#42368a"/>
<rect x="1435" y="1855" width="15" height="9" fill="#3a3786"/>
<rect x="1513" y="1855" width="15" height="9" fill="#29387f"/>
<rect x="1528" y="1855" width="16" height="9" fill="#313883"/>
<rect x="1544" y="1855" width="15" height="9" fill="#363784"/>
<rect x="1559" y="1855" width="47" height="9" fill="#313883"/>
<rect x="1606" y="1855" width="15" height="9" fill="#2d3881"/>
<rect x="1621" y="1855" width="62" height="9" fill="#313883"/>
<rect x="425" y="1864" width="16" height="10" fill="#105f4d"/>
<rect x="456" y="1864" width="16" height="10" fill="#0e5c50"/>
<rect x="488" y="1864" width="31" height="10" fill="#105f4d"/>
<rect x="519" y="1864" width="15" height="10" fill="#0e5c50"/>
<rect x="534" y="1864" width="31" height="10" fill="#105f4d"/>
<rect x="565" y="1864" width="16" height="10" fill="#0e5c50"/>
<rect x="581" y="1864" width="31" height="10" fill="#105f4d"/>
<rect x="643" y="1864" width="15" height="10" fill="#105f4d"/>
<rect x="658" y="1864" width="16" height="10" fill="#0e5c50"/>
<rect x="674" y="1864" width="15" height="10" fill="#105f4d"/>
<rect x="689" y="1864" width="16" height="10" fill="#0e5c50"/>
<rect x="705" y="1864" width="78" height="10" fill="#105f4d"/>
<rect x="798" y="1864" width="16" height="10" fill="#0c5556"/>
<rect x="814" y="1864" width="15" height="10" fill="#1b7b31"/>
<rect x="829" y="1864" width="16" height="10" fill="#156b40"/>
<rect x="845" y="1864" width="15" height="10" fill="#17723a"/>
<rect x="860" y="1864" width="16" height="10" fill="#228b22"/>
<rect x="876" y="1864" width="15" height="10" fill="#1a7834"/>
<rect x="891" y="1864" width="16" height="10" fill="#1d7e2e"/>
<rect x="907" y="1864" width="15" height="10" fill="#1e822b"/>
<rect x="922" y="1864" width="16" height="10" fill="#228b22"/>
<rect x="938" y="1864" width="15" height="10" fill="#1a7834"/>
<rect x="953" y="1864" width="16" height="10" fill="#1d7e2e"/>
<rect x="969" y="1864" width="31" height="10" fill="#156b40"/>
<rect x="1000" y="1864" width="16" height="10" fill="#1d7e2e"/>
<rect x="1016" y="1864" width="15" height="10" fill="#0e5c50"/>
<rect x="1031" y="1864" width="16" height="10" fill="#0d5853"/>
<rect x="1047" y="1864" width="15" height="10" fill="#013c6e"/>
<rect x="1062" y="1864" width="16" height="10" fill="#053c70"/>
<rect x="1078" y="1864" width="15" height="10" fill="#0d3b73"/>
<rect x="1093" y="1864" width="16" height="10" fill="#044268"/>
<rect x="1109" y="1864" width="15" height="10" fill="#0d3b73"/>
<rect x="1124" y="1864" width="16" height="10" fill="#054565"/>
<rect x="1140" y="1864" width="15" height="10" fill="#29387f"/>
<rect x="1155" y="1864" width="16" height="10" fill="#013c6e"/>
<rect x="1171" y="1864" width="15" height="10" fill="#523590"/>
<rect x="1186" y="1864" width="16" height="10" fill="#193a78"/>
<rect x="1202" y="1864" width="47" height="10" fill="#29387f"/>
<rect x="1249" y="1864" width="31" height="10" fill="#42368a"/>
<rect x="1280" y="1864" width="15" height="10" fill="#3e3788"/>
<rect x="1295" y="1864" width="31" height="10" fill="#523590"/>
<rect x="1326" y="1864" width="31" height="10" fill="#42368a"/>
<rect x="1357" y="1864" width="16" height="10" fill="#4e358f"/>
<rect x="1373" y="1864" width="31" height="10" fill="#42368a"/>
<rect x="1404" y="1864" width="15" height="10" fill="#4a368d"/>
<rect x="1419" y="1864" width="16" height="10" fill="#42368a"/>
<rect x="1466" y="1864" width="15" height="10" fill="#2d3881"/>
<rect x="1528" y="1864" width="16" height="10" fill="#2d3881"/>
<rect x="1544" y="1864" width="93" height="10" fill="#313883"/>
<rect x="1668" y="1864" width="15" height="10" fill="#313883"/>
<rect x="1683" y="1864" width="16" height="10" fill="#2d3881"/>
<rect x="441" y="1874" width="31" height="10" fill="#105f4d"/>
<rect x="488" y="1874" width="15" height="10" fill="#105f4d"/>
<rect x="503" y="1874" width="47" height="10" fill="#0e5c50"/>
<rect x="550" y="1874" width="15" height="10" fill="#105f4d"/>
<rect x="565" y="1874" width="16" height="10" fill="#0e5c50"/>
<rect x="581" y="1874" width="15" height="10" fill="#105f4d"/>
<rect x="596" y="1874" width="16" height="10" fill="#0e5c50"/>
<rect x="643" y="1874" width="15" height="10" fill="#0e5c50"/>
<rect x="658" y="1874" width="16" height="10" fill="#11624a"/>
<rect x="689" y="1874" width="63" height="10" fill="#105f4d"/>
<rect x="752" y="1874" width="15" height="10" fill="#0e5c50"/>
<rect x="767" y="1874" width="31" height="10" fill="#105f4d"/>
<rect x="798" y="1874" width="16" height="10" fill="#166f3d"/>
<rect x="814" y="1874" width="15" height="10" fill="#1d7e2e"/>
<rect x="829" y="1874" width="16" height="10" fill="#136843"/>
<rect x="845" y="1874" width="31" height="10" fill="#228b22"/>
<rect x="876" y="1874" width="15" height="10" fill="#197537"/>
<rect x="891" y="1874" width="31" height="10" fill="#1e822b"/>
<rect x="922" y="1874" width="16" height="10" fill="#1d7e2e"/>
<rect x="938" y="1874" width="15" height="10" fill="#228b22"/>
<rect x="953" y="1874" width="16" height="10" fill="#197537"/>
<rect x="969" y="1874" width="16" height="10" fill="#054565"/>
<rect x="985" y="1874" width="15" height="10" fill="#1b7b31"/>
<rect x="1000" y="1874" width="16" height="10" fill="#054565"/>
<rect x="1016" y="1874" width="15" height="10" fill="#044268"/>
<rect x="1031" y="1874" width="16" height="10" fill="#0e5c50"/>
<rect x="1047" y="1874" width="15" height="10" fill="#013c6e"/>
<rect x="1062" y="1874" width="31" height="10" fill="#0d3b73"/>
<rect x="1093" y="1874" width="16" height="10" fill="#094f5c"/>
<rect x="1109" y="1874" width="15" height="10" fill="#0d3b73"/>
<rect x="1124" y="1874" width="16" height="10" fill="#113b75"/>
<rect x="1140" y="1874" width="15" height="10" fill="#25397d"/>
<rect x="1155" y="1874" width="16" height="10" fill="#4a368d"/>
<rect x="1171" y="1874" width="15" height="10" fill="#363784"/>
<rect x="1186" y="1874" width="16" height="10" fill="#29387f"/>
<rect x="1202" y="1874" width="15" height="10" fill="#193a78"/>
<rect x="1217" y="1874" width="16" height="10" fill="#053c70"/>
<rect x="1233" y="1874" width="16" height="10" fill="#4e358f"/>
<rect x="1249" y="1874" width="15" height="10" fill="#25397d"/>
<rect x="1264" y="1874" width="16" height="10" fill="#3a3786"/>
<rect x="1280" y="1874" width="15" height="10" fill="#3e3788"/>
<rect x="1295" y="1874" width="16" height="10" fill="#563492"/>
<rect x="1311" y="1874" width="15" height="10" fill="#46368b"/>
<rect x="1326" y="1874" width="16" height="10" fill="#4a368d"/>
<rect x="1342" y="1874" width="15" height="10" fill="#4e358f"/>
<rect x="1357" y="1874" width="16" height="10" fill="#3e3788"/>
<rect x="1373" y="1874" width="46" height="10" fill="#46368b"/>
<rect x="1419" y="1874" width="16" height="10" fill="#42368a"/>
<rect x="1435" y="1874" width="15" height="10" fill="#2d3881"/>
<rect x="1450" y="1874" width="16" height="10" fill="#3e3788"/>
<rect x="1528" y="1874" width="16" height="10" fill="#3a3786"/>
<rect x="1544" y="1874" width="93" height="10" fill="#313883"/>
<rect x="1637" y="1874" width="15" height="10" fill="#2d3881"/>
<rect x="1652" y="1874" width="16" height="10" fill="#313883"/>
<rect x="456" y="1884" width="16" height="9" fill="#105f4d"/>
<rect x="472" y="1884" width="16" height="9" fill="#0e5c50"/>
<rect x="488" y="1884" width="15" height="9" fill="#105f4d"/>
<rect x="503" y="1884" width="47" height="9" fill="#0e5c50"/>
<rect x="565" y="1884" width="16" height="9" fill="#105f4d"/>
<rect x="581" y="1884" width="15" height="9" fill="#0e5c50"/>
<rect x="596" y="1884" width="31" height="9" fill="#105f4d"/>
<rect x="643" y="1884" width="15" height="9" fill="#105f4d"/>
<rect x="720" y="1884" width="32" height="9" fill="#105f4d"/>
<rect x="752" y="1884" width="15" height="9" fill="#0e5c50"/>
<rect x="767" y="1884" width="16" height="9" fill="#105f4d"/>
<rect x="783" y="1884" width="15" height="9" fill="#0e5c50"/>
<rect x="798" y="1884" width="16" height="9" fill="#126546"/>
<rect x="814" y="1884" width="15" height="9" fill="#0c5556"/>
<rect x="829" y="1884" width="16" height="9" fill="#136843"/>
<rect x="845" y="1884" width="15" height="9" fill="#0c5556"/>
<rect x="860" y="1884" width="16" height="9" fill="#156b40"/>
<rect x="876" y="1884" width="15" height="9" fill="#166f3d"/>
<rect x="891" y="1884" width="16" height="9" fill="#1a7834"/>
<rect x="907" y="1884" width="15" height="9" fill="#1f8528"/>
<rect x="922" y="1884" width="16" height="9" fill="#228b22"/>
<rect x="938" y="1884" width="15" height="9" fill="#1d7e2e"/>
<rect x="953" y="1884" width="16" height="9" fill="#228b22"/>
<rect x="969" y="1884" width="31" height="9" fill="#0d5853"/>
<rect x="1000" y="1884" width="16" height="9" fill="#1b7b31"/>
<rect x="1016" y="1884" width="15" height="9" fill="#054565"/>
<rect x="1031" y="1884" width="16" height="9" fill="#013c6e"/>
<rect x="1047" y="1884" width="15" height="9" fill="#084c5f"/>
<rect x="1062" y="1884" width="16" height="9" fill="#0d3b73"/>
<rect x="1078" y="1884" width="15" height="9" fill="#044268"/>
<rect x="1093" y="1884" width="31" height="9" fill="#2d3881"/>
<rect x="1124" y="1884" width="16" height="9" fill="#064962"/>
<rect x="1140" y="1884" width="15" height="9" fill="#4a368d"/>
<rect x="1155" y="1884" width="16" height="9" fill="#29387f"/>
<rect x="1171" y="1884" width="46" height="9" fill="#21397c"/>
<rect x="1217" y="1884" width="16" height="9" fill="#013c6e"/>
<rect x="1233" y="1884" width="16" height="9" fill="#363784"/>
<rect x="1249" y="1884" width="15" height="9" fill="#46368b"/>
<rect x="1264" y="1884" width="47" height="9" fill="#3e3788"/>
<rect x="1311" y="1884" width="15" height="9" fill="#4a368d"/>
<rect x="1326" y="1884" width="16" height="9" fill="#46368b"/>
<rect x="1342" y="1884" width="15" height="9" fill="#4a368d"/>
<rect x="1357" y="1884" width="16" height="9" fill="#623397"/>
<rect x="1373" y="1884" width="15" height="9" fill="#42368a"/>
<rect x="1388" y="1884" width="16" height="9" fill="#313883"/>
<rect x="1404" y="1884" width="15" height="9" fill="#42368a"/>
<rect x="1419" y="1884" width="16" height="9" fill="#46368b"/>
<rect x="1435" y="1884" width="31" height="9" fill="#2d3881"/>
<rect x="1466" y="1884" width="15" height="9" fill="#29387f"/>
<rect x="1528" y="1884" width="16" height="9" fill="#3a3786"/>
<rect x="1544" y="1884" width="62" height="9" fill="#313883"/>
<rect x="1606" y="1884" width="15" height="9" fill="#363784"/>
<rect x="1652" y="1884" width="16" height="9" fill="#363784"/>
<rect x="472" y="1893" width="31" height="10" fill="#0e5c50"/>
<rect x="503" y="1893" width="16" height="10" fill="#105f4d"/>
<rect x="519" y="1893" width="15" height="10" fill="#0e5c50"/>
<rect x="534" y="1893" width="16" height="10" fill="#105f4d"/>
<rect x="581" y="1893" width="31" height="10" fill="#105f4d"/>
<rect x="612" y="1893" width="15" height="10" fill="#0d5853"/>
<rect x="643" y="1893" width="15" height="10" fill="#0e5c50"/>
<rect x="736" y="1893" width="31" height="10" fill="#105f4d"/>
<rect x="767" y="1893" width="16" height="10" fill="#11624a"/>
<rect x="783" y="1893" width="15" height="10" fill="#166f3d"/>
<rect x="798" y="1893" width="16" height="10" fill="#0e5c50"/>
<rect x="814" y="1893" width="15" height="10" fill="#1d7e2e"/>
<rect x="829" y="1893" width="16" height="10" fill="#156b40"/>
<rect x="845" y="1893" width="15" height="10" fill="#228b22"/>
<rect x="860" y="1893" width="16" height="10" fill="#166f3d"/>
<rect x="876" y="1893" width="15" height="10" fill="#1b7b31"/>
<rect x="891" y="1893" width="16" height="10" fill="#1a7834"/>
<rect x="907" y="1893" width="15" height="10" fill="#218825"/>
<rect x="922" y="1893" width="16" height="10" fill="#1d7e2e"/>
<rect x="938" y="1893" width="15" height="10" fill="#228b22"/>
<rect x="953" y="1893" width="16" height="10" fill="#0e5c50"/>
<rect x="969" y="1893" width="16" height="10" fill="#093b71"/>
<rect x="985" y="1893" width="15" height="10" fill="#363784"/>
<rect x="1000" y="1893" width="16" height="10" fill="#094f5c"/>
<rect x="1016" y="1893" width="15" height="10" fill="#0d5853"/>
<rect x="1031" y="1893" width="16" height="10" fill="#053c70"/>
<rect x="1047" y="1893" width="15" height="10" fill="#21397c"/>
<rect x="1062" y="1893" width="16" height="10" fill="#0d3b73"/>
<rect x="1078" y="1893" width="15" height="10" fill="#084c5f"/>
<rect x="1093" y="1893" width="16" height="10" fill="#4a368d"/>
<rect x="1109" y="1893" width="15" height="10" fill="#064962"/>
<rect x="1124" y="1893" width="16" height="10" fill="#29387f"/>
<rect x="1140" y="1893" width="15" height="10" fill="#42368a"/>
<rect x="1155" y="1893" width="16" height="10" fill="#313883"/>
<rect x="1171" y="1893" width="15" height="10" fill="#46368b"/>
<rect x="1186" y="1893" width="16" height="10" fill="#2d3881"/>
<rect x="1202" y="1893" width="15" height="10" fill="#46368b"/>
<rect x="1217" y="1893" width="16" height="10" fill="#193a78"/>
<rect x="1233" y="1893" width="16" height="10" fill="#3e3788"/>
<rect x="1249" y="1893" width="31" height="10" fill="#29387f"/>
<rect x="1280" y="1893" width="15" height="10" fill="#4a368d"/>
<rect x="1295" y="1893" width="16" height="10" fill="#523590"/>
<rect x="1311" y="1893" width="31" height="10" fill="#46368b"/>
<rect x="1342" y="1893" width="15" height="10" fill="#4a368d"/>
<rect x="1357" y="1893" width="16" height="10" fill="#3e3788"/>
<rect x="1373" y="1893" width="15" height="10" fill="#663399"/>
<rect x="1388" y="1893" width="16" height="10" fill="#4e358f"/>
<rect x="1419" y="1893" width="31" height="10" fill="#42368a"/>
<rect x="1450" y="1893" width="16" height="10" fill="#2d3881"/>
<rect x="1513" y="1893" width="15" height="10" fill="#2d3881"/>
<rect x="1528" y="1893" width="16" height="10" fill="#363784"/>
<rect x="1544" y="1893" width="62" height="10" fill="#313883"/>
<rect x="1637" y="1893" width="15" height="10" fill="#2d3881"/>
<rect x="425" y="1903" width="31" height="10" fill="#105f4d"/>
<rect x="456" y="1903" width="47" height="10" fill="#0e5c50"/>
<rect x="550" y="1903" width="46" height="10" fill="#105f4d"/>
<rect x="720" y="1903" width="16" height="10" fill="#105f4d"/>
<rect x="736" y="1903" width="16" height="10" fill="#0e5c50"/>
<rect x="767" y="1903" width="16" height="10" fill="#0e5c50"/>
<rect x="783" y="1903" width="15" height="10" fill="#11624a"/>
<rect x="798" y="1903" width="16" height="10" fill="#105f4d"/>
<rect x="814" y="1903" width="15" height="10" fill="#11624a"/>
<rect x="829" y="1903" width="16" height="10" fill="#228b22"/>
<rect x="845" y="1903" width="15" height="10" fill="#166f3d"/>
<rect x="860" y="1903" width="16" height="10" fill="#1b7b31"/>
<rect x="876" y="1903" width="15" height="10" fill="#166f3d"/>
<rect x="891" y="1903" width="16" height="10" fill="#1d7e2e"/>
<rect x="907" y="1903" width="15" height="10" fill="#1a7834"/>
<rect x="922" y="1903" width="16" height="10" fill="#1f8528"/>
<rect x="938" y="1903" width="15" height="10" fill="#228b22"/>
<rect x="953" y="1903" width="16" height="10" fill="#126546"/>
<rect x="969" y="1903" width="31" height="10" fill="#0d5853"/>
<rect x="1000" y="1903" width="16" height="10" fill="#153a77"/>
<rect x="1016" y="1903" width="15" height="10" fill="#193a78"/>
<rect x="1031" y="1903" width="16" height="10" fill="#084c5f"/>
<rect x="1047" y="1903" width="15" height="10" fill="#21397c"/>
<rect x="1062" y="1903" width="16" height="10" fill="#064962"/>
<rect x="1078" y="1903" width="15" height="10" fill="#093b71"/>
<rect x="1093" y="1903" width="16" height="10" fill="#363784"/>
<rect x="1109" y="1903" width="15" height="10" fill="#2d3881"/>
<rect x="1124" y="1903" width="16" height="10" fill="#313883"/>
<rect x="1140" y="1903" width="15" height="10" fill="#3a3786"/>
<rect x="1155" y="1903" width="16" height="10" fill="#044268"/>
<rect x="1171" y="1903" width="15" height="10" fill="#523590"/>
<rect x="1186" y="1903" width="16" height="10" fill="#313883"/>
<rect x="1202" y="1903" width="31" height="10" fill="#21397c"/>
<rect x="1233" y="1903" width="16" height="10" fill="#46368b"/>
<rect x="1249" y="1903" width="15" height="10" fill="#523590"/>
<rect x="1264" y="1903" width="16" height="10" fill="#4a368d"/>
<rect x="1280" y="1903" width="15" height="10" fill="#663399"/>
<rect x="1295" y="1903" width="16" height="10" fill="#4e358f"/>
<rect x="1311" y="1903" width="15" height="10" fill="#563492"/>
<rect x="1326" y="1903" width="16" height="10" fill="#4e358f"/>
<rect x="1342" y="1903" width="31" height="10" fill="#563492"/>
<rect x="1373" y="1903" width="15" height="10" fill="#3a3786"/>
<rect x="1388" y="1903" width="16" height="10" fill="#42368a"/>
<rect x="1404" y="1903" width="15" height="10" fill="#523590"/>
<rect x="1450" y="1903" width="16" height="10" fill="#313883"/>
<rect x="1466" y="1903" width="15" height="10" fill="#2d3881"/>
<rect x="1513" y="1903" width="108" height="10" fill="#313883"/>
<rect x="1637" y="1903" width="15" height="10" fill="#313883"/>
<rect x="425" y="1913" width="16" height="10" fill="#105f4d"/>
<rect x="441" y="1913" width="31" height="10" fill="#0e5c50"/>
<rect x="503" y="1913" width="62" height="10" fill="#105f4d"/>
<rect x="565" y="1913" width="16" height="10" fill="#0e5c50"/>
<rect x="581" y="1913" width="15" height="10" fill="#105f4d"/>
<rect x="720" y="1913" width="32" height="10" fill="#105f4d"/>
<rect x="767" y="1913" width="16" height="10" fill="#105f4d"/>
<rect x="783" y="1913" width="15" height="10" fill="#0e5c50"/>
<rect x="798" y="1913" width="16" height="10" fill="#105f4d"/>
<rect x="814" y="1913" width="15" height="10" fill="#11624a"/>
<rect x="829" y="1913" width="16" height="10" fill="#1f8528"/>
<rect x="845" y="1913" width="15" height="10" fill="#166f3d"/>
<rect x="860" y="1913" width="16" height="10" fill="#1b7b31"/>
<rect x="876" y="1913" width="15" height="10" fill="#228b22"/>
<rect x="891" y="1913" width="16" height="10" fill="#166f3d"/>
<rect x="907" y="1913" width="15" height="10" fill="#17723a"/>
<rect x="922" y="1913" width="31" height="10" fill="#228b22"/>
<rect x="953" y="1913" width="16" height="10" fill="#0c5556"/>
<rect x="969" y="1913" width="16" height="10" fill="#228b22"/>
<rect x="985" y="1913" width="15" height="10" fill="#1d397a"/>
<rect x="1000" y="1913" width="16" height="10" fill="#094f5c"/>
<rect x="1016" y="1913" width="15" height="10" fill="#193a78"/>
<rect x="1031" y="1913" width="16" height="10" fill="#0d5853"/>
<rect x="1047" y="1913" width="15" height="10" fill="#11624a"/>
<rect x="1062" y="1913" width="16" height="10" fill="#093b71"/>
<rect x="1078" y="1913" width="15" height="10" fill="#3e3788"/>
<rect x="1093" y="1913" width="16" height="10" fill="#25397d"/>
<rect x="1109" y="1913" width="15" height="10" fill="#3a3786"/>
<rect x="1124" y="1913" width="16" height="10" fill="#21397c"/>
<rect x="1140" y="1913" width="15" height="10" fill="#663399"/>
<rect x="1155" y="1913" width="16" height="10" fill="#3a3786"/>
<rect x="1171" y="1913" width="15" height="10" fill="#29387f"/>
<rect x="1186" y="1913" width="16" height="10" fill="#3a3786"/>
<rect x="1202" y="1913" width="15" height="10" fill="#21397c"/>
<rect x="1217" y="1913" width="16" height="10" fill="#4e358f"/>
<rect x="1233" y="1913" width="16" height="10" fill="#523590"/>
<rect x="1249" y="1913" width="15" height="10" fill="#25397d"/>
<rect x="1264" y="1913" width="16" height="10" fill="#4e358f"/>
<rect x="1280" y="1913" width="15" height="10" fill="#46368b"/>
<rect x="1295" y="1913" width="31" height="10" fill="#523590"/>
<rect x="1326" y="1913" width="16" height="10" fill="#4e358f"/>
<rect x="1342" y="1913" width="15" height="10" fill="#4a368d"/>
<rect x="1357" y="1913" width="16" height="10" fill="#46368b"/>
<rect x="1373" y="1913" width="15" height="10" fill="#4a368d"/>
<rect x="1388" y="1913" width="16" height="10" fill="#3a3786"/>
<rect x="1404" y="1913" width="15" height="10" fill="#523590"/>
<rect x="1419" y="1913" width="16" height="10" fill="#42368a"/>
<rect x="1435" y="1913" width="15" height="10" fill="#313883"/>
<rect x="1450" y="1913" width="16" height="10" fill="#3a3786"/>
<rect x="1466" y="1913" width="15" height="10" fill="#313883"/>
<rect x="1481" y="1913" width="16" height="10" fill="#363784"/>
<rect x="1497" y="1913" width="47" height="10" fill="#313883"/>
<rect x="1544" y="1913" width="15" height="10" fill="#363784"/>
<rect x="1559" y="1913" width="78" height="10" fill="#313883"/>
<rect x="410" y="1923" width="46" height="9" fill="#0e5c50"/>
<rect x="456" y="1923" width="16" height="9" fill="#105f4d"/>
<rect x="488" y="1923" width="15" height="9" fill="#105f4d"/>
<rect x="534" y="1923" width="16" height="9" fill="#105f4d"/>
<rect x="550" y="1923" width="31" height="9" fill="#0e5c50"/>
<rect x="596" y="1923" width="16" height="9" fill="#0d5853"/>
<rect x="767" y="1923" width="31" height="9" fill="#105f4d"/>
<rect x="798" y="1923" width="16" height="9" fill="#054565"/>
<rect x="814" y="1923" width="15" height="9" fill="#136843"/>
<rect x="829" y="1923" width="16" height="9" fill="#126546"/>
<rect x="845" y="1923" width="15" height="9" fill="#228b22"/>
<rect x="860" y="1923" width="16" height="9" fill="#1d7e2e"/>
<rect x="876" y="1923" width="31" height="9" fill="#1b7b31"/>
<rect x="907" y="1923" width="15" height="9" fill="#156b40"/>
<rect x="922" y="1923" width="16" height="9" fill="#126546"/>
<rect x="938" y="1923" width="15" height="9" fill="#156b40"/>
<rect x="953" y="1923" width="16" height="9" fill="#0d3b73"/>
<rect x="969" y="1923" width="16" height="9" fill="#11624a"/>
<rect x="985" y="1923" width="15" height="9" fill="#013c6e"/>
<rect x="1000" y="1923" width="16" height="9" fill="#094f5c"/>
<rect x="1016" y="1923" width="15" height="9" fill="#113b75"/>
<rect x="1031" y="1923" width="16" height="9" fill="#0d5853"/>
<rect x="1047" y="1923" width="15" height="9" fill="#0d3b73"/>
<rect x="1062" y="1923" width="16" height="9" fill="#054565"/>
<rect x="1078" y="1923" width="15" height="9" fill="#363784"/>
<rect x="1093" y="1923" width="16" height="9" fill="#46368b"/>
<rect x="1109" y="1923" width="15" height="9" fill="#21397c"/>
<rect x="1124" y="1923" width="16" height="9" fill="#46368b"/>
<rect x="1140" y="1923" width="15" height="9" fill="#663399"/>
<rect x="1155" y="1923" width="31" height="9" fill="#4a368d"/>
<rect x="1186" y="1923" width="16" height="9" fill="#523590"/>
<rect x="1202" y="1923" width="15" height="9" fill="#42368a"/>
<rect x="1217" y="1923" width="16" height="9" fill="#3e3788"/>
<rect x="1233" y="1923" width="16" height="9" fill="#4a368d"/>
<rect x="1249" y="1923" width="31" height="9" fill="#4e358f"/>
<rect x="1280" y="1923" width="15" height="9" fill="#4a368d"/>
<rect x="1295" y="1923" width="16" height="9" fill="#4e358f"/>
<rect x="1311" y="1923" width="15" height="9" fill="#563492"/>
<rect x="1326" y="1923" width="16" height="9" fill="#523590"/>
<rect x="1342" y="1923" width="46" height="9" fill="#4e358f"/>
<rect x="1388" y="1923" width="31" height="9" fill="#42368a"/>
<rect x="1419" y="1923" width="31" height="9" fill="#4a368d"/>
<rect x="1450" y="1923" width="16" height="9" fill="#363784"/>
<rect x="1466" y="1923" width="15" height="9" fill="#3a3786"/>
<rect x="1481" y="1923" width="16" height="9" fill="#313883"/>
<rect x="1497" y="1923" width="16" height="9" fill="#363784"/>
<rect x="1513" y="1923" width="15" height="9" fill="#313883"/>
<rect x="1528" y="1923" width="16" height="9" fill="#363784"/>
<rect x="1544" y="1923" width="77" height="9" fill="#313883"/>
<rect x="1637" y="1923" width="15" height="9" fill="#313883"/>
<rect x="410" y="1932" width="15" height="10" fill="#0e5c50"/>
<rect x="425" y="1932" width="31" height="10" fill="#105f4d"/>
<rect x="519" y="1932" width="62" height="10" fill="#105f4d"/>
<rect x="581" y="1932" width="15" height="10" fill="#0e5c50"/>
<rect x="767" y="1932" width="16" height="10" fill="#0c5556"/>
<rect x="798" y="1932" width="16" height="10" fill="#0c5556"/>
<rect x="814" y="1932" width="15" height="10" fill="#054565"/>
<rect x="829" y="1932" width="16" height="10" fill="#166f3d"/>
<rect x="845" y="1932" width="15" height="10" fill="#0d5853"/>
<rect x="860" y="1932" width="16" height="10" fill="#1b7b31"/>
<rect x="876" y="1932" width="15" height="10" fill="#166f3d"/>
<rect x="891" y="1932" width="31" height="10" fill="#1d7e2e"/>
<rect x="922" y="1932" width="16" height="10" fill="#1e822b"/>
<rect x="938" y="1932" width="15" height="10" fill="#228b22"/>
<rect x="953" y="1932" width="16" height="10" fill="#044268"/>
<rect x="969" y="1932" width="16" height="10" fill="#136843"/>
<rect x="985" y="1932" width="15" height="10" fill="#126546"/>
<rect x="1000" y="1932" width="16" height="10" fill="#0d5853"/>
<rect x="1016" y="1932" width="15" height="10" fill="#0d3b73"/>
<rect x="1031" y="1932" width="16" height="10" fill="#023f6b"/>
<rect x="1047" y="1932" width="15" height="10" fill="#2d3881"/>
<rect x="1062" y="1932" width="16" height="10" fill="#0c5556"/>
<rect x="1078" y="1932" width="15" height="10" fill="#023f6b"/>
<rect x="1093" y="1932" width="16" height="10" fill="#21397c"/>
<rect x="1109" y="1932" width="15" height="10" fill="#064962"/>
<rect x="1124" y="1932" width="16" height="10" fill="#21397c"/>
<rect x="1140" y="1932" width="15" height="10" fill="#42368a"/>
<rect x="1155" y="1932" width="16" height="10" fill="#5e3496"/>
<rect x="1171" y="1932" width="15" height="10" fill="#4a368d"/>
<rect x="1186" y="1932" width="31" height="10" fill="#46368b"/>
<rect x="1217" y="1932" width="16" height="10" fill="#313883"/>
<rect x="1233" y="1932" width="16" height="10" fill="#363784"/>
<rect x="1249" y="1932" width="15" height="10" fill="#42368a"/>
<rect x="1264" y="1932" width="16" height="10" fill="#623397"/>
<rect x="1280" y="1932" width="31" height="10" fill="#523590"/>
<rect x="1311" y="1932" width="15" height="10" fill="#563492"/>
<rect x="1326" y="1932" width="16" height="10" fill="#4e358f"/>
<rect x="1342" y="1932" width="15" height="10" fill="#3e3788"/>
<rect x="1357" y="1932" width="16" height="10" fill="#42368a"/>
<rect x="1373" y="1932" width="15" height="10" fill="#4e358f"/>
<rect x="1388" y="1932" width="47" height="10" fill="#4a368d"/>
<rect x="1435" y="1932" width="15" height="10" fill="#313883"/>
<rect x="1450" y="1932" width="31" height="10" fill="#363784"/>
<rect x="1481" y="1932" width="16" height="10" fill="#313883"/>
<rect x="1497" y="1932" width="16" height="10" fill="#363784"/>
<rect x="1513" y="1932" width="31" height="10" fill="#313883"/>
<rect x="1544" y="1932" width="15" height="10" fill="#363784"/>
<rect x="1559" y="1932" width="62" height="10" fill="#313883"/>
<rect x="410" y="1942" width="31" height="10" fill="#0e5c50"/>
<rect x="519" y="1942" width="15" height="10" fill="#105f4d"/>
<rect x="534" y="1942" width="16" height="10" fill="#0e5c50"/>
<rect x="565" y="1942" width="16" height="10" fill="#0e5c50"/>
<rect x="581" y="1942" width="15" height="10" fill="#0c5556"/>
<rect x="798" y="1942" width="31" height="10" fill="#064962"/>
<rect x="829" y="1942" width="16" height="10" fill="#013c6e"/>
<rect x="845" y="1942" width="15" height="10" fill="#105f4d"/>
<rect x="860" y="1942" width="16" height="10" fill="#136843"/>
<rect x="876" y="1942" width="15" height="10" fill="#1f8528"/>
<rect x="891" y="1942" width="16" height="10" fill="#11624a"/>
<rect x="907" y="1942" width="15" height="10" fill="#126546"/>
<rect x="922" y="1942" width="16" height="10" fill="#094f5c"/>
<rect x="938" y="1942" width="15" height="10" fill="#156b40"/>
<rect x="953" y="1942" width="16" height="10" fill="#054565"/>
<rect x="969" y="1942" width="16" height="10" fill="#228b22"/>
<rect x="985" y="1942" width="15" height="10" fill="#126546"/>
<rect x="1000" y="1942" width="16" height="10" fill="#11624a"/>
<rect x="1016" y="1942" width="15" height="10" fill="#044268"/>
<rect x="1031" y="1942" width="16" height="10" fill="#0d3b73"/>
<rect x="1047" y="1942" width="15" height="10" fill="#093b71"/>
<rect x="1062" y="1942" width="16" height="10" fill="#054565"/>
<rect x="1078" y="1942" width="15" height="10" fill="#093b71"/>
<rect x="1093" y="1942" width="16" height="10" fill="#21397c"/>
<rect x="1109" y="1942" width="15" height="10" fill="#46368b"/>
<rect x="1124" y="1942" width="16" height="10" fill="#25397d"/>
<rect x="1140" y="1942" width="15" height="10" fill="#42368a"/>
<rect x="1155" y="1942" width="16" height="10" fill="#25397d"/>
<rect x="1171" y="1942" width="15" height="10" fill="#4e358f"/>
<rect x="1186" y="1942" width="16" height="10" fill="#363784"/>
<rect x="1202" y="1942" width="15" height="10" fill="#4a368d"/>
<rect x="1217" y="1942" width="16" height="10" fill="#3e3788"/>
<rect x="1233" y="1942" width="16" height="10" fill="#46368b"/>
<rect x="1249" y="1942" width="15" height="10" fill="#623397"/>
<rect x="1264" y="1942" width="16" height="10" fill="#4e358f"/>
<rect x="1280" y="1942" width="15" height="10" fill="#563492"/>
<rect x="1295" y="1942" width="16" height="10" fill="#523590"/>
<rect x="1311" y="1942" width="15" height="10" fill="#563492"/>
<rect x="1326" y="1942" width="31" height="10" fill="#4e358f"/>
<rect x="1357" y="1942" width="16" height="10" fill="#42368a"/>
<rect x="1373" y="1942" width="15" height="10" fill="#4a368d"/>
<rect x="1388" y="1942" width="31" height="10" fill="#46368b"/>
<rect x="1419" y="1942" width="16" height="10" fill="#42368a"/>
<rect x="1435" y="1942" width="15" height="10" fill="#46368b"/>
<rect x="1450" y="1942" width="16" height="10" fill="#363784"/>
<rect x="1466" y="1942" width="31" height="10" fill="#3a3786"/>
<rect x="1497" y="1942" width="31" height="10" fill="#313883"/>
<rect x="1559" y="1942" width="62" height="10" fill="#313883"/>
<rect x="534" y="1952" width="16" height="9" fill="#0d5853"/>
<rect x="550" y="1952" width="15" height="9" fill="#0a5259"/>
<rect x="565" y="1952" width="16" height="9" fill="#0e5c50"/>
<rect x="829" y="1952" width="16" height="9" fill="#054565"/>
<rect x="845" y="1952" width="15" height="9" fill="#044268"/>
<rect x="860" y="1952" width="16" height="9" fill="#1b7b31"/>
<rect x="876" y="1952" width="15" height="9" fill="#064962"/>
<rect x="891" y="1952" width="16" height="9" fill="#156b40"/>
<rect x="907" y="1952" width="15" height="9" fill="#1f8528"/>
<rect x="922" y="1952" width="16" height="9" fill="#156b40"/>
<rect x="938" y="1952" width="15" height="9" fill="#1d7e2e"/>
<rect x="953" y="1952" width="16" height="9" fill="#0e5c50"/>
<rect x="969" y="1952" width="16" height="9" fill="#044268"/>
<rect x="985" y="1952" width="15" height="9" fill="#11624a"/>
<rect x="1000" y="1952" width="16" height="9" fill="#0c5556"/>
<rect x="1016" y="1952" width="15" height="9" fill="#156b40"/>
<rect x="1031" y="1952" width="31" height="9" fill="#053c70"/>
<rect x="1062" y="1952" width="16" height="9" fill="#0a5259"/>
<rect x="1078" y="1952" width="15" height="9" fill="#1d7e2e"/>
<rect x="1093" y="1952" width="16" height="9" fill="#21397c"/>
<rect x="1109" y="1952" width="15" height="9" fill="#25397d"/>
<rect x="1124" y="1952" width="16" height="9" fill="#3e3788"/>
<rect x="1140" y="1952" width="15" height="9" fill="#193a78"/>
<rect x="1155" y="1952" width="16" height="9" fill="#663399"/>
<rect x="1171" y="1952" width="15" height="9" fill="#42368a"/>
<rect x="1186" y="1952" width="16" height="9" fill="#663399"/>
<rect x="1202" y="1952" width="15" height="9" fill="#42368a"/>
<rect x="1217" y="1952" width="16" height="9" fill="#663399"/>
<rect x="1233" y="1952" width="16" height="9" fill="#523590"/>
<rect x="1249" y="1952" width="15" height="9" fill="#4a368d"/>
<rect x="1264" y="1952" width="16" height="9" fill="#46368b"/>
<rect x="1280" y="1952" width="15" height="9" fill="#4e358f"/>
<rect x="1295" y="1952" width="16" height="9" fill="#5a3494"/>
<rect x="1311" y="1952" width="46" height="9" fill="#46368b"/>
<rect x="1357" y="1952" width="16" height="9" fill="#3e3788"/>
<rect x="1373" y="1952" width="15" height="9" fill="#46368b"/>
<rect x="1388" y="1952" width="16" height="9" fill="#42368a"/>
<rect x="1404" y="1952" width="15" height="9" fill="#363784"/>
<rect x="1419" y="1952" width="47" height="9" fill="#46368b"/>
<rect x="1466" y="1952" width="15" height="9" fill="#313883"/>
<rect x="1481" y="1952" width="16" height="9" fill="#363784"/>
<rect x="1497" y="1952" width="16" height="9" fill="#2d3881"/>
<rect x="1513" y="1952" width="31" height="9" fill="#313883"/>
<rect x="1559" y="1952" width="62" height="9" fill="#313883"/>
<rect x="814" y="1961" width="15" height="10" fill="#094f5c"/>
<rect x="829" y="1961" width="16" height="10" fill="#064962"/>
<rect x="845" y="1961" width="15" height="10" fill="#0c5556"/>
<rect x="860" y="1961" width="31" height="10" fill="#0d5853"/>
<rect x="891" y="1961" width="16" height="10" fill="#126546"/>
<rect x="907" y="1961" width="15" height="10" fill="#228b22"/>
<rect x="922" y="1961" width="16" height="10" fill="#136843"/>
<rect x="938" y="1961" width="31" height="10" fill="#084c5f"/>
<rect x="969" y="1961" width="16" height="10" fill="#1d7e2e"/>
<rect x="985" y="1961" width="15" height="10" fill="#044268"/>
<rect x="1000" y="1961" width="16" height="10" fill="#064962"/>
<rect x="1016" y="1961" width="15" height="10" fill="#0d5853"/>
<rect x="1031" y="1961" width="16" height="10" fill="#094f5c"/>
<rect x="1047" y="1961" width="15" height="10" fill="#0d3b73"/>
<rect x="1062" y="1961" width="16" height="10" fill="#054565"/>
<rect x="1078" y="1961" width="15" height="10" fill="#523590"/>
<rect x="1093" y="1961" width="16" height="10" fill="#313883"/>
<rect x="1109" y="1961" width="15" height="10" fill="#46368b"/>
<rect x="1124" y="1961" width="47" height="10" fill="#663399"/>
<rect x="1171" y="1961" width="15" height="10" fill="#42368a"/>
<rect x="1186" y="1961" width="16" height="10" fill="#663399"/>
<rect x="1202" y="1961" width="15" height="10" fill="#523590"/>
<rect x="1217" y="1961" width="16" height="10" fill="#623397"/>
<rect x="1233" y="1961" width="16" height="10" fill="#5a3494"/>
<rect x="1249" y="1961" width="31" height="10" fill="#523590"/>
<rect x="1280" y="1961" width="15" height="10" fill="#4e358f"/>
<rect x="1295" y="1961" width="16" height="10" fill="#46368b"/>
<rect x="1311" y="1961" width="15" height="10" fill="#4e358f"/>
<rect x="1326" y="1961" width="16" height="10" fill="#5a3494"/>
<rect x="1342" y="1961" width="15" height="10" fill="#563492"/>
<rect x="1357" y="1961" width="16" height="10" fill="#3e3788"/>
<rect x="1373" y="1961" width="15" height="10" fill="#4a368d"/>
<rect x="1388" y="1961" width="16" height="10" fill="#3a3786"/>
<rect x="1404" y="1961" width="15" height="10" fill="#46368b"/>
<rect x="1419" y="1961" width="16" height="10" fill="#25397d"/>
<rect x="1435" y="1961" width="15" height="10" fill="#313883"/>
<rect x="1450" y="1961" width="16" height="10" fill="#3e3788"/>
<rect x="1466" y="1961" width="15" height="10" fill="#3a3786"/>
<rect x="1481" y="1961" width="32" height="10" fill="#363784"/>
<rect x="1513" y="1961" width="15" height="10" fill="#313883"/>
<rect x="1528" y="1961" width="16" height="10" fill="#2d3881"/>
<rect x="1559" y="1961" width="16" height="10" fill="#313883"/>
<rect x="798" y="1971" width="16" height="10" fill="#0a5259"/>
<rect x="829" y="1971" width="16" height="10" fill="#094f5c"/>
<rect x="845" y="1971" width="15" height="10" fill="#013c6e"/>
<rect x="860" y="1971" width="16" height="10" fill="#0c5556"/>
<rect x="876" y="1971" width="15" height="10" fill="#094f5c"/>
<rect x="891" y="1971" width="16" height="10" fill="#084c5f"/>
<rect x="907" y="1971" width="15" height="10" fill="#094f5c"/>
<rect x="922" y="1971" width="16" height="10" fill="#064962"/>
<rect x="938" y="1971" width="15" height="10" fill="#0c5556"/>
<rect x="953" y="1971" width="16" height="10" fill="#094f5c"/>
<rect x="969" y="1971" width="16" height="10" fill="#044268"/>
<rect x="985" y="1971" width="15" height="10" fill="#0e5c50"/>
<rect x="1016" y="1971" width="15" height="10" fill="#094f5c"/>
<rect x="1031" y="1971" width="16" height="10" fill="#0d5853"/>
<rect x="1047" y="1971" width="15" height="10" fill="#0a5259"/>
<rect x="1062" y="1971" width="16" height="10" fill="#044268"/>
<rect x="1078" y="1971" width="15" height="10" fill="#663399"/>
<rect x="1093" y="1971" width="16" height="10" fill="#0c5556"/>
<rect x="1124" y="1971" width="16" height="10" fill="#313883"/>
<rect x="1140" y="1971" width="15" height="10" fill="#29387f"/>
<rect x="1155" y="1971" width="16" height="10" fill="#5e3496"/>
<rect x="1171" y="1971" width="15" height="10" fill="#663399"/>
<rect x="1186" y="1971" width="16" height="10" fill="#363784"/>
<rect x="1202" y="1971" width="15" height="10" fill="#5a3494"/>
<rect x="1217" y="1971" width="16" height="10" fill="#313883"/>
<rect x="1233" y="1971" width="16" height="10" fill="#5a3494"/>
<rect x="1249" y="1971" width="15" height="10" fill="#623397"/>
<rect x="1264" y="1971" width="16" height="10" fill="#563492"/>
<rect x="1280" y="1971" width="15" height="10" fill="#663399"/>
<rect x="1295" y="1971" width="16" height="10" fill="#5e3496"/>
<rect x="1311" y="1971" width="15" height="10" fill="#4e358f"/>
<rect x="1326" y="1971" width="16" height="10" fill="#42368a"/>
<rect x="1342" y="1971" width="15" height="10" fill="#46368b"/>
<rect x="1357" y="1971" width="16" height="10" fill="#663399"/>
<rect x="1373" y="1971" width="15" height="10" fill="#3e3788"/>
<rect x="1388" y="1971" width="16" height="10" fill="#4a368d"/>
<rect x="1419" y="1971" width="16" height="10" fill="#42368a"/>
<rect x="1435" y="1971" width="15" height="10" fill="#46368b"/>
<rect x="1450" y="1971" width="16" height="10" fill="#313883"/>
<rect x="1466" y="1971" width="15" height="10" fill="#3a3786"/>
<rect x="1481" y="1971" width="16" height="10" fill="#363784"/>
<rect x="1497" y="1971" width="16" height="10" fill="#313883"/>
<rect x="1513" y="1971" width="15" height="10" fill="#2d3881"/>
<rect x="814" y="1981" width="15" height="9" fill="#105f4d"/>
<rect x="829" y="1981" width="16" height="9" fill="#0c5556"/>
<rect x="845" y="1981" width="15" height="9" fill="#0d5853"/>
<rect x="860" y="1981" width="16" height="9" fill="#17723a"/>
<rect x="876" y="1981" width="15" height="9" fill="#0d5853"/>
<rect x="891" y="1981" width="16" height="9" fill="#094f5c"/>
<rect x="907" y="1981" width="15" height="9" fill="#126546"/>
<rect x="922" y="1981" width="16" height="9" fill="#084c5f"/>
<rect x="938" y="1981" width="15" height="9" fill="#064962"/>
<rect x="953" y="1981" width="16" height="9" fill="#044268"/>
<rect x="969" y="1981" width="16" height="9" fill="#0a5259"/>
<rect x="985" y="1981" width="15" height="9" fill="#0c5556"/>
<rect x="1000" y="1981" width="31" height="9" fill="#094f5c"/>
<rect x="1031" y="1981" width="31" height="9" fill="#084c5f"/>
<rect x="1062" y="1981" width="16" height="9" fill="#1d7e2e"/>
<rect x="1078" y="1981" width="15" height="9" fill="#17723a"/>
<rect x="1093" y="1981" width="16" height="9" fill="#0d5853"/>
<rect x="1140" y="1981" width="15" height="9" fill="#25397d"/>
<rect x="1155" y="1981" width="16" height="9" fill="#663399"/>
<rect x="1171" y="1981" width="15" height="9" fill="#053c70"/>
<rect x="1186" y="1981" width="31" height="9" fill="#663399"/>
<rect x="1217" y="1981" width="16" height="9" fill="#563492"/>
<rect x="1233" y="1981" width="31" height="9" fill="#663399"/>
<rect x="1264" y="1981" width="16" height="9" fill="#5a3494"/>
<rect x="1295" y="1981" width="16" height="9" fill="#4e358f"/>
<rect x="1311" y="1981" width="15" height="9" fill="#523590"/>
<rect x="1326" y="1981" width="16" height="9" fill="#4a368d"/>
<rect x="1342" y="1981" width="15" height="9" fill="#4e358f"/>
<rect x="1357" y="1981" width="16" height="9" fill="#46368b"/>
<rect x="1373" y="1981" width="15" height="9" fill="#363784"/>
<rect x="1388" y="1981" width="47" height="9" fill="#4a368d"/>
<rect x="1435" y="1981" width="15" height="9" fill="#3e3788"/>
<rect x="1450" y="1981" width="16" height="9" fill="#3a3786"/>
<rect x="1466" y="1981" width="15" height="9" fill="#313883"/>
<rect x="1481" y="1981" width="16" height="9" fill="#363784"/>
<rect x="1497" y="1981" width="16" height="9" fill="#313883"/>
<rect x="1528" y="1981" width="16" height="9" fill="#313883"/>
<rect x="798" y="1990" width="31" height="10" fill="#0c5556"/>
<rect x="829" y="1990" width="16" height="10" fill="#084c5f"/>
<rect x="845" y="1990" width="15" height="10" fill="#094f5c"/>
<rect x="876" y="1990" width="15" height="10" fill="#094f5c"/>
<rect x="891" y="1990" width="16" height="10" fill="#0c5556"/>
<rect x="907" y="1990" width="15" height="10" fill="#094f5c"/>
<rect x="922" y="1990" width="16" height="10" fill="#11624a"/>
<rect x="938" y="1990" width="31" height="10" fill="#064962"/>
<rect x="969" y="1990" width="16" height="10" fill="#084c5f"/>
<rect x="985" y="1990" width="46" height="10" fill="#064962"/>
<rect x="1031" y="1990" width="16" height="10" fill="#0c5556"/>
<rect x="1047" y="1990" width="15" height="10" fill="#11624a"/>
<rect x="1140" y="1990" width="31" height="10" fill="#044268"/>
<rect x="1171" y="1990" width="15" height="10" fill="#363784"/>
<rect x="1186" y="1990" width="31" height="10" fill="#663399"/>
<rect x="1217" y="1990" width="16" height="10" fill="#363784"/>
<rect x="1233" y="1990" width="16" height="10" fill="#623397"/>
<rect x="1249" y="1990" width="31" height="10" fill="#663399"/>
<rect x="1280" y="1990" width="15" height="10" fill="#5a3494"/>
<rect x="1295" y="1990" width="16" height="10" fill="#563492"/>
<rect x="1311" y="1990" width="15" height="10" fill="#523590"/>
<rect x="1326" y="1990" width="16" height="10" fill="#5e3496"/>
<rect x="1342" y="1990" width="15" height="10" fill="#523590"/>
<rect x="1357" y="1990" width="16" height="10" fill="#363784"/>
<rect x="1373" y="1990" width="15" height="10" fill="#3a3786"/>
<rect x="1388" y="1990" width="16" height="10" fill="#3e3788"/>
<rect x="1404" y="1990" width="15" height="10" fill="#46368b"/>
<rect x="1419" y="1990" width="31" height="10" fill="#363784"/>
<rect x="1450" y="1990" width="16" height="10" fill="#3a3786"/>
<rect x="1466" y="1990" width="31" height="10" fill="#313883"/>
<rect x="1497" y="1990" width="31" height="10" fill="#363784"/>
<rect x="1528" y="1990" width="31" height="10" fill="#313883"/>
<rect x="798" y="2000" width="16" height="10" fill="#0e5c50"/>
<rect x="814" y="2000" width="31" height="10" fill="#0a5259"/>
<rect x="845" y="2000" width="15" height="10" fill="#0c5556"/>
<rect x="860" y="2000" width="16" height="10" fill="#084c5f"/>
<rect x="876" y="2000" width="15" height="10" fill="#094f5c"/>
<rect x="891" y="2000" width="16" height="10" fill="#064962"/>
<rect x="907" y="2000" width="15" height="10" fill="#0d5853"/>
<rect x="922" y="2000" width="16" height="10" fill="#064962"/>
<rect x="938" y="2000" width="31" height="10" fill="#054565"/>
<rect x="969" y="2000" width="16" height="10" fill="#044268"/>
<rect x="985" y="2000" width="15" height="10" fill="#0c5556"/>
<rect x="1000" y="2000" width="16" height="10" fill="#0d5853"/>
<rect x="1016" y="2000" width="15" height="10" fill="#0a5259"/>
<rect x="1031" y="2000" width="16" height="10" fill="#084c5f"/>
<rect x="1062" y="2000" width="16" height="10" fill="#153a77"/>
<rect x="1140" y="2000" width="15" height="10" fill="#3e3788"/>
<rect x="1155" y="2000" width="16" height="10" fill="#044268"/>
<rect x="1171" y="2000" width="15" height="10" fill="#113b75"/>
<rect x="1186" y="2000" width="16" height="10" fill="#4e358f"/>
<rect x="1202" y="2000" width="15" height="10" fill="#363784"/>
<rect x="1217" y="2000" width="16" height="10" fill="#3e3788"/>
<rect x="1233" y="2000" width="16" height="10" fill="#4e358f"/>
<rect x="1249" y="2000" width="15" height="10" fill="#5e3496"/>
<rect x="1264" y="2000" width="16" height="10" fill="#663399"/>
<rect x="1280" y="2000" width="15" height="10" fill="#4e358f"/>
<rect x="1295" y="2000" width="16" height="10" fill="#623397"/>
<rect x="1311" y="2000" width="15" height="10" fill="#523590"/>
<rect x="1342" y="2000" width="15" height="10" fill="#623397"/>
<rect x="1357" y="2000" width="47" height="10" fill="#46368b"/>
<rect x="1419" y="2000" width="16" height="10" fill="#46368b"/>
<rect x="1435" y="2000" width="31" height="10" fill="#313883"/>
<rect x="1466" y="2000" width="31" height="10" fill="#363784"/>
<rect x="1497" y="2000" width="62" height="10" fill="#313883"/>
<rect x="829" y="2010" width="16" height="9" fill="#084c5f"/>
<rect x="845" y="2010" width="15" height="9" fill="#023f6b"/>
<rect x="860" y="2010" width="16" height="9" fill="#0d5853"/>
<rect x="907" y="2010" width="15" height="9" fill="#094f5c"/>
<rect x="922" y="2010" width="16" height="9" fill="#0a5259"/>
<rect x="938" y="2010" width="15" height="9" fill="#0d5853"/>
<rect x="953" y="2010" width="16" height="9" fill="#064962"/>
<rect x="969" y="2010" width="16" height="9" fill="#0a5259"/>
<rect x="985" y="2010" width="46" height="9" fill="#084c5f"/>
<rect x="1031" y="2010" width="16" height="9" fill="#054565"/>
<rect x="1047" y="2010" width="15" height="9" fill="#084c5f"/>
<rect x="1062" y="2010" width="16" height="9" fill="#064962"/>
<rect x="1093" y="2010" width="16" height="9" fill="#044268"/>
<rect x="1109" y="2010" width="15" height="9" fill="#094f5c"/>
<rect x="1155" y="2010" width="16" height="9" fill="#42368a"/>
<rect x="1171" y="2010" width="15" height="9" fill="#153a77"/>
<rect x="1186" y="2010" width="16" height="9" fill="#4e358f"/>
<rect x="1202" y="2010" width="15" height="9" fill="#313883"/>
<rect x="1217" y="2010" width="16" height="9" fill="#523590"/>
<rect x="1233" y="2010" width="16" height="9" fill="#563492"/>
<rect x="1249" y="2010" width="15" height="9" fill="#623397"/>
<rect x="1264" y="2010" width="31" height="9" fill="#5a3494"/>
<rect x="1295" y="2010" width="16" height="9" fill="#563492"/>
<rect x="1311" y="2010" width="15" height="9" fill="#523590"/>
<rect x="1388" y="2010" width="16" height="9" fill="#4a368d"/>
<rect x="1404" y="2010" width="15" height="9" fill="#313883"/>
<rect x="1419" y="2010" width="31" height="9" fill="#363784"/>
<rect x="1450" y="2010" width="16" height="9" fill="#313883"/>
<rect x="1466" y="2010" width="15" height="9" fill="#3a3786"/>
<rect x="1481" y="2010" width="63" height="9" fill="#313883"/>
<rect x="814" y="2019" width="15" height="10" fill="#064962"/>
<rect x="845" y="2019" width="15" height="10" fill="#094f5c"/>
<rect x="876" y="2019" width="15" height="10" fill="#0d5853"/>
<rect x="891" y="2019" width="16" height="10" fill="#044268"/>
<rect x="922" y="2019" width="16" height="10" fill="#053c70"/>
<rect x="938" y="2019" width="78" height="10" fill="#094f5c"/>
<rect x="1016" y="2019" width="15" height="10" fill="#084c5f"/>
<rect x="1031" y="2019" width="31" height="10" fill="#094f5c"/>
<rect x="1062" y="2019" width="16" height="10" fill="#0a5259"/>
<rect x="1078" y="2019" width="15" height="10" fill="#094f5c"/>
<rect x="1093" y="2019" width="16" height="10" fill="#054565"/>
<rect x="1109" y="2019" width="15" height="10" fill="#064962"/>
<rect x="1140" y="2019" width="15" height="10" fill="#093b71"/>
<rect x="1155" y="2019" width="16" height="10" fill="#29387f"/>
<rect x="1171" y="2019" width="15" height="10" fill="#054565"/>
<rect x="1186" y="2019" width="16" height="10" fill="#0d3b73"/>
<rect x="1217" y="2019" width="16" height="10" fill="#3e3788"/>
<rect x="1233" y="2019" width="16" height="10" fill="#663399"/>
<rect x="1249" y="2019" width="31" height="10" fill="#5e3496"/>
<rect x="1280" y="2019" width="15" height="10" fill="#623397"/>
<rect x="1357" y="2019" width="16" height="10" fill="#4a368d"/>
<rect x="1373" y="2019" width="15" height="10" fill="#46368b"/>
<rect x="1388" y="2019" width="16" height="10" fill="#2d3881"/>
<rect x="1404" y="2019" width="15" height="10" fill="#42368a"/>
<rect x="1419" y="2019" width="16" height="10" fill="#3a3786"/>
<rect x="1435" y="2019" width="15" height="10" fill="#363784"/>
<rect x="1450" y="2019" width="16" height="10" fill="#313883"/>
<rect x="1466" y="2019" width="15" height="10" fill="#363784"/>
<rect x="1481" y="2019" width="78" height="10" fill="#313883"/>
<rect x="922" y="2029" width="16" height="10" fill="#054565"/>
<rect x="938" y="2029" width="15" height="10" fill="#084c5f"/>
<rect x="953" y="2029" width="32" height="10" fill="#064962"/>
<rect x="985" y="2029" width="15" height="10" fill="#054565"/>
<rect x="1000" y="2029" width="16" height="10" fill="#094f5c"/>
<rect x="1016" y="2029" width="15" height="10" fill="#054565"/>
<rect x="1031" y="2029" width="16" height="10" fill="#084c5f"/>
<rect x="1047" y="2029" width="15" height="10" fill="#054565"/>
<rect x="1062" y="2029" width="16" height="10" fill="#044268"/>
<rect x="1078" y="2029" width="15" height="10" fill="#094f5c"/>
<rect x="1093" y="2029" width="16" height="10" fill="#064962"/>
<rect x="1109" y="2029" width="15" height="10" fill="#044268"/>
<rect x="1124" y="2029" width="16" height="10" fill="#054565"/>
<rect x="1140" y="2029" width="15" height="10" fill="#0d5853"/>
<rect x="1155" y="2029" width="16" height="10" fill="#093b71"/>
<rect x="1186" y="2029" width="16" height="10" fill="#093b71"/>
<rect x="1202" y="2029" width="15" height="10" fill="#0d3b73"/>
<rect x="1233" y="2029" width="16" height="10" fill="#563492"/>
<rect x="1249" y="2029" width="15" height="10" fill="#523590"/>
<rect x="1264" y="2029" width="16" height="10" fill="#5e3496"/>
<rect x="1280" y="2029" width="15" height="10" fill="#5a3494"/>
<rect x="1373" y="2029" width="15" height="10" fill="#4a368d"/>
<rect x="1388" y="2029" width="16" height="10" fill="#3a3786"/>
<rect x="1404" y="2029" width="15" height="10" fill="#313883"/>
<rect x="1419" y="2029" width="16" height="10" fill="#2d3881"/>
<rect x="1435" y="2029" width="15" height="10" fill="#313883"/>
<rect x="1450" y="2029" width="16" height="10" fill="#3a3786"/>
<rect x="1466" y="2029" width="31" height="10" fill="#313883"/>
<rect x="1497" y="2029" width="16" height="10" fill="#363784"/>
<rect x="1513" y="2029" width="15" height="10" fill="#313883"/>
<rect x="1528" y="2029" width="16" height="10" fill="#363784"/>
<rect x="1544" y="2029" width="15" height="10" fill="#313883"/>
<rect x="1559" y="2029" width="16" height="10" fill="#2d3881"/>
<rect x="922" y="2039" width="16" height="9" fill="#0c5556"/>
<rect x="938" y="2039" width="15" height="9" fill="#064962"/>
<rect x="953" y="2039" width="16" height="9" fill="#084c5f"/>
<rect x="969" y="2039" width="31" height="9" fill="#064962"/>
<rect x="1000" y="2039" width="16" height="9" fill="#094f5c"/>
<rect x="1016" y="2039" width="15" height="9" fill="#064962"/>
<rect x="1031" y="2039" width="16" height="9" fill="#084c5f"/>
<rect x="1047" y="2039" width="46" height="9" fill="#064962"/>
<rect x="1093" y="2039" width="16" height="9" fill="#094f5c"/>
<rect x="1109" y="2039" width="31" height="9" fill="#084c5f"/>
<rect x="1140" y="2039" width="15" height="9" fill="#193a78"/>
<rect x="1155" y="2039" width="16" height="9" fill="#0d3b73"/>
<rect x="1171" y="2039" width="15" height="9" fill="#29387f"/>
<rect x="1186" y="2039" width="16" height="9" fill="#1d397a"/>
<rect x="1233" y="2039" width="31" height="9" fill="#663399"/>
<rect x="1264" y="2039" width="16" height="9" fill="#563492"/>
<rect x="1357" y="2039" width="16" height="9" fill="#523590"/>
<rect x="1373" y="2039" width="15" height="9" fill="#313883"/>
<rect x="1388" y="2039" width="16" height="9" fill="#29387f"/>
<rect x="1404" y="2039" width="15" height="9" fill="#3a3786"/>
<rect x="1419" y="2039" width="31" height="9" fill="#2d3881"/>
<rect x="1450" y="2039" width="16" height="9" fill="#29387f"/>
<rect x="1466" y="2039" width="15" height="9" fill="#363784"/>
<rect x="1481" y="2039" width="32" height="9" fill="#313883"/>
<rect x="1513" y="2039" width="15" height="9" fill="#2d3881"/>
<rect x="1528" y="2039" width="16" height="9" fill="#363784"/>
<rect x="1544" y="2039" width="46" height="9" fill="#313883"/>
<rect x="907" y="2048" width="15" height="10" fill="#094f5c"/>
<rect x="938" y="2048" width="15" height="10" fill="#054565"/>
<rect x="953" y="2048" width="16" height="10" fill="#064962"/>
<rect x="969" y="2048" width="16" height="10" fill="#0c5556"/>
<rect x="985" y="2048" width="15" height="10" fill="#0a5259"/>
<rect x="1000" y="2048" width="16" height="10" fill="#084c5f"/>
<rect x="1016" y="2048" width="46" height="10" fill="#064962"/>
<rect x="1062" y="2048" width="16" height="10" fill="#084c5f"/>
<rect x="1078" y="2048" width="15" height="10" fill="#0a5259"/>
<rect x="1093" y="2048" width="16" height="10" fill="#094f5c"/>
<rect x="1109" y="2048" width="15" height="10" fill="#0a5259"/>
<rect x="1124" y="2048" width="31" height="10" fill="#054565"/>
<rect x="1155" y="2048" width="16" height="10" fill="#0d5853"/>
<rect x="1171" y="2048" width="15" height="10" fill="#113b75"/>
<rect x="1233" y="2048" width="16" height="10" fill="#1d397a"/>
<rect x="1249" y="2048" width="15" height="10" fill="#42368a"/>
<rect x="1264" y="2048" width="16" height="10" fill="#3e3788"/>
<rect x="1342" y="2048" width="15" height="10" fill="#4e358f"/>
<rect x="1373" y="2048" width="15" height="10" fill="#42368a"/>
<rect x="1388" y="2048" width="16" height="10" fill="#363784"/>
<rect x="1404" y="2048" width="62" height="10" fill="#313883"/>
<rect x="1466" y="2048" width="31" height="10" fill="#363784"/>
<rect x="1497" y="2048" width="16" height="10" fill="#313883"/>
<rect x="1513" y="2048" width="15" height="10" fill="#2d3881"/>
<rect x="1528" y="2048" width="62" height="10" fill="#313883"/>
<rect x="907" y="2058" width="15" height="10" fill="#094f5c"/>
<rect x="922" y="2058" width="16" height="10" fill="#084c5f"/>
<rect x="953" y="2058" width="47" height="10" fill="#094f5c"/>
<rect x="1000" y="2058" width="16" height="10" fill="#084c5f"/>
<rect x="1016" y="2058" width="15" height="10" fill="#064962"/>
<rect x="1031" y="2058" width="16" height="10" fill="#094f5c"/>
<rect x="1047" y="2058" width="15" height="10" fill="#054565"/>
<rect x="1062" y="2058" width="16" height="10" fill="#0a5259"/>
<rect x="1078" y="2058" width="15" height="10" fill="#0c5556"/>
<rect x="1093" y="2058" width="16" height="10" fill="#084c5f"/>
<rect x="1109" y="2058" width="15" height="10" fill="#064962"/>
<rect x="1124" y="2058" width="16" height="10" fill="#013c6e"/>
<rect x="1140" y="2058" width="15" height="10" fill="#094f5c"/>
<rect x="1155" y="2058" width="16" height="10" fill="#42368a"/>
<rect x="1171" y="2058" width="15" height="10" fill="#023f6b"/>
<rect x="1217" y="2058" width="16" height="10" fill="#523590"/>
<rect x="1233" y="2058" width="16" height="10" fill="#563492"/>
<rect x="1249" y="2058" width="15" height="10" fill="#5a3494"/>
<rect x="1373" y="2058" width="15" height="10" fill="#3e3788"/>
<rect x="1388" y="2058" width="16" height="10" fill="#4e358f"/>
<rect x="1404" y="2058" width="15" height="10" fill="#2d3881"/>
<rect x="1419" y="2058" width="16" height="10" fill="#363784"/>
<rect x="1435" y="2058" width="15" height="10" fill="#313883"/>
<rect x="1450" y="2058" width="16" height="10" fill="#3a3786"/>
<rect x="1466" y="2058" width="15" height="10" fill="#363784"/>
<rect x="1481" y="2058" width="63" height="10" fill="#313883"/>
<rect x="1544" y="2058" width="15" height="10" fill="#2d3881"/>
<rect x="1559" y="2058" width="47" height="10" fill="#313883"/>
<rect x="891" y="2068" width="16" height="9" fill="#084c5f"/>
<rect x="907" y="2068" width="15" height="9" fill="#064962"/>
<rect x="922" y="2068" width="16" height="9" fill="#084c5f"/>
<rect x="938" y="2068" width="15" height="9" fill="#0a5259"/>
<rect x="953" y="2068" width="16" height="9" fill="#084c5f"/>
<rect x="969" y="2068" width="31" height="9" fill="#064962"/>
<rect x="1000" y="2068" width="31" height="9" fill="#094f5c"/>
<rect x="1031" y="2068" width="16" height="9" fill="#084c5f"/>
<rect x="1047" y="2068" width="31" height="9" fill="#094f5c"/>
<rect x="1078" y="2068" width="15" height="9" fill="#0c5556"/>
<rect x="1093" y="2068" width="31" height="9" fill="#0d5853"/>
<rect x="1124" y="2068" width="16" height="9" fill="#044268"/>
<rect x="1140" y="2068" width="15" height="9" fill="#0a5259"/>
<rect x="1155" y="2068" width="16" height="9" fill="#053c70"/>
<rect x="1171" y="2068" width="15" height="9" fill="#193a78"/>
<rect x="1388" y="2068" width="16" height="9" fill="#46368b"/>
<rect x="1404" y="2068" width="15" height="9" fill="#313883"/>
<rect x="1419" y="2068" width="16" height="9" fill="#3e3788"/>
<rect x="1435" y="2068" width="15" height="9" fill="#3a3786"/>
<rect x="1450" y="2068" width="16" height="9" fill="#313883"/>
<rect x="1466" y="2068" width="15" height="9" fill="#363784"/>
<rect x="1481" y="2068" width="78" height="9" fill="#313883"/>
<rect x="1559" y="2068" width="16" height="9" fill="#2d3881"/>
<rect x="1575" y="2068" width="15" height="9" fill="#313883"/>
<rect x="891" y="2077" width="16" height="10" fill="#064962"/>
<rect x="922" y="2077" width="16" height="10" fill="#094f5c"/>
<rect x="938" y="2077" width="15" height="10" fill="#084c5f"/>
<rect x="953" y="2077" width="16" height="10" fill="#044268"/>
<rect x="969" y="2077" width="47" height="10" fill="#084c5f"/>
<rect x="1016" y="2077" width="15" height="10" fill="#094f5c"/>
<rect x="1031" y="2077" width="16" height="10" fill="#054565"/>
<rect x="1047" y="2077" width="15" height="10" fill="#084c5f"/>
<rect x="1062" y="2077" width="16" height="10" fill="#054565"/>
<rect x="1078" y="2077" width="15" height="10" fill="#094f5c"/>
<rect x="1093" y="2077" width="16" height="10" fill="#084c5f"/>
<rect x="1109" y="2077" width="31" height="10" fill="#064962"/>
<rect x="1140" y="2077" width="15" height="10" fill="#053c70"/>
<rect x="1404" y="2077" width="15" height="10" fill="#313883"/>
<rect x="1419" y="2077" width="31" height="10" fill="#363784"/>
<rect x="1450" y="2077" width="16" height="10" fill="#2d3881"/>
<rect x="1466" y="2077" width="62" height="10" fill="#313883"/>
<rect x="1528" y="2077" width="16" height="10" fill="#2d3881"/>
<rect x="1544" y="2077" width="15" height="10" fill="#313883"/>
<rect x="938" y="2087" width="15" height="10" fill="#094f5c"/>
<rect x="953" y="2087" width="16" height="10" fill="#064962"/>
<rect x="969" y="2087" width="16" height="10" fill="#023f6b"/>
<rect x="985" y="2087" width="15" height="10" fill="#084c5f"/>
<rect x="1000" y="2087" width="31" height="10" fill="#064962"/>
<rect x="1047" y="2087" width="15" height="10" fill="#064962"/>
<rect x="1062" y="2087" width="31" height="10" fill="#054565"/>
<rect x="1093" y="2087" width="16" height="10" fill="#094f5c"/>
<rect x="1109" y="2087" width="15" height="10" fill="#013c6e"/>
<rect x="1124" y="2087" width="16" height="10" fill="#054565"/>
<rect x="1140" y="2087" width="15" height="10" fill="#013c6e"/>
<rect x="1171" y="2087" width="15" height="10" fill="#064962"/>
<rect x="1186" y="2087" width="16" height="10" fill="#023f6b"/>
<rect x="1419" y="2087" width="16" height="10" fill="#363784"/>
<rect x="1435" y="2087" width="93" height="10" fill="#313883"/>
<rect x="938" y="2097" width="15" height="9" fill="#064962"/>
<rect x="953" y="2097" width="16" height="9" fill="#044268"/>
<rect x="969" y="2097" width="16" height="9" fill="#064962"/>
<rect x="985" y="2097" width="15" height="9" fill="#054565"/>
<rect x="1000" y="2097" width="16" height="9" fill="#064962"/>
<rect x="1016" y="2097" width="15" height="9" fill="#094f5c"/>
<rect x="1031" y="2097" width="16" height="9" fill="#064962"/>
<rect x="1062" y="2097" width="16" height="9" fill="#064962"/>
<rect x="1078" y="2097" width="15" height="9" fill="#054565"/>
<rect x="1093" y="2097" width="31" height="9" fill="#0a5259"/>
<rect x="1124" y="2097" width="47" height="9" fill="#064962"/>
<rect x="1171" y="2097" width="15" height="9" fill="#166f3d"/>
<rect x="1419" y="2097" width="31" height="9" fill="#313883"/>
<rect x="1450" y="2097" width="16" height="9" fill="#2d3881"/>
<rect x="1466" y="2097" width="62" height="9" fill="#313883"/>
<rect x="938" y="2106" width="31" height="10" fill="#084c5f"/>
<rect x="969" y="2106" width="16" height="10" fill="#094f5c"/>
<rect x="985" y="2106" width="15" height="10" fill="#054565"/>
<rect x="1000" y="2106" width="16" height="10" fill="#064962"/>
<rect x="1016" y="2106" width="31" height="10" fill="#084c5f"/>
<rect x="1093" y="2106" width="16" height="10" fill="#084c5f"/>
<rect x="1109" y="2106" width="15" height="10" fill="#094f5c"/>
<rect x="1140" y="2106" width="15" height="10" fill="#0c5556"/>
<rect x="1171" y="2106" width="15" height="10" fill="#084c5f"/>
<rect x="1186" y="2106" width="16" height="10" fill="#053c70"/>
<rect x="1450" y="2106" width="31" height="10" fill="#313883"/>
<rect x="953" y="2116" width="16" height="10" fill="#094f5c"/>
<rect x="969" y="2116" width="16" height="10" fill="#064962"/>
<rect x="985" y="2116" width="15" height="10" fill="#084c5f"/>
<rect x="1000" y="2116" width="16" height="10" fill="#023f6b"/>
<rect x="1016" y="2116" width="15" height="10" fill="#064962"/>
<rect x="1031" y="2116" width="16" height="10" fill="#0a5259"/>
<rect x="1093" y="2116" width="16" height="10" fill="#094f5c"/>
<rect x="1109" y="2116" width="15" height="10" fill="#0a5259"/>
<rect x="1124" y="2116" width="16" height="10" fill="#094f5c"/>
<rect x="1140" y="2116" width="15" height="10" fill="#053c70"/>
<rect x="1171" y="2116" width="15" height="10" fill="#0a5259"/>
<rect x="1435" y="2116" width="15" height="10" fill="#363784"/>
<rect x="938" y="2126" width="15" height="9" fill="#064962"/>
<rect x="953" y="2126" width="16" height="9" fill="#0a5259"/>
<rect x="969" y="2126" width="16" height="9" fill="#084c5f"/>
<rect x="985" y="2126" width="15" height="9" fill="#094f5c"/>
<rect x="1000" y="2126" width="16" height="9" fill="#064962"/>
<rect x="1016" y="2126" width="15" height="9" fill="#0c5556"/>
<rect x="1031" y="2126" width="16" height="9" fill="#054565"/>
<rect x="1078" y="2126" width="15" height="9" fill="#023f6b"/>
<rect x="1109" y="2126" width="15" height="9" fill="#084c5f"/>
<rect x="1155" y="2126" width="16" height="9" fill="#0c5556"/>
<rect x="1466" y="2126" width="15" height="9" fill="#313883"/>
<rect x="953" y="2135" width="16" height="10" fill="#084c5f"/>
<rect x="969" y="2135" width="16" height="10" fill="#0a5259"/>
<rect x="985" y="2135" width="15" height="10" fill="#094f5c"/>
<rect x="1000" y="2135" width="16" height="10" fill="#084c5f"/>
<rect x="1016" y="2135" width="15" height="10" fill="#064962"/>
<rect x="1031" y="2135" width="16" height="10" fill="#094f5c"/>
<rect x="1047" y="2135" width="15" height="10" fill="#064962"/>
<rect x="1093" y="2135" width="31" height="10" fill="#084c5f"/>
<rect x="1124" y="2135" width="31" height="10" fill="#064962"/>
<rect x="1155" y="2135" width="16" height="10" fill="#113b75"/>
<rect x="985" y="2145" width="15" height="10" fill="#094f5c"/>
<rect x="1016" y="2145" width="15" height="10" fill="#084c5f"/>
<rect x="1031" y="2145" width="16" height="10" fill="#0a5259"/>
<rect x="1109" y="2145" width="15" height="10" fill="#054565"/>
<rect x="1124" y="2145" width="16" height="10" fill="#064962"/>
<rect x="1140" y="2145" width="15" height="10" fill="#054565"/>
<rect x="1124" y="2155" width="16" height="10" fill="#0a5259"/>
<rect x="1124" y="2165" width="16" height="9" fill="#064962"/>
</g>
<path d="M526.4 1307.8 L541.9 1317.5 L541.9 1307.8M573.0 1307.8 L573.0 1317.5 L573.0 1327.2 L588.5 1336.9 L604.0 1346.6 L619.6 1336.9 L635.1 1327.2 L650.6 1336.9 L666.1 1336.9 L681.7 1346.6 L681.7 1356.2 L697.2 1365.9 L697.2 1375.6 L712.7 1375.6 L728.3 1385.3 L728.3 1395.0 L743.8 1385.3 L759.3 1375.6 L774.9 1375.6 L774.9 1365.9 L790.4 1356.2 L774.9 1346.6 L790.4 1336.9 L805.9 1336.9 L821.4 1346.6 L837.0 1356.2 L837.0 1365.9 L837.0 1375.6 L852.5 1385.3 L852.5 1395.0 L837.0 1404.6 L837.0 1414.3 L852.5 1404.6 L868.0 1414.3 L868.0 1424.0 L868.0 1433.7 L883.6 1443.4 L899.1 1433.7 L914.6 1424.0 L930.2 1414.3 L945.7 1424.0 L930.2 1433.7 L945.7 1443.4 L945.7 1453.0 L945.7 1462.7 L945.7 1472.4 L930.2 1482.1 L930.2 1491.8 L945.7 1491.8 L961.2 1501.4 L945.7 1511.1 L961.2 1511.1 L976.7 1520.8 L961.2 1530.5 L976.7 1540.2 L992.3 1549.8 L976.7 1559.5 L976.7 1569.2 L992.3 1578.9 L992.3 1588.6 L992.3 1598.2 L1007.8 1598.2 L1023.3 1607.9 L1023.3 1598.2 L1023.3 1588.6 L1038.9 1578.9 L1023.3 1569.2 L1023.3 1559.5 L1038.9 1549.8 L1023.3 1540.2 L1038.9 1530.5 L1054.4 1540.2 L1069.9 1530.5 L1085.5 1520.8 L1085.5 1511.1 L1101.0 1501.4 L1116.5 1511.1 L1132.0 1511.1 L1147.6 1511.1 L1163.1 1511.1 L1178.6 1501.4 L1194.2 1501.4 L1209.7 1511.1 L1225.2 1520.8 L1225.2 1530.5 L1240.8 1520.8 L1256.3 1520.8 L1271.8 1530.5 L1256.3 1540.2 L1271.8 1540.2 L1287.3 1549.8 L1302.9 1540.2 L1318.4 1549.8 L1333.9 1559.5 L1349.5 1569.2 L1365.0 1578.9 L1349.5 1588.6 L1333.9 1598.2 L1349.5 1607.9 L1349.5 1617.6 L1349.5 1627.3 L1349.5 1637.0 L1365.0 1637.0 L1380.5 1646.6 L1380.5 1656.3 L1396.1 1666.0 L1411.6 1675.7 L1427.1 1685.4 L1427.1 1695.0 L1411.6 1704.7 L1411.6 1714.4 L1411.6 1724.1 L1411.6 1733.8 L1396.1 1743.4 L1396.1 1753.1 L1396.1 1762.8 L1396.1 1772.5 L1411.6 1772.5 L1427.1 1762.8 L1442.6 1772.5 L1458.2 1762.8 L1458.2 1753.1 L1458.2 1743.4 L1473.7 1733.8 L1458.2 1724.1 L1473.7 1714.4 L1458.2 1704.7 L1458.2 1695.0 L1473.7 1685.4 L1489.2 1685.4 L1504.8 1695.0 L1504.8 1704.7 L1520.3 1714.4 L1535.8 1704.7 L1551.4 1714.4 L1566.9 1714.4 L1582.4 1714.4 L1597.9 1724.1 L1597.9 1733.8 L1582.4 1743.4 L1597.9 1753.1 L1613.5 1762.8 L1613.5 1753.1 L1613.5 1743.4 L1629.0 1733.8 L1644.5 1743.4 L1660.1 1753.1 L1660.1 1762.8 L1660.1 1772.5 L1660.1 1782.2 L1644.5 1772.5 L1660.1 1762.8 L1675.6 1753.1 L1691.1 1743.4 L1706.7 1743.4 L1722.2 1743.4 L1737.7 1743.4 L1753.2 1753.1 L1768.8 1762.8 L1784.3 1772.5M417.7 1956.4 L433.2 1956.4 L448.7 1946.7 L464.3 1937.0 L479.8 1927.4 L495.3 1937.0 L510.8 1927.4 L526.4 1927.4 L510.8 1937.0 L510.8 1946.7 L526.4 1956.4 L541.9 1966.1 L557.4 1966.1 L573.0 1966.1 L588.5 1956.4 L604.0 1946.7 L604.0 1937.0 L619.6 1927.4 L604.0 1917.7 L604.0 1908.0 L619.6 1908.0 L635.1 1898.3 L650.6 1908.0 L666.1 1898.3 L666.1 1888.6 L681.7 1879.0 L697.2 1888.6 L712.7 1888.6 L728.3 1898.3 L712.7 1908.0 L712.7 1917.7 L728.3 1927.4 L743.8 1927.4 L759.3 1917.7 L759.3 1927.4 L759.3 1937.0 L774.9 1946.7 L790.4 1937.0 L790.4 1946.7 L805.9 1956.4 L821.4 1956.4 L805.9 1966.1 L790.4 1975.8 L805.9 1985.4 L790.4 1995.1 L790.4 2004.8 L805.9 2014.5 L821.4 2014.5 L805.9 2024.2 L821.4 2033.8 L837.0 2024.2 L852.5 2033.8 L868.0 2024.2 L883.6 2033.8 L899.1 2033.8 L914.6 2024.2 L914.6 2033.8 L914.6 2043.5 L899.1 2053.2 L899.1 2062.9 L883.6 2072.6 L883.6 2082.2 L899.1 2091.9 L914.6 2082.2 L930.2 2091.9 L930.2 2101.6 L930.2 2111.3 L945.7 2121.0 L930.2 2130.6 L945.7 2140.3 L961.2 2150.0 L976.7 2150.0 L992.3 2159.7 L1007.8 2150.0 L1023.3 2159.7 L1038.9 2159.7 L1054.4 2150.0 L1069.9 2140.3 L1054.4 2130.6 L1054.4 2121.0 L1054.4 2111.3 L1054.4 2101.6 L1069.9 2111.3 L1085.5 2111.3 L1085.5 2121.0 L1069.9 2130.6 L1085.5 2140.3 L1101.0 2150.0 L1116.5 2159.7M1147.6 2159.7 L1163.1 2150.0 L1178.6 2140.3 L1178.6 2130.6 L1194.2 2121.0 L1209.7 2111.3 L1194.2 2101.6 L1209.7 2091.9 L1194.2 2082.2 L1194.2 2072.6 L1194.2 2062.9 L1194.2 2053.2 L1209.7 2043.5 L1225.2 2033.8 L1225.2 2043.5 L1225.2 2053.2 L1209.7 2062.9 L1225.2 2072.6 L1240.8 2072.6 L1256.3 2072.6 L1271.8 2062.9 L1287.3 2053.2 L1287.3 2043.5 L1302.9 2033.8 L1302.9 2024.2 L1318.4 2024.2 L1333.9 2014.5 L1333.9 2004.8 L1349.5 2014.5 L1349.5 2024.2 L1365.0 2033.8 L1349.5 2043.5 L1333.9 2053.2 L1349.5 2062.9 L1365.0 2053.2 L1365.0 2062.9 L1380.5 2072.6 L1396.1 2082.2 L1411.6 2091.9 L1411.6 2101.6 L1427.1 2111.3 L1442.6 2111.3 L1427.1 2121.0 L1442.6 2130.6 L1458.2 2121.0 L1489.2 2111.3 L1504.8 2111.3 L1520.3 2111.3 L1535.8 2101.6 L1535.8 2091.9 L1551.4 2091.9 L1566.9 2082.2 L1582.4 2082.2 L1597.9 2072.6 L1613.5 2062.9 L1597.9 2053.2 L1597.9 2043.5 L1582.4 2033.8 L1566.9 2024.2 L1551.4 2014.5 L1566.9 2004.8 L1566.9 1995.1 L1551.4 1985.4 L1535.8 1975.8 L1551.4 1966.1 L1566.9 1975.8 L1582.4 1966.1 L1597.9 1966.1 L1613.5 1966.1 L1629.0 1956.4 L1629.0 1946.7 L1629.0 1937.0 L1629.0 1927.4 L1644.5 1937.0 L1660.1 1927.4 L1644.5 1917.7 L1660.1 1908.0 L1660.1 1898.3 L1675.6 1888.6 L1675.6 1879.0 L1691.1 1879.0 L1706.7 1869.3 L1691.1 1859.6 L1675.6 1849.9 L1691.1 1840.2 L1706.7 1830.6 L1706.7 1820.9 L1706.7 1811.2 L1722.2 1820.9 L1737.7 1820.9 L1753.2 1830.6 L1768.8 1820.9 L1784.3 1820.9M526.4 1307.8 L510.8 1317.5 L495.3 1327.2 L479.8 1327.2 L464.3 1336.9 L448.7 1346.6 L433.2 1356.2 L448.7 1365.9 L448.7 1375.6 L448.7 1385.3 L433.2 1395.0 L433.2 1404.6 L433.2 1414.3 L448.7 1424.0 L464.3 1433.7 L479.8 1443.4 L464.3 1453.0 L479.8 1462.7 L495.3 1462.7 L510.8 1472.4 L495.3 1482.1 L479.8 1491.8 L479.8 1501.4 L464.3 1511.1 L448.7 1520.8 L464.3 1530.5 L448.7 1540.2 L448.7 1549.8 L433.2 1559.5 L433.2 1569.2 L433.2 1578.9 L448.7 1588.6 L433.2 1598.2 L433.2 1607.9 L448.7 1617.6 L464.3 1617.6 L479.8 1627.3 L495.3 1617.6 L510.8 1607.9 L526.4 1617.6 L510.8 1617.6 L495.3 1627.3 L479.8 1637.0 L464.3 1627.3 L448.7 1637.0 L464.3 1646.6 L464.3 1656.3 L479.8 1666.0 L464.3 1675.7 L464.3 1685.4 L464.3 1695.0 L448.7 1695.0 L433.2 1704.7 L448.7 1714.4 L433.2 1724.1 L417.7 1724.1M417.7 1849.9 L417.7 1859.6 L417.7 1869.3 L433.2 1879.0 L448.7 1888.6 L464.3 1898.3 L448.7 1898.3 L433.2 1898.3 L417.7 1908.0 L417.7 1917.7M541.9 1317.5 L541.9 1327.2M479.8 1443.4 L495.3 1443.4M790.4 1356.2 L805.9 1356.2M479.8 1927.4 L479.8 1917.7 L495.3 1917.7M759.3 1917.7 L759.3 1908.0M1349.5 2014.5 L1365.0 2014.5 L1380.5 2014.5M1551.4 1966.1 L1551.4 1956.4 L1551.4 1946.7 L1535.8 1946.7M1287.3 1549.8 L1287.3 1565.3 L1271.8 1575.0 L1256.3 1569.2 L1271.8 1569.2 L1287.3 1561.5M1271.8 1575.0 L1271.8 1588.6M635.1 1898.3 L635.1 1859.6 L619.6 1849.9 L604.0 1849.9 L619.6 1859.6 L604.0 1869.3 L635.1 1888.6M541.9 1646.6 L541.9 1656.3M464.3 1482.1 L448.7 1491.8 L464.3 1501.4 L479.8 1491.8ZM1116.5 1482.1 L1101.0 1491.8 L1116.5 1501.4 L1132.0 1491.8ZM1473.7 2121.0 L1458.2 2130.6 L1473.7 2140.3 L1489.2 2130.6ZM510.8 1637.0 L526.4 1637.0 L541.9 1627.3 L557.4 1637.0 L541.9 1646.6 L526.4 1637.0ZM557.4 1666.0 L588.5 1666.0 L573.0 1675.7 L588.5 1685.4 L588.5 1704.7 L573.0 1695.0 L557.4 1704.7ZM619.6 1685.4 L635.1 1675.7 L650.6 1685.4 L619.6 1704.7ZM1069.9 1995.1 L1101.0 1995.1 L1116.5 1985.4 L1116.5 1975.8 L1132.0 1985.4 L1132.0 2004.8 L1147.6 2014.5 L1132.0 2024.2 L1132.0 2014.5 L1116.5 2004.8 L1101.0 2004.8 L1085.5 2014.5 L1085.5 2004.8ZM1582.4 1782.2 L1597.9 1791.8 L1613.5 1791.8 L1629.0 1801.5 L1629.0 1811.2 L1613.5 1801.5 L1582.4 1801.5ZM1613.5 1898.3 L1629.0 1888.6 L1644.5 1888.6 L1629.0 1898.3 L1629.0 1908.0ZM1489.2 1801.5 L1473.7 1811.2 L1473.7 1820.9 L1473.7 1830.6 L1489.2 1840.2 L1473.7 1849.9 L1458.2 1849.9 L1458.2 1859.6 L1442.6 1869.3 L1458.2 1869.3 L1473.7 1859.6 L1489.2 1869.3 L1473.7 1879.0 L1489.2 1888.6 L1473.7 1898.3 L1489.2 1908.0 L1504.8 1908.0 L1504.8 1898.3 L1520.3 1888.6 L1520.3 1879.0 L1520.3 1869.3 L1504.8 1859.6 L1504.8 1849.9 L1504.8 1840.2 L1520.3 1830.6 L1504.8 1820.9 L1520.3 1811.2 L1504.8 1801.5Z" fill="none" stroke="#000" stroke-width="5.4" stroke-linejoin="round" stroke-linecap="round"/>
<path d="M464.3 1722.1 L481.3 1723.1 L464.3 1733.8ZM464.3 1733.8 L464.3 1745.4 L447.2 1744.4ZM680.1 1763.8 L699.5 1752.2 L699.5 1764.7ZM618.0 1799.6 L636.6 1800.6 L618.8 1812.2ZM1520.3 1791.8 L1535.8 1791.8 L1535.8 1811.2 L1520.3 1811.2 L1529.6 1801.5ZM555.9 1885.7 L576.1 1898.3 L555.9 1899.3ZM1160.0 2079.3 L1183.3 2091.0 L1160.0 2093.9Z" fill="#000" stroke="#000" stroke-width="3" stroke-linejoin="round"/>
<path d="M680.7 1392.4h17.5v5.2h-17.5zM865.2 1451.5h5.6v12.7h-5.6zM663.3 1741.9h5.6v12.7h-5.6zM632.3 1771.0h5.6v12.7h-5.6zM694.4 1790.3h5.6v12.7h-5.6zM603.0 1828.0h17.5v5.2h-17.5zM523.6 1829.1h5.6v12.7h-5.6zM477.0 1838.7h5.6v3.0h-5.6zM477.0 1867.8h5.6v12.7h-5.6zM414.9 1771.0h5.6v12.7h-5.6zM1377.7 1838.7h5.6v12.7h-5.6zM1457.2 1789.2h17.5v5.2h-17.5zM1703.9 1761.3h5.6v12.7h-5.6zM1643.5 1866.7h17.5v5.2h-17.5zM509.8 1905.4h33.1v5.2h-33.1zM882.6 2011.9h17.5v5.2h-17.5zM1160.3 2109.8h5.6v12.7h-5.6zM1131.0 2128.0h17.5v5.2h-17.5zM1426.1 1905.4h17.5v5.2h-17.5zM1068.9 1566.6h17.5v5.2h-17.5z" fill="#000"/>
<ellipse cx="1101.0" cy="1549.8" rx="5.5" ry="4.2" fill="#222"/>
<path d="M549.8 1356.2 L557.4 1353.0 L562.8 1356.2 L573.0 1362.8 L585.3 1365.9 L573.0 1369.5 L557.4 1373.8 L555.1 1375.6 L557.4 1382.1 L573.0 1381.3 L588.2 1375.6 L588.5 1374.5 L588.6 1375.6 L598.1 1385.3 L588.5 1390.1 L573.0 1389.6 L557.4 1387.5 L545.5 1395.0 L557.4 1397.4 L573.0 1397.6 L580.8 1404.6 L573.0 1409.0 L557.5 1414.3 L557.4 1414.5 L557.0 1414.3 L541.9 1411.1 L531.9 1404.6 L526.4 1401.9 L521.4 1404.6 L522.5 1414.3 L510.8 1418.4 L495.3 1415.4 L495.1 1414.3 L494.3 1404.6 L485.4 1395.0 L495.3 1385.4 L495.4 1385.3 L495.3 1385.2 L485.4 1375.6 L482.0 1365.9 L495.3 1359.1 L510.8 1357.6 L526.4 1360.9 L541.9 1360.9ZM526.4 1374.9 L525.7 1375.6 L526.4 1375.9 L527.0 1375.6ZM619.0 1375.6 L619.6 1374.6 L621.2 1375.6 L619.6 1378.2ZM607.2 1395.0 L619.6 1386.6 L629.6 1395.0 L635.1 1400.2 L643.3 1404.6 L647.4 1414.3 L644.4 1424.0 L650.6 1429.0 L660.9 1433.7 L650.6 1436.5 L644.0 1433.7 L635.1 1429.2 L619.6 1427.2 L604.0 1425.3 L602.7 1424.0 L588.5 1414.4 L588.4 1414.3 L588.5 1414.2 L604.0 1406.2 L619.6 1410.5 L627.1 1404.6 L619.6 1401.7ZM801.4 1395.0 L805.9 1392.9 L811.2 1395.0 L813.7 1404.6 L805.9 1412.8 L797.6 1404.6ZM723.0 1404.6 L728.3 1402.9 L731.9 1404.6 L743.8 1412.7 L759.3 1408.3 L774.9 1407.3 L787.9 1414.3 L790.4 1415.4 L805.9 1416.0 L821.4 1424.0 L821.4 1424.0 L823.2 1424.0 L837.0 1423.6 L837.5 1424.0 L837.0 1424.8 L833.2 1433.7 L821.4 1439.6 L805.9 1440.3 L790.4 1438.6 L778.7 1443.4 L774.9 1445.3 L767.7 1443.4 L771.1 1433.7 L759.3 1426.4 L752.3 1424.0 L743.8 1416.8 L728.3 1419.4 L724.1 1414.3ZM665.4 1414.3 L666.1 1413.9 L681.7 1412.5 L697.2 1411.6 L699.4 1414.3 L700.4 1424.0 L701.2 1433.7 L711.7 1443.4 L697.2 1444.8 L695.2 1443.4 L681.7 1434.1 L678.3 1433.7 L676.9 1424.0 L666.1 1414.5ZM506.7 1443.4 L510.8 1441.4 L513.5 1443.4 L526.4 1450.6 L531.1 1453.0 L526.4 1455.6 L510.8 1456.3 L506.7 1453.0ZM539.4 1443.4 L541.9 1442.4 L543.3 1443.4 L541.9 1445.3ZM649.0 1453.0 L650.6 1452.7 L651.3 1453.0 L650.6 1454.8ZM797.0 1453.0 L805.9 1447.0 L813.7 1453.0 L805.9 1458.8ZM583.3 1462.7 L588.5 1459.9 L595.7 1462.7 L590.4 1472.4 L588.5 1474.2 L585.9 1472.4ZM601.7 1482.1 L604.0 1481.2 L619.6 1476.2 L628.6 1482.1 L619.6 1486.1 L604.0 1484.7 L600.2 1491.8 L593.6 1501.4 L588.5 1507.2 L573.0 1507.5 L571.2 1501.4 L569.9 1491.8 L573.0 1488.9 L588.5 1486.1ZM524.9 1491.8 L526.4 1490.8 L528.7 1491.8 L526.4 1499.8ZM653.6 1491.8 L666.1 1487.0 L677.6 1491.8 L666.3 1501.4 L675.0 1511.1 L681.7 1517.7 L694.9 1511.1 L697.2 1510.4 L712.7 1507.6 L718.1 1511.1 L728.3 1518.6 L732.4 1520.8 L728.3 1523.2 L720.6 1530.5 L728.3 1538.0 L731.7 1540.2 L728.3 1542.5 L712.7 1540.9 L710.7 1540.2 L697.2 1532.7 L681.7 1533.5 L678.1 1530.5 L666.1 1525.9 L654.0 1520.8 L656.4 1511.1 L650.6 1507.4 L640.2 1511.1 L635.1 1513.1 L624.3 1511.1 L619.6 1509.4 L615.4 1501.4 L619.6 1498.1 L630.6 1501.4 L635.1 1505.8 L638.1 1501.4 L650.6 1493.6ZM725.7 1491.8 L728.3 1490.1 L734.4 1491.8 L728.3 1494.0ZM508.9 1501.4 L510.8 1501.0 L521.3 1501.4 L510.8 1501.9ZM752.0 1501.4 L759.3 1495.6 L765.7 1501.4 L759.3 1508.1ZM866.6 1501.4 L868.0 1500.9 L872.9 1501.4 L883.6 1502.9 L891.6 1501.4 L899.1 1499.9 L902.0 1501.4 L914.6 1508.6 L919.6 1511.1 L917.6 1520.8 L930.2 1530.3 L930.5 1530.5 L945.7 1533.8 L954.5 1540.2 L955.8 1549.8 L945.7 1554.6 L931.5 1559.5 L940.8 1569.2 L945.7 1576.5 L947.6 1578.9 L957.5 1588.6 L945.7 1595.6 L938.9 1598.2 L935.2 1607.9 L945.7 1615.2 L949.5 1617.6 L949.1 1627.3 L945.7 1629.2 L940.4 1627.3 L930.2 1622.1 L924.1 1627.3 L929.1 1637.0 L930.2 1645.1 L930.5 1646.6 L942.3 1656.3 L938.0 1666.0 L942.1 1675.7 L945.7 1678.1 L950.8 1675.7 L961.2 1671.5 L976.7 1674.0 L992.3 1671.9 L997.1 1666.0 L1007.8 1663.2 L1012.7 1666.0 L1023.3 1669.1 L1028.5 1666.0 L1029.2 1656.3 L1038.9 1651.4 L1054.4 1648.6 L1057.8 1646.6 L1059.9 1637.0 L1059.2 1627.3 L1069.9 1623.1 L1080.0 1617.6 L1085.5 1613.8 L1101.0 1617.0 L1101.3 1617.6 L1116.5 1624.3 L1132.0 1627.3 L1129.3 1637.0 L1131.2 1646.6 L1132.0 1647.1 L1132.5 1646.6 L1147.6 1640.3 L1154.7 1637.0 L1163.1 1630.4 L1172.2 1637.0 L1178.6 1644.7 L1186.8 1637.0 L1194.2 1627.5 L1194.3 1627.3 L1194.2 1626.6 L1178.6 1622.6 L1172.6 1617.6 L1178.6 1615.2 L1194.2 1616.6 L1209.7 1616.7 L1217.3 1617.6 L1225.2 1617.9 L1229.1 1617.6 L1225.2 1616.2 L1219.3 1607.9 L1225.2 1601.3 L1232.2 1607.9 L1240.8 1614.7 L1244.2 1617.6 L1252.0 1627.3 L1252.7 1637.0 L1256.3 1642.4 L1258.7 1646.6 L1256.3 1649.1 L1249.8 1656.3 L1256.3 1660.1 L1265.4 1656.3 L1271.8 1653.7 L1287.3 1650.9 L1299.1 1646.6 L1287.3 1639.2 L1282.8 1637.0 L1287.3 1634.4 L1294.9 1627.3 L1287.3 1619.3 L1271.8 1618.2 L1269.6 1617.6 L1260.5 1607.9 L1264.3 1598.2 L1271.8 1591.1 L1278.3 1598.2 L1277.6 1607.9 L1287.3 1616.4 L1302.9 1615.0 L1318.4 1613.5 L1326.3 1617.6 L1330.8 1627.3 L1318.4 1636.8 L1317.8 1637.0 L1318.4 1637.1 L1333.9 1643.7 L1338.6 1646.6 L1337.8 1656.3 L1340.0 1666.0 L1343.5 1675.7 L1349.5 1678.1 L1353.1 1685.4 L1356.3 1695.0 L1363.9 1704.7 L1349.5 1706.4 L1338.4 1714.4 L1349.5 1722.1 L1354.6 1724.1 L1357.7 1733.8 L1357.4 1743.4 L1349.5 1745.5 L1345.2 1743.4 L1333.9 1739.5 L1321.0 1743.4 L1325.2 1753.1 L1333.9 1757.2 L1338.0 1762.8 L1349.5 1768.9 L1354.8 1772.5 L1359.8 1782.2 L1365.0 1789.4 L1368.5 1791.8 L1365.0 1794.4 L1360.7 1801.5 L1355.5 1811.2 L1349.5 1814.3 L1345.2 1811.2 L1333.9 1807.7 L1326.7 1811.2 L1333.9 1820.2 L1335.2 1820.9 L1349.5 1827.3 L1353.8 1830.6 L1349.5 1832.6 L1335.9 1840.2 L1342.0 1849.9 L1345.6 1859.6 L1349.5 1864.7 L1353.7 1869.3 L1356.6 1879.0 L1349.5 1887.5 L1347.6 1888.6 L1343.8 1898.3 L1341.3 1908.0 L1333.9 1910.9 L1322.4 1908.0 L1318.4 1907.1 L1314.2 1908.0 L1311.7 1917.7 L1316.5 1927.4 L1318.4 1929.2 L1329.5 1927.4 L1333.9 1926.8 L1334.8 1927.4 L1333.9 1928.8 L1328.6 1937.0 L1333.9 1946.4 L1334.2 1946.7 L1333.9 1946.9 L1328.3 1946.7 L1318.4 1946.4 L1318.1 1946.7 L1316.0 1956.4 L1316.8 1966.1 L1318.4 1972.7 L1318.9 1975.8 L1318.4 1976.2 L1304.1 1985.4 L1302.9 1986.0 L1301.9 1985.4 L1295.5 1975.8 L1287.3 1966.2 L1271.8 1974.8 L1270.2 1975.8 L1258.9 1985.4 L1256.3 1988.7 L1240.8 1993.3 L1225.2 1989.8 L1209.7 1990.6 L1204.2 1985.4 L1202.6 1975.8 L1194.2 1968.4 L1178.6 1974.5 L1163.1 1973.1 L1156.2 1975.8 L1147.6 1981.1 L1142.5 1975.8 L1135.8 1966.1 L1132.0 1965.2 L1116.5 1960.2 L1110.1 1956.4 L1101.0 1949.7 L1085.5 1947.7 L1084.1 1946.7 L1076.5 1937.0 L1078.5 1927.4 L1085.5 1924.0 L1099.3 1917.7 L1085.5 1910.6 L1078.9 1908.0 L1076.7 1898.3 L1069.9 1889.9 L1067.7 1888.6 L1069.9 1887.7 L1077.8 1879.0 L1078.2 1869.3 L1069.9 1861.1 L1066.2 1859.6 L1069.9 1858.3 L1081.3 1849.9 L1085.5 1841.9 L1089.7 1840.2 L1093.5 1830.6 L1101.0 1824.3 L1116.2 1820.9 L1101.0 1818.5 L1085.5 1818.8 L1077.4 1811.2 L1069.9 1801.8 L1067.6 1801.5 L1069.9 1801.3 L1081.1 1791.8 L1075.9 1782.2 L1069.9 1778.1 L1054.4 1777.6 L1044.6 1782.2 L1053.6 1791.8 L1051.5 1801.5 L1038.9 1807.4 L1032.1 1811.2 L1038.9 1813.9 L1053.4 1820.9 L1038.9 1827.1 L1023.3 1828.8 L1009.3 1830.6 L1023.3 1835.7 L1029.2 1840.2 L1023.3 1843.3 L1007.8 1846.2 L997.5 1849.9 L992.3 1856.1 L991.2 1859.6 L992.3 1860.2 L1007.8 1860.3 L1023.3 1863.2 L1038.9 1867.6 L1040.5 1869.3 L1038.9 1871.3 L1023.3 1873.6 L1020.0 1879.0 L1020.8 1888.6 L1007.8 1891.4 L997.6 1898.3 L992.3 1903.7 L980.4 1908.0 L992.3 1911.3 L999.9 1917.7 L1000.8 1927.4 L1007.8 1934.6 L1010.2 1937.0 L1007.8 1939.3 L1002.8 1946.7 L1002.0 1956.4 L992.3 1965.4 L989.8 1966.1 L992.3 1967.4 L999.2 1975.8 L1006.0 1985.4 L992.3 1990.6 L978.6 1985.4 L977.7 1975.8 L976.7 1975.1 L975.7 1975.8 L975.5 1985.4 L971.7 1995.1 L968.8 2004.8 L976.7 2011.5 L987.9 2014.5 L978.6 2024.2 L976.7 2026.8 L974.1 2033.8 L976.7 2039.2 L980.8 2043.5 L976.7 2046.9 L970.8 2043.5 L961.2 2041.5 L951.8 2043.5 L945.7 2044.8 L941.7 2043.5 L945.7 2034.4 L945.8 2033.8 L945.7 2033.0 L940.3 2033.8 L930.2 2034.2 L929.9 2033.8 L927.7 2024.2 L914.6 2019.3 L899.1 2021.3 L892.3 2014.5 L899.1 2005.8 L914.6 2009.7 L922.1 2004.8 L914.6 1997.4 L899.1 2004.2 L885.6 1995.1 L883.6 1994.3 L869.0 1985.4 L868.0 1984.7 L855.6 1975.8 L861.4 1966.1 L852.5 1957.4 L850.5 1956.4 L852.5 1952.5 L854.2 1946.7 L853.9 1937.0 L852.5 1936.2 L849.3 1937.0 L837.0 1940.8 L821.4 1945.0 L817.1 1937.0 L810.1 1927.4 L805.9 1923.7 L790.4 1918.2 L789.8 1917.7 L790.4 1913.1 L791.2 1908.0 L790.4 1907.0 L779.9 1898.3 L774.9 1894.6 L770.4 1888.6 L774.3 1879.0 L774.9 1878.4 L776.8 1869.3 L774.9 1867.5 L769.9 1869.3 L759.3 1874.7 L743.8 1873.0 L729.1 1879.0 L728.3 1879.3 L727.5 1879.0 L722.9 1869.3 L728.3 1866.3 L740.6 1859.6 L736.1 1849.9 L743.8 1846.7 L753.4 1849.9 L759.3 1854.1 L763.5 1849.9 L774.9 1843.3 L778.6 1840.2 L775.8 1830.6 L774.9 1828.6 L767.7 1830.6 L759.3 1835.5 L754.8 1830.6 L759.3 1824.8 L762.0 1820.9 L759.3 1812.7 L758.5 1811.2 L743.8 1809.0 L740.4 1811.2 L735.9 1820.9 L737.1 1830.6 L735.5 1840.2 L728.3 1846.3 L720.3 1840.2 L712.7 1832.7 L709.5 1830.6 L697.2 1824.7 L681.7 1823.2 L676.1 1820.9 L671.8 1811.2 L681.7 1804.1 L694.0 1811.2 L697.2 1816.4 L712.7 1813.6 L713.9 1811.2 L717.1 1801.5 L712.7 1799.0 L705.3 1791.8 L712.7 1789.5 L720.3 1791.8 L728.3 1797.0 L732.1 1791.8 L730.0 1782.2 L731.6 1772.5 L733.9 1762.8 L728.3 1760.6 L712.7 1759.2 L704.1 1762.8 L697.2 1768.8 L693.8 1762.8 L687.4 1753.1 L683.5 1743.4 L681.7 1742.9 L670.7 1733.8 L666.1 1730.0 L658.1 1724.1 L658.8 1714.4 L666.1 1709.6 L681.7 1707.0 L688.0 1704.7 L681.7 1699.7 L668.8 1695.0 L670.8 1685.4 L666.1 1679.1 L652.1 1675.7 L661.8 1666.0 L666.1 1664.3 L681.7 1661.8 L685.3 1656.3 L684.9 1646.6 L692.7 1637.0 L697.2 1634.7 L699.4 1627.3 L703.3 1617.6 L712.7 1612.1 L721.7 1607.9 L728.3 1603.8 L743.8 1607.9 L743.8 1607.9 L759.3 1609.5 L765.6 1607.9 L774.9 1604.0 L782.2 1607.9 L790.4 1610.3 L797.4 1607.9 L805.9 1601.3 L808.7 1598.2 L820.6 1588.6 L808.5 1578.9 L811.5 1569.2 L815.0 1559.5 L815.7 1549.8 L821.4 1543.6 L834.9 1540.2 L837.0 1536.8 L837.9 1530.5 L841.7 1520.8 L846.4 1511.1 L852.5 1507.5 L865.0 1511.1 L868.0 1513.5 L869.6 1511.1 L868.0 1505.5ZM595.0 1511.1 L604.0 1508.1 L617.3 1511.1 L610.7 1520.8 L604.0 1528.9 L598.1 1520.8ZM751.2 1520.8 L759.3 1513.5 L767.4 1520.8 L759.3 1523.9ZM584.5 1530.5 L588.5 1529.6 L595.5 1530.5 L588.5 1535.7ZM550.7 1540.2 L557.4 1534.7 L566.6 1540.2 L573.0 1544.6 L579.6 1549.8 L573.0 1553.4 L557.4 1556.1 L542.9 1549.8ZM628.1 1540.2 L635.1 1535.2 L643.4 1540.2 L635.1 1549.5ZM1140.8 1549.8 L1147.6 1540.2 L1163.1 1542.6 L1175.8 1549.8 L1172.7 1559.5 L1163.1 1562.3 L1154.1 1559.5 L1147.6 1554.4ZM492.6 1559.5 L495.3 1557.1 L497.5 1559.5 L495.3 1562.1ZM1236.0 1559.5 L1240.8 1554.4 L1255.2 1559.5 L1252.8 1569.2 L1246.8 1578.9 L1240.8 1584.2 L1233.7 1578.9 L1230.2 1569.2ZM914.6 1569.1 L914.3 1569.2 L914.6 1570.1 L914.8 1569.2ZM1188.0 1569.2 L1194.2 1563.9 L1208.8 1569.2 L1209.7 1569.7 L1219.1 1578.9 L1209.7 1582.6 L1194.2 1584.7 L1181.6 1578.9ZM602.8 1588.6 L604.0 1584.6 L605.4 1588.6 L604.0 1589.3ZM914.6 1582.5 L912.3 1588.6 L914.6 1590.3 L916.4 1588.6ZM1298.8 1598.2 L1302.9 1592.8 L1316.3 1598.2 L1302.9 1601.6ZM821.4 1606.9 L818.3 1607.9 L821.4 1610.5 L837.0 1612.7 L841.5 1607.9 L837.0 1604.8ZM1128.8 1607.9 L1132.0 1604.6 L1140.1 1607.9 L1135.4 1617.6 L1132.0 1627.2 L1129.8 1617.6ZM712.7 1636.9 L710.6 1637.0 L712.7 1637.1 L713.1 1637.0ZM1302.9 1651.9 L1300.1 1656.3 L1302.9 1658.6 L1306.1 1656.3ZM601.8 1666.0 L604.0 1663.8 L619.6 1661.8 L622.0 1666.0 L619.6 1667.2 L606.0 1675.7 L604.0 1676.6 L602.6 1675.7ZM1178.6 1665.9 L1178.5 1666.0 L1178.6 1666.2 L1182.1 1666.0ZM1318.4 1664.1 L1315.0 1666.0 L1302.9 1671.5 L1294.6 1675.7 L1287.3 1680.2 L1281.4 1685.4 L1287.3 1687.7 L1302.9 1687.6 L1318.4 1691.5 L1333.9 1685.4 L1332.4 1675.7 L1326.2 1666.0ZM506.2 1685.4 L510.8 1681.9 L521.7 1685.4 L510.8 1690.3ZM976.7 1685.1 L976.7 1685.4 L976.7 1685.4 L992.3 1688.9 L999.6 1685.4 L992.3 1677.0ZM1225.2 1684.9 L1224.2 1685.4 L1225.2 1687.0 L1238.7 1685.4ZM478.2 1695.0 L479.8 1692.5 L482.2 1695.0 L479.8 1696.5ZM492.7 1704.7 L495.3 1703.0 L510.8 1702.8 L513.1 1704.7 L510.8 1705.9 L495.3 1706.0ZM553.7 1714.4 L557.4 1712.1 L564.7 1714.4 L569.2 1724.1 L563.6 1733.8 L569.6 1743.4 L573.0 1745.5 L588.5 1748.3 L595.0 1753.1 L598.5 1762.8 L598.4 1772.5 L604.0 1782.1 L604.2 1782.2 L604.0 1782.2 L588.5 1788.8 L573.0 1783.3 L570.5 1782.2 L564.7 1772.5 L569.9 1762.8 L557.4 1756.1 L541.9 1757.7 L538.0 1753.1 L541.9 1745.8 L545.4 1743.4 L554.6 1733.8 L549.9 1724.1ZM1240.8 1712.2 L1237.6 1714.4 L1240.8 1718.0 L1243.9 1714.4ZM584.5 1724.1 L588.5 1723.3 L589.7 1724.1 L588.5 1725.1ZM681.7 1722.4 L677.3 1724.1 L681.7 1726.0 L684.0 1724.1ZM1038.9 1723.1 L1035.9 1724.1 L1038.9 1728.9 L1054.4 1725.9 L1055.6 1724.1 L1054.4 1722.6ZM1256.3 1722.9 L1252.6 1724.1 L1256.3 1725.2 L1257.7 1724.1ZM1023.3 1730.0 L1020.2 1733.8 L1023.3 1737.7 L1032.9 1743.4 L1038.1 1753.1 L1038.9 1755.0 L1045.6 1762.8 L1054.4 1767.0 L1061.4 1762.8 L1054.4 1753.3 L1053.2 1753.1 L1054.4 1753.0 L1059.4 1743.4 L1054.4 1739.7 L1038.9 1736.6 L1034.5 1733.8ZM1513.7 1743.4 L1520.3 1740.3 L1529.7 1743.4 L1529.6 1753.1 L1520.3 1756.9 L1508.8 1753.1ZM759.3 1752.9 L758.4 1753.1 L759.3 1753.4 L760.0 1753.1ZM508.1 1762.8 L510.8 1757.0 L524.4 1762.8 L510.8 1765.0ZM1550.2 1762.8 L1551.4 1762.1 L1554.4 1762.8 L1551.4 1765.1ZM774.9 1770.4 L769.4 1772.5 L774.9 1777.1 L778.4 1772.5ZM1101.0 1781.5 L1099.4 1782.2 L1101.0 1784.4 L1109.0 1782.2ZM508.1 1791.8 L510.8 1789.9 L515.7 1791.8 L510.8 1795.8ZM487.4 1801.5 L495.3 1798.6 L504.4 1801.5 L499.8 1811.2 L495.3 1814.3 L490.0 1820.9 L479.8 1827.6 L464.3 1821.6 L463.3 1820.9 L451.0 1811.2 L464.3 1804.6 L479.8 1805.1ZM533.1 1811.2 L541.9 1807.0 L553.9 1811.2 L547.4 1820.9 L541.9 1822.0 L540.5 1820.9ZM634.5 1811.2 L635.1 1810.9 L636.6 1811.2 L635.1 1811.7ZM650.6 1820.9 L650.6 1820.9 L650.6 1820.9 L650.6 1820.9ZM1577.2 1820.9 L1582.4 1817.4 L1586.7 1820.9 L1582.4 1824.6 L1580.0 1830.6 L1579.9 1840.2 L1582.4 1842.4 L1587.7 1840.2 L1592.1 1830.6 L1597.9 1827.9 L1613.5 1826.6 L1618.5 1830.6 L1622.8 1840.2 L1614.8 1849.9 L1613.5 1855.1 L1613.0 1859.6 L1613.5 1860.6 L1621.6 1869.3 L1613.5 1877.1 L1611.4 1879.0 L1597.9 1888.4 L1595.8 1888.6 L1582.4 1891.0 L1577.9 1888.6 L1571.0 1879.0 L1572.3 1869.3 L1566.9 1863.8 L1556.4 1859.6 L1551.4 1857.2 L1535.8 1854.6 L1529.8 1849.9 L1529.2 1840.2 L1530.5 1830.6 L1535.8 1823.0 L1551.4 1825.3 L1566.9 1822.6ZM553.5 1840.2 L557.4 1834.8 L561.6 1840.2 L557.4 1843.7ZM1052.2 1840.2 L1054.4 1839.1 L1055.5 1840.2 L1054.4 1841.4ZM790.4 1847.7 L785.6 1849.9 L790.4 1852.9 L805.9 1850.5 L821.4 1851.1 L822.9 1849.9 L821.4 1848.6 L805.9 1849.1ZM711.7 1859.6 L712.7 1855.1 L714.1 1859.6 L712.7 1860.6ZM550.1 1869.3 L557.4 1865.1 L563.2 1869.3 L557.4 1870.5ZM1318.4 1863.9 L1313.5 1869.3 L1318.4 1877.0 L1328.3 1869.3ZM992.3 1876.0 L986.2 1879.0 L992.3 1882.7 L999.2 1879.0ZM805.9 1896.2 L803.9 1898.3 L805.9 1898.9 L806.9 1898.3ZM1271.8 1946.3 L1270.6 1946.7 L1271.8 1949.9 L1272.7 1946.7ZM1240.8 1973.5 L1239.5 1975.8 L1240.8 1978.2 L1242.4 1975.8ZM1452.0 1975.8 L1458.2 1967.9 L1463.6 1975.8 L1458.2 1982.9ZM1511.2 1975.8 L1520.3 1969.9 L1530.3 1975.8 L1526.5 1985.4 L1520.3 1989.9 L1504.8 1985.5 L1504.7 1985.4 L1504.8 1985.4ZM1161.1 1985.4 L1163.1 1984.2 L1164.1 1985.4 L1163.1 1985.9ZM930.2 1995.0 L929.2 1995.1 L930.2 1995.3 L930.6 1995.1ZM1020.2 1995.1 L1023.3 1992.3 L1027.0 1995.1 L1038.9 2003.6 L1042.5 2004.8 L1054.4 2008.6 L1059.4 2014.5 L1069.9 2019.4 L1085.5 2023.5 L1086.5 2024.2 L1085.5 2024.7 L1078.5 2033.8 L1085.5 2038.0 L1096.5 2033.8 L1101.0 2030.6 L1105.8 2033.8 L1116.5 2037.7 L1126.1 2043.5 L1129.1 2053.2 L1129.4 2062.9 L1127.0 2072.6 L1132.0 2074.7 L1137.0 2082.2 L1132.0 2087.4 L1122.3 2091.9 L1116.5 2096.6 L1110.4 2101.6 L1109.1 2111.3 L1101.0 2116.7 L1093.8 2111.3 L1092.3 2101.6 L1095.8 2091.9 L1085.5 2088.3 L1074.6 2082.2 L1069.9 2080.4 L1058.9 2082.2 L1054.4 2086.4 L1050.2 2082.2 L1042.2 2072.6 L1038.9 2069.3 L1034.4 2062.9 L1038.9 2059.6 L1046.0 2053.2 L1038.9 2047.5 L1023.3 2050.2 L1007.8 2052.9 L1003.2 2043.5 L1007.8 2036.5 L1009.5 2033.8 L1012.6 2024.2 L1014.7 2014.5 L1020.4 2004.8ZM1526.8 2043.5 L1535.8 2035.7 L1541.2 2043.5 L1546.5 2053.2 L1535.8 2062.3 L1520.3 2053.8 L1519.5 2053.2 L1520.3 2052.4ZM1471.1 2072.6 L1473.7 2070.2 L1475.8 2072.6 L1473.7 2076.4ZM1101.0 2078.6 L1097.8 2082.2 L1101.0 2086.7 L1116.5 2082.9 L1117.1 2082.2 L1116.5 2081.6Z" fill="none" stroke="#242424" stroke-width="5.4" stroke-linejoin="round" stroke-linecap="round"/>
<path d="M503.1 1365.9 L510.8 1364.1 L517.6 1365.9 L512.3 1375.6 L526.4 1383.4 L538.1 1385.3 L527.1 1395.0 L526.4 1395.2 L525.3 1395.0 L510.8 1389.2 L506.5 1385.3 L495.3 1375.8 L495.1 1375.6 L495.3 1374.9ZM540.4 1375.6 L541.9 1374.1 L543.2 1375.6 L541.9 1381.1ZM494.7 1395.0 L495.3 1394.3 L497.0 1395.0 L495.3 1395.6ZM560.4 1404.6 L573.0 1403.4 L574.4 1404.6 L573.0 1405.4ZM773.3 1414.3 L774.9 1414.2 L775.1 1414.3 L774.9 1414.9ZM781.6 1424.0 L790.4 1421.2 L798.9 1424.0 L790.4 1430.3ZM712.7 1520.8 L712.7 1520.8 L712.8 1520.8 L712.7 1520.8ZM878.8 1520.8 L883.6 1514.0 L899.1 1512.9 L905.5 1520.8 L910.3 1530.5 L914.6 1533.8 L923.2 1540.2 L919.3 1549.8 L920.3 1559.5 L914.6 1562.9 L899.1 1564.8 L896.0 1569.2 L892.7 1578.9 L899.1 1588.6 L899.1 1588.6 L913.0 1598.2 L914.6 1603.7 L917.8 1607.9 L916.9 1617.6 L914.6 1620.2 L910.5 1627.3 L914.6 1631.5 L918.4 1637.0 L914.6 1644.9 L907.3 1637.0 L899.1 1633.6 L883.6 1632.3 L879.2 1637.0 L868.0 1646.0 L866.4 1646.6 L868.0 1647.4 L883.4 1656.3 L883.6 1656.5 L899.1 1660.2 L906.1 1666.0 L914.6 1672.0 L925.6 1675.7 L930.2 1677.0 L942.9 1685.4 L945.7 1687.2 L950.9 1685.4 L961.2 1680.4 L966.7 1685.4 L976.7 1692.4 L990.1 1695.0 L976.7 1698.1 L964.9 1704.7 L976.7 1709.6 L988.8 1714.4 L992.3 1716.7 L1004.7 1724.1 L1007.8 1729.0 L1009.7 1733.8 L1017.8 1743.4 L1023.3 1748.6 L1028.2 1753.1 L1029.0 1762.8 L1023.3 1767.6 L1018.0 1772.5 L1023.3 1777.5 L1028.7 1782.2 L1023.3 1785.2 L1010.5 1782.2 L1007.8 1781.3 L997.7 1782.2 L1007.8 1784.2 L1011.9 1791.8 L1007.8 1795.5 L996.7 1791.8 L992.3 1784.7 L976.7 1789.9 L970.2 1791.8 L961.2 1795.8 L958.1 1801.5 L961.2 1806.5 L975.5 1801.5 L976.7 1800.2 L992.3 1798.8 L993.6 1801.5 L992.3 1802.2 L980.0 1811.2 L977.3 1820.9 L976.7 1821.4 L968.6 1830.6 L961.2 1836.7 L956.6 1840.2 L961.2 1847.2 L970.2 1840.2 L976.7 1837.6 L979.6 1840.2 L980.9 1849.9 L981.8 1859.6 L992.3 1865.3 L1007.6 1869.3 L992.3 1872.2 L978.3 1879.0 L992.3 1887.5 L996.2 1888.6 L992.3 1891.3 L978.2 1898.3 L976.7 1899.0 L970.0 1908.0 L976.7 1914.3 L985.5 1917.7 L976.7 1925.6 L973.3 1927.4 L965.5 1937.0 L975.3 1946.7 L961.2 1956.4 L965.6 1966.1 L961.2 1968.9 L953.5 1975.8 L945.7 1982.3 L933.7 1985.4 L930.2 1986.1 L926.4 1985.4 L914.6 1984.0 L905.2 1985.4 L899.1 1989.9 L883.6 1987.2 L880.6 1985.4 L868.0 1976.5 L867.0 1975.8 L868.0 1973.5 L883.6 1969.5 L887.8 1966.1 L883.6 1961.5 L868.0 1959.0 L866.3 1956.4 L864.6 1946.7 L864.1 1937.0 L852.5 1929.9 L840.0 1927.4 L852.5 1919.3 L853.4 1917.7 L854.9 1908.0 L852.5 1902.0 L837.0 1904.5 L826.4 1908.0 L827.5 1917.7 L824.6 1927.4 L821.4 1927.8 L821.2 1927.4 L813.3 1917.7 L811.5 1908.0 L821.4 1901.8 L823.4 1898.3 L821.4 1896.7 L812.6 1888.6 L806.0 1879.0 L811.5 1869.3 L812.2 1859.6 L821.4 1857.3 L830.7 1849.9 L837.0 1843.1 L840.0 1840.2 L837.0 1836.2 L826.8 1840.2 L821.4 1841.5 L817.0 1840.2 L805.9 1837.4 L790.4 1836.0 L785.1 1830.6 L782.0 1820.9 L790.4 1814.5 L805.1 1820.9 L805.9 1821.2 L806.7 1820.9 L811.6 1811.2 L814.7 1801.5 L817.7 1791.8 L821.4 1790.2 L827.8 1791.8 L837.0 1793.3 L839.3 1791.8 L845.8 1782.2 L837.0 1774.1 L836.2 1772.5 L837.0 1771.7 L842.3 1762.8 L837.0 1753.5 L836.6 1753.1 L837.0 1752.6 L850.6 1753.1 L852.5 1753.1 L852.5 1753.1 L852.5 1752.8 L849.0 1743.4 L837.0 1739.8 L830.4 1733.8 L821.4 1727.8 L812.8 1733.8 L809.5 1743.4 L805.9 1748.5 L804.3 1753.1 L805.9 1754.2 L815.5 1762.8 L806.4 1772.5 L805.9 1773.0 L790.4 1776.6 L786.5 1772.5 L774.9 1765.7 L759.3 1770.0 L746.7 1762.8 L759.3 1759.6 L774.9 1755.1 L776.4 1753.1 L781.9 1743.4 L783.2 1733.8 L774.9 1730.9 L764.6 1733.8 L770.3 1743.4 L759.3 1747.6 L743.8 1751.0 L738.2 1753.1 L728.3 1756.3 L715.6 1753.1 L712.7 1750.0 L707.5 1743.4 L697.2 1737.9 L688.0 1733.8 L697.2 1725.4 L700.3 1724.1 L712.7 1716.7 L717.0 1724.1 L723.0 1733.8 L728.3 1739.4 L736.0 1733.8 L743.8 1726.6 L745.6 1724.1 L759.0 1714.4 L751.3 1704.7 L759.3 1697.0 L763.4 1695.0 L774.9 1690.1 L779.8 1685.4 L774.9 1679.9 L759.3 1677.7 L743.8 1680.3 L728.3 1680.5 L722.1 1685.4 L712.7 1689.8 L697.2 1689.5 L690.9 1685.4 L697.2 1683.5 L712.7 1679.7 L720.8 1675.7 L712.7 1671.7 L697.2 1669.5 L691.5 1666.0 L693.4 1656.3 L694.2 1646.6 L697.2 1644.1 L712.7 1644.7 L728.3 1643.8 L736.5 1637.0 L728.3 1628.8 L712.7 1631.8 L706.4 1627.3 L712.7 1619.8 L728.3 1626.5 L743.8 1624.1 L753.2 1617.6 L759.3 1615.3 L774.9 1613.7 L790.4 1615.6 L805.9 1612.4 L813.1 1617.6 L805.9 1621.9 L798.8 1627.3 L805.9 1633.8 L821.4 1635.0 L825.1 1637.0 L837.0 1644.1 L842.6 1637.0 L840.8 1627.3 L842.4 1617.6 L852.0 1607.9 L838.8 1598.2 L844.8 1588.6 L837.0 1582.8 L821.4 1584.2 L814.6 1578.9 L819.0 1569.2 L821.4 1563.6 L837.0 1564.1 L850.2 1559.5 L837.0 1555.2 L827.5 1549.8 L837.0 1546.3 L844.2 1540.2 L847.3 1530.5 L852.5 1522.7 L861.0 1530.5 L868.0 1534.5 L883.6 1535.9 L889.8 1530.5 L883.6 1523.6ZM926.4 1588.6 L930.2 1585.4 L941.4 1588.6 L930.2 1592.3ZM820.0 1598.2 L821.4 1597.1 L830.7 1598.2 L821.4 1599.2ZM774.9 1626.1 L774.0 1627.3 L768.0 1637.0 L774.9 1639.5 L787.8 1637.0 L775.8 1627.3ZM1206.3 1627.3 L1209.7 1625.1 L1225.2 1625.6 L1240.8 1626.0 L1242.1 1627.3 L1241.1 1637.0 L1240.8 1637.4 L1225.2 1643.9 L1209.7 1642.9 L1201.5 1637.0ZM1318.0 1627.3 L1318.4 1627.1 L1318.5 1627.3 L1318.4 1627.3ZM1088.6 1637.0 L1101.0 1629.4 L1114.0 1637.0 L1103.0 1646.6 L1116.5 1650.0 L1128.5 1656.3 L1132.0 1657.2 L1147.6 1658.9 L1150.7 1656.3 L1163.1 1654.0 L1177.6 1656.3 L1168.3 1666.0 L1163.1 1670.0 L1147.6 1673.7 L1147.3 1675.7 L1147.6 1676.0 L1163.1 1681.5 L1178.6 1677.0 L1179.7 1675.7 L1194.2 1670.5 L1206.9 1675.7 L1205.5 1685.4 L1194.2 1694.8 L1193.9 1695.0 L1194.2 1697.8 L1194.9 1704.7 L1201.6 1714.4 L1194.2 1721.1 L1188.3 1724.1 L1194.2 1726.8 L1209.7 1724.5 L1213.7 1724.1 L1225.2 1717.5 L1230.4 1724.1 L1225.2 1731.7 L1224.7 1733.8 L1225.2 1734.7 L1229.4 1733.8 L1240.8 1731.1 L1251.8 1733.8 L1256.3 1735.2 L1268.4 1743.4 L1271.8 1745.3 L1273.8 1743.4 L1287.3 1734.8 L1298.6 1743.4 L1302.9 1746.3 L1311.7 1753.1 L1318.4 1757.6 L1327.9 1762.8 L1333.9 1772.3 L1334.6 1772.5 L1348.8 1782.2 L1347.3 1791.8 L1349.5 1797.0 L1350.8 1801.5 L1349.5 1803.0 L1333.9 1801.8 L1329.9 1801.5 L1318.4 1800.1 L1312.5 1801.5 L1313.0 1811.2 L1302.9 1816.1 L1296.8 1820.9 L1300.7 1830.6 L1302.9 1832.2 L1317.3 1830.6 L1318.4 1828.9 L1319.0 1830.6 L1321.5 1840.2 L1318.4 1842.5 L1311.6 1849.9 L1307.7 1859.6 L1306.7 1869.3 L1307.7 1879.0 L1313.0 1888.6 L1318.4 1893.2 L1326.4 1898.3 L1318.4 1901.3 L1302.9 1905.2 L1298.3 1908.0 L1300.2 1917.7 L1302.9 1926.6 L1303.2 1927.4 L1302.9 1927.7 L1293.9 1937.0 L1302.9 1946.3 L1303.3 1946.7 L1302.9 1947.7 L1287.3 1954.9 L1280.1 1946.7 L1271.8 1942.4 L1259.6 1946.7 L1263.6 1956.4 L1271.8 1963.2 L1275.6 1966.1 L1271.8 1968.2 L1258.1 1975.8 L1256.3 1977.2 L1254.4 1975.8 L1246.9 1966.1 L1240.8 1962.8 L1234.8 1966.1 L1230.8 1975.8 L1225.2 1980.2 L1215.8 1975.8 L1209.7 1968.1 L1207.8 1966.1 L1194.2 1962.2 L1180.2 1966.1 L1178.6 1966.7 L1175.5 1966.1 L1163.1 1963.2 L1147.6 1956.8 L1146.2 1956.4 L1132.0 1953.3 L1121.8 1946.7 L1116.5 1942.7 L1101.0 1939.1 L1096.7 1937.0 L1095.0 1927.4 L1101.0 1925.1 L1116.5 1927.4 L1121.1 1917.7 L1116.5 1909.0 L1115.2 1908.0 L1101.0 1904.1 L1085.5 1899.1 L1085.0 1898.3 L1080.1 1888.6 L1084.9 1879.0 L1085.5 1871.9 L1086.7 1869.3 L1101.0 1866.0 L1106.7 1859.6 L1106.4 1849.9 L1116.5 1843.0 L1132.0 1846.3 L1140.6 1840.2 L1147.6 1834.6 L1154.7 1840.2 L1155.2 1849.9 L1163.1 1852.8 L1178.5 1859.6 L1175.9 1869.3 L1178.6 1869.8 L1194.2 1871.4 L1198.8 1869.3 L1194.2 1867.1 L1178.8 1859.6 L1182.3 1849.9 L1178.6 1847.8 L1166.3 1840.2 L1170.1 1830.6 L1163.1 1824.1 L1154.3 1820.9 L1155.0 1811.2 L1147.6 1806.9 L1136.8 1801.5 L1133.9 1791.8 L1138.0 1782.2 L1132.3 1772.5 L1138.9 1762.8 L1138.0 1753.1 L1132.0 1749.1 L1128.3 1753.1 L1116.5 1755.9 L1110.2 1753.1 L1101.0 1747.3 L1085.5 1747.6 L1072.2 1743.4 L1069.9 1742.4 L1058.7 1733.8 L1063.8 1724.1 L1062.9 1714.4 L1054.4 1708.8 L1038.9 1713.6 L1034.9 1714.4 L1023.3 1715.7 L1020.7 1714.4 L1007.8 1707.7 L993.4 1704.7 L993.3 1695.0 L1007.8 1688.5 L1016.4 1685.4 L1017.1 1675.7 L1023.3 1673.8 L1030.9 1675.7 L1038.9 1678.5 L1049.2 1675.7 L1038.9 1670.2 L1036.4 1666.0 L1038.9 1661.9 L1054.4 1661.0 L1062.5 1666.0 L1069.9 1668.2 L1072.2 1666.0 L1071.9 1656.3 L1085.5 1651.1 L1099.9 1646.6ZM1144.1 1646.6 L1147.6 1645.2 L1151.9 1646.6 L1147.6 1654.6ZM1179.0 1656.3 L1194.2 1649.3 L1201.1 1656.3 L1194.2 1660.3ZM1285.4 1656.3 L1287.3 1656.0 L1288.2 1656.3 L1287.3 1657.4ZM929.0 1666.0 L930.2 1663.1 L930.6 1666.0 L930.2 1668.4ZM1235.1 1666.0 L1240.8 1656.5 L1256.3 1665.4 L1258.8 1666.0 L1256.3 1668.7 L1245.2 1675.7 L1240.8 1676.6 L1225.8 1675.7ZM805.9 1680.7 L803.4 1685.4 L805.9 1688.6 L808.8 1685.4ZM868.0 1693.8 L864.2 1695.0 L868.0 1697.9 L870.5 1695.0ZM1023.3 1693.0 L1021.8 1695.0 L1023.3 1697.0 L1024.6 1695.0ZM1054.4 1694.8 L1054.0 1695.0 L1054.4 1696.7 L1054.8 1695.0ZM1261.7 1695.0 L1271.8 1686.3 L1287.3 1691.9 L1299.4 1695.0 L1287.3 1701.1 L1277.5 1704.7 L1281.6 1714.4 L1276.2 1724.1 L1271.8 1725.2 L1270.5 1724.1 L1258.3 1714.4 L1263.2 1704.7ZM774.9 1699.1 L767.0 1704.7 L760.1 1714.4 L774.9 1717.9 L786.4 1714.4 L790.4 1713.1 L795.4 1714.4 L805.9 1719.8 L821.4 1717.1 L828.2 1714.4 L828.9 1704.7 L821.4 1699.7 L805.9 1699.4 L790.4 1701.2ZM852.5 1702.2 L850.1 1704.7 L845.8 1714.4 L837.0 1722.0 L835.1 1724.1 L837.0 1725.1 L852.5 1724.9 L853.0 1724.1 L853.9 1714.4 L857.3 1704.7ZM914.6 1704.2 L913.4 1704.7 L914.6 1705.5 L930.2 1705.5 L930.4 1704.7 L930.2 1704.6ZM899.1 1731.4 L895.4 1733.8 L899.1 1736.7 L903.6 1733.8ZM1116.5 1732.2 L1114.3 1733.8 L1116.5 1735.6 L1118.4 1733.8ZM1147.6 1732.4 L1143.0 1733.8 L1147.6 1743.1 L1150.5 1733.8ZM1314.2 1733.8 L1318.4 1729.1 L1333.9 1731.4 L1338.7 1733.8 L1333.9 1734.4 L1318.4 1735.6ZM930.2 1740.0 L915.3 1743.4 L930.2 1745.8 L935.5 1743.4ZM1163.1 1741.1 L1148.0 1743.4 L1162.7 1753.1 L1163.1 1753.3 L1163.2 1753.1 L1174.5 1743.4ZM694.4 1753.1 L697.2 1749.5 L708.3 1753.1 L697.2 1757.0ZM1240.8 1751.4 L1236.1 1753.1 L1240.8 1754.3 L1255.0 1762.8 L1253.4 1772.5 L1256.3 1775.0 L1268.9 1772.5 L1259.9 1762.8 L1261.9 1753.1 L1256.3 1749.3ZM868.0 1760.7 L864.2 1762.8 L868.0 1767.6 L871.8 1762.8ZM1100.7 1762.8 L1101.0 1762.6 L1101.1 1762.8 L1101.0 1764.0ZM586.3 1772.5 L588.5 1765.3 L589.7 1772.5 L588.5 1776.9ZM1031.0 1772.5 L1038.9 1768.8 L1046.0 1772.5 L1038.9 1776.0ZM1079.4 1772.5 L1085.5 1768.0 L1098.7 1772.5 L1085.5 1776.6ZM1103.6 1772.5 L1116.5 1770.0 L1131.2 1772.5 L1116.5 1774.6ZM1287.3 1769.8 L1273.2 1772.5 L1287.3 1776.2 L1292.5 1772.5ZM868.0 1779.6 L861.5 1782.2 L868.0 1784.6 L871.3 1782.2ZM740.7 1791.8 L743.8 1786.5 L751.3 1791.8 L744.1 1801.5 L743.8 1801.6 L743.6 1801.5ZM899.1 1791.3 L897.9 1791.8 L899.1 1792.4 L900.2 1791.8ZM790.0 1801.5 L790.4 1801.4 L790.5 1801.5 L790.4 1801.7ZM1194.2 1792.4 L1190.6 1801.5 L1194.2 1803.4 L1209.7 1801.7 L1210.1 1801.5 L1209.7 1801.3ZM680.3 1811.2 L681.7 1810.2 L683.3 1811.2 L681.7 1812.9ZM727.5 1811.2 L728.3 1810.4 L728.9 1811.2 L728.3 1811.9ZM1089.4 1811.2 L1101.0 1808.8 L1105.4 1811.2 L1101.0 1812.8ZM1003.6 1820.9 L1007.8 1817.0 L1023.3 1818.9 L1038.4 1820.9 L1023.3 1821.8 L1007.8 1822.8ZM1113.5 1830.6 L1116.5 1830.0 L1117.9 1830.6 L1116.5 1833.0ZM1562.8 1840.2 L1566.9 1834.7 L1569.7 1840.2 L1566.9 1845.5ZM1605.4 1840.2 L1613.5 1835.8 L1616.9 1840.2 L1613.5 1843.9ZM945.7 1847.6 L943.9 1849.9 L940.6 1859.6 L943.5 1869.3 L945.7 1871.4 L961.2 1876.4 L968.5 1869.3 L961.2 1862.9 L956.8 1859.6 L956.0 1849.9ZM1240.8 1849.3 L1239.9 1849.9 L1240.8 1850.6 L1241.4 1849.9ZM1586.6 1849.9 L1597.9 1846.2 L1602.0 1849.9 L1605.4 1859.6 L1597.9 1868.8 L1595.5 1869.3 L1582.4 1872.6 L1580.1 1869.3 L1582.4 1862.9 L1584.5 1859.6ZM1209.7 1877.8 L1208.5 1879.0 L1209.7 1880.0 L1225.2 1879.0 L1225.2 1879.0 L1225.2 1879.0ZM1132.0 1898.2 L1131.8 1898.3 L1132.0 1898.4 L1132.2 1898.3ZM1132.0 1924.1 L1116.5 1927.4 L1132.0 1933.8 L1138.1 1937.0 L1142.3 1946.7 L1147.6 1955.6 L1151.5 1946.7 L1152.6 1937.0 L1147.6 1932.5 L1140.2 1927.4ZM899.1 1956.1 L897.5 1956.4 L899.1 1956.8 L899.2 1956.4ZM992.0 1956.4 L992.3 1955.4 L992.4 1956.4 L992.3 1956.5ZM954.8 1985.4 L961.2 1982.9 L963.5 1985.4 L961.2 1993.1ZM930.2 2004.8 L945.7 2003.1 L948.3 2004.8 L949.6 2014.5 L945.7 2017.1 L932.3 2014.5ZM1036.8 2014.5 L1038.9 2013.5 L1041.1 2014.5 L1054.4 2019.8 L1065.3 2024.2 L1054.4 2030.6 L1038.9 2029.4 L1029.9 2024.2ZM1047.9 2043.5 L1054.4 2037.4 L1060.4 2043.5 L1054.4 2049.1ZM1063.2 2053.2 L1069.9 2050.7 L1079.9 2053.2 L1069.9 2062.1 L1069.6 2062.9 L1069.9 2063.6 L1085.5 2066.0 L1090.7 2072.6 L1085.5 2077.6 L1069.9 2074.1 L1064.4 2072.6 L1054.4 2069.1 L1046.2 2062.9 L1054.4 2055.9ZM1101.7 2053.2 L1116.5 2044.5 L1120.5 2053.2 L1116.5 2059.9Z" fill="none" stroke="#494949" stroke-width="5.4" stroke-linejoin="round" stroke-linecap="round"/>
<path d="M897.9 1530.5 L899.1 1527.9 L900.5 1530.5 L907.4 1540.2 L903.2 1549.8 L899.1 1553.1 L893.6 1559.5 L889.7 1569.2 L883.6 1576.4 L880.2 1578.9 L883.6 1580.8 L892.6 1588.6 L899.1 1593.9 L905.3 1598.2 L903.5 1607.9 L904.2 1617.6 L899.1 1623.9 L883.6 1624.3 L878.1 1627.3 L870.9 1637.0 L868.0 1639.3 L852.5 1642.9 L850.5 1637.0 L851.3 1627.3 L852.3 1617.6 L852.5 1617.4 L858.7 1607.9 L868.0 1599.1 L871.8 1598.2 L868.0 1595.6 L861.1 1588.6 L852.5 1583.9 L845.5 1578.9 L842.2 1569.2 L852.5 1564.2 L861.1 1559.5 L868.0 1551.8 L883.6 1553.8 L894.6 1549.8 L895.0 1540.2ZM851.9 1540.2 L852.5 1538.7 L855.2 1540.2 L852.5 1541.5ZM820.6 1578.9 L821.4 1577.3 L824.1 1578.9 L821.4 1579.5ZM868.0 1615.6 L853.3 1617.6 L868.0 1620.7 L872.4 1617.6ZM762.0 1646.6 L774.9 1644.9 L788.4 1646.6 L790.4 1647.0 L791.4 1646.6 L805.9 1641.7 L816.3 1646.6 L814.5 1656.3 L817.4 1666.0 L805.9 1671.5 L801.3 1675.7 L790.9 1685.4 L796.5 1695.0 L790.4 1696.8 L783.4 1695.0 L790.0 1685.4 L778.7 1675.7 L774.9 1671.1 L759.3 1667.2 L743.8 1672.5 L728.3 1668.2 L723.5 1666.0 L712.7 1657.4 L711.3 1656.3 L712.7 1655.7 L728.3 1652.5 L734.7 1656.3 L743.8 1661.1 L759.3 1657.4 L759.5 1656.3ZM830.9 1656.3 L837.0 1652.3 L848.6 1656.3 L852.5 1662.4 L862.3 1656.3 L868.0 1655.5 L869.5 1656.3 L883.0 1666.0 L869.9 1675.7 L874.1 1685.4 L868.0 1686.2 L852.5 1690.9 L845.4 1685.4 L837.0 1679.6 L827.7 1675.7 L827.0 1666.0ZM1080.0 1666.0 L1085.5 1658.1 L1101.0 1659.4 L1116.5 1661.6 L1132.0 1661.6 L1140.6 1666.0 L1141.3 1675.7 L1147.6 1683.5 L1152.7 1685.4 L1147.6 1690.0 L1145.1 1695.0 L1147.6 1701.4 L1155.2 1695.0 L1163.1 1691.6 L1174.3 1695.0 L1168.3 1704.7 L1163.1 1711.1 L1147.6 1709.4 L1141.8 1714.4 L1147.6 1716.0 L1157.4 1724.1 L1147.6 1727.7 L1132.0 1729.7 L1124.9 1724.1 L1116.5 1717.9 L1101.0 1721.5 L1086.5 1724.1 L1095.0 1733.8 L1085.5 1740.2 L1071.8 1733.8 L1083.5 1724.1 L1078.7 1714.4 L1085.5 1708.4 L1098.9 1704.7 L1086.7 1695.0 L1086.0 1685.4 L1085.5 1684.6 L1083.8 1685.4 L1076.6 1695.0 L1069.9 1696.7 L1067.9 1695.0 L1054.4 1686.5 L1039.3 1695.0 L1038.9 1695.4 L1038.5 1695.0 L1038.2 1685.4 L1038.9 1685.1 L1054.4 1683.9 L1069.5 1675.7 L1069.9 1675.5ZM1193.1 1675.7 L1194.2 1675.3 L1195.1 1675.7 L1194.2 1678.4ZM886.7 1685.4 L899.1 1679.8 L914.6 1680.3 L930.2 1683.6 L932.8 1685.4 L945.7 1693.6 L949.4 1695.0 L945.7 1698.1 L930.2 1696.6 L914.6 1698.0 L900.0 1704.7 L914.6 1714.3 L914.9 1714.4 L914.6 1714.7 L903.7 1724.1 L899.1 1725.4 L890.9 1724.1 L888.1 1714.4 L883.6 1708.6 L881.0 1714.4 L868.0 1722.5 L861.5 1714.4 L868.0 1708.7 L881.1 1704.7 L883.6 1700.7 L887.7 1695.0ZM1271.3 1714.4 L1271.8 1713.9 L1272.2 1714.4 L1271.8 1714.8ZM754.8 1724.1 L759.3 1720.9 L768.6 1724.1 L759.3 1727.6ZM940.7 1724.1 L945.7 1720.4 L953.9 1724.1 L961.2 1730.9 L967.6 1724.1 L976.7 1717.7 L986.0 1724.1 L992.3 1726.4 L999.7 1733.8 L1007.8 1743.0 L1008.1 1743.4 L1017.3 1753.1 L1007.8 1762.5 L1007.6 1762.8 L998.7 1772.5 L992.3 1773.8 L976.7 1781.2 L967.8 1782.2 L961.2 1783.3 L954.0 1782.2 L953.8 1772.5 L945.7 1768.0 L930.2 1772.4 L930.1 1772.5 L930.2 1772.5 L944.9 1782.2 L945.7 1784.7 L950.2 1791.8 L950.9 1801.5 L950.5 1811.2 L945.7 1813.7 L930.2 1819.9 L914.6 1812.5 L907.0 1820.9 L902.0 1830.6 L914.6 1839.1 L923.4 1830.6 L930.2 1821.4 L945.7 1829.7 L947.5 1830.6 L945.7 1832.1 L931.5 1840.2 L934.4 1849.9 L933.2 1859.6 L936.0 1869.3 L945.7 1878.7 L946.5 1879.0 L945.7 1879.4 L934.7 1888.6 L941.5 1898.3 L945.7 1899.7 L952.4 1898.3 L961.2 1895.6 L964.3 1898.3 L962.4 1908.0 L968.2 1917.7 L961.2 1921.6 L959.1 1927.4 L958.8 1937.0 L960.6 1946.7 L951.1 1956.4 L945.7 1961.8 L934.5 1966.1 L937.9 1975.8 L930.2 1979.0 L914.6 1978.3 L899.7 1975.8 L902.7 1966.1 L904.2 1956.4 L899.1 1947.4 L897.0 1946.7 L883.6 1942.2 L876.0 1937.0 L883.6 1929.7 L886.5 1927.4 L899.1 1920.3 L901.7 1917.7 L899.1 1916.2 L883.6 1915.9 L876.0 1917.7 L868.0 1920.4 L864.9 1917.7 L863.2 1908.0 L866.2 1898.3 L852.5 1888.8 L842.6 1898.3 L837.0 1900.3 L832.7 1898.3 L821.4 1889.1 L820.9 1888.6 L821.4 1887.2 L827.3 1879.0 L821.8 1869.3 L837.0 1864.4 L845.3 1859.6 L839.0 1849.9 L848.8 1840.2 L839.3 1830.6 L840.5 1820.9 L852.5 1811.9 L853.7 1811.2 L852.5 1805.4 L839.5 1801.5 L852.5 1793.1 L868.0 1796.9 L880.0 1791.8 L883.6 1789.3 L885.8 1791.8 L899.1 1798.4 L911.5 1791.8 L899.1 1785.5 L890.9 1782.2 L883.6 1777.5 L876.4 1772.5 L882.8 1762.8 L868.0 1754.4 L865.4 1753.1 L857.1 1743.4 L858.6 1733.8 L868.0 1725.4 L883.6 1728.7 L885.7 1733.8 L883.6 1740.9 L883.0 1743.4 L883.6 1745.8 L899.1 1749.5 L903.8 1753.1 L914.6 1759.3 L926.7 1753.1 L930.2 1752.8 L945.7 1746.2 L961.2 1747.1 L963.5 1743.4 L961.2 1736.6 L945.7 1739.1 L937.5 1733.8ZM711.1 1733.8 L712.7 1733.0 L713.3 1733.8 L712.7 1734.6ZM1160.5 1733.8 L1163.1 1730.3 L1166.3 1733.8 L1163.1 1735.3ZM1197.8 1733.8 L1209.7 1728.4 L1218.4 1733.8 L1223.2 1743.4 L1215.4 1753.1 L1225.2 1761.3 L1240.8 1760.8 L1244.1 1762.8 L1240.8 1769.7 L1225.2 1764.9 L1209.7 1765.9 L1200.8 1772.5 L1194.2 1780.8 L1178.6 1781.8 L1178.3 1782.2 L1178.6 1782.7 L1182.3 1791.8 L1178.8 1801.5 L1194.2 1809.9 L1209.7 1807.7 L1220.5 1801.5 L1225.2 1798.1 L1238.4 1791.8 L1240.8 1789.1 L1243.6 1791.8 L1256.3 1796.6 L1263.0 1791.8 L1264.5 1782.2 L1271.8 1779.5 L1281.0 1782.2 L1287.3 1784.9 L1292.2 1782.2 L1302.9 1773.1 L1314.0 1782.2 L1302.9 1786.8 L1295.2 1791.8 L1293.5 1801.5 L1295.8 1811.2 L1287.3 1819.5 L1285.3 1820.9 L1287.3 1826.8 L1288.0 1830.6 L1300.6 1840.2 L1301.4 1849.9 L1294.9 1859.6 L1290.4 1869.3 L1290.0 1879.0 L1287.3 1881.8 L1285.2 1879.0 L1271.8 1871.6 L1268.3 1869.3 L1256.3 1862.8 L1240.8 1860.2 L1237.7 1859.6 L1240.8 1859.3 L1249.0 1849.9 L1240.8 1842.1 L1229.6 1849.9 L1225.2 1857.0 L1218.1 1849.9 L1209.7 1846.9 L1197.3 1849.9 L1194.2 1857.8 L1192.8 1849.9 L1178.6 1841.8 L1176.1 1840.2 L1178.6 1834.3 L1179.2 1830.6 L1179.4 1820.9 L1178.6 1818.3 L1172.5 1811.2 L1163.1 1807.4 L1153.3 1801.5 L1147.6 1797.4 L1141.3 1791.8 L1144.7 1782.2 L1147.6 1775.4 L1149.1 1772.5 L1163.1 1765.8 L1174.0 1762.8 L1178.6 1756.7 L1180.2 1753.1 L1194.2 1744.4 L1196.3 1743.4ZM737.2 1743.4 L743.8 1738.6 L754.4 1743.4 L743.8 1745.8ZM1286.3 1743.4 L1287.3 1742.8 L1288.2 1743.4 L1287.3 1748.9ZM786.4 1753.1 L790.4 1749.3 L794.3 1753.1 L805.9 1761.0 L807.9 1762.8 L805.9 1764.9 L790.4 1764.5 L786.9 1762.8ZM852.1 1762.8 L852.5 1762.4 L852.9 1762.8 L852.5 1763.8ZM1283.5 1762.8 L1287.3 1755.5 L1291.3 1762.8 L1287.3 1764.0ZM1200.7 1782.2 L1209.7 1780.7 L1212.1 1782.2 L1218.2 1791.8 L1209.7 1796.6 L1201.9 1791.8ZM1333.0 1782.2 L1333.9 1782.0 L1334.2 1782.2 L1333.9 1784.9ZM1271.8 1801.4 L1271.5 1801.5 L1271.8 1811.2 L1272.3 1801.5ZM1240.8 1810.0 L1238.0 1811.2 L1240.8 1813.9 L1249.6 1811.2ZM803.5 1830.6 L805.9 1829.9 L807.2 1830.6 L805.9 1831.1ZM1116.0 1859.6 L1116.5 1858.7 L1120.3 1859.6 L1132.0 1861.9 L1144.2 1869.3 L1147.6 1870.8 L1163.1 1873.4 L1178.6 1874.7 L1194.2 1878.7 L1194.7 1879.0 L1202.6 1888.6 L1194.2 1892.4 L1185.8 1898.3 L1194.2 1901.2 L1203.8 1908.0 L1209.7 1912.9 L1218.6 1908.0 L1225.2 1903.0 L1239.6 1908.0 L1240.8 1908.5 L1256.3 1912.0 L1268.3 1908.0 L1271.8 1904.8 L1275.5 1898.3 L1287.3 1891.4 L1302.9 1890.7 L1310.3 1898.3 L1302.9 1900.4 L1290.5 1908.0 L1291.4 1917.7 L1291.6 1927.4 L1287.3 1931.4 L1280.3 1927.4 L1271.8 1924.2 L1256.8 1927.4 L1271.8 1932.6 L1278.3 1937.0 L1271.8 1938.5 L1256.3 1941.7 L1251.7 1946.7 L1242.1 1956.4 L1240.8 1956.6 L1225.2 1959.3 L1224.3 1956.4 L1209.9 1946.7 L1209.7 1946.3 L1208.0 1946.7 L1196.5 1956.4 L1194.2 1957.2 L1178.6 1957.9 L1172.2 1956.4 L1163.1 1950.7 L1161.5 1946.7 L1163.1 1943.9 L1166.1 1937.0 L1163.1 1934.1 L1154.3 1927.4 L1147.6 1922.7 L1136.4 1917.7 L1132.0 1911.0 L1130.3 1908.0 L1132.0 1907.0 L1140.6 1898.3 L1132.0 1890.5 L1116.5 1891.2 L1113.1 1888.6 L1116.5 1886.5 L1125.6 1879.0 L1116.5 1870.8 L1115.3 1869.3ZM1152.8 1859.6 L1163.1 1856.8 L1169.4 1859.6 L1163.1 1865.0ZM1216.3 1869.3 L1225.2 1862.1 L1232.1 1869.3 L1225.2 1872.2ZM1250.9 1879.0 L1256.3 1876.2 L1261.1 1879.0 L1256.3 1882.7ZM1213.0 1888.6 L1225.2 1883.9 L1240.8 1885.8 L1245.8 1888.6 L1240.8 1893.8 L1225.2 1895.0ZM1163.1 1904.6 L1158.2 1908.0 L1163.1 1916.0 L1178.6 1910.2 L1182.4 1908.0 L1178.6 1903.5Z" fill="none" stroke="#6d6d6d" stroke-width="5.4" stroke-linejoin="round" stroke-linecap="round"/>
<path d="M852.7 1569.2 L868.0 1561.2 L883.2 1569.2 L870.4 1578.9 L868.0 1581.7 L862.6 1578.9ZM877.4 1588.6 L883.6 1586.4 L886.1 1588.6 L883.6 1592.7ZM865.1 1607.9 L868.0 1605.2 L883.6 1601.9 L892.3 1607.9 L883.6 1617.1 L868.0 1610.3ZM774.1 1656.3 L774.9 1655.6 L790.4 1655.2 L805.9 1656.3 L805.9 1656.5 L806.1 1666.0 L805.9 1666.1 L795.4 1675.7 L790.4 1680.2 L785.0 1675.7 L777.7 1666.0 L774.9 1657.7ZM1091.5 1666.0 L1101.0 1663.9 L1107.0 1666.0 L1116.5 1668.3 L1131.7 1666.0 L1132.0 1665.9 L1132.2 1666.0 L1135.2 1675.7 L1132.0 1680.1 L1129.1 1685.4 L1132.0 1691.0 L1136.1 1695.0 L1132.0 1704.2 L1131.2 1704.7 L1116.5 1708.7 L1111.2 1704.7 L1101.0 1700.7 L1092.9 1695.0 L1093.7 1685.4 L1087.1 1675.7ZM1093.3 1714.4 L1101.0 1711.8 L1106.1 1714.4 L1101.0 1716.3ZM867.1 1733.8 L868.0 1733.0 L869.9 1733.8 L876.0 1743.4 L868.0 1749.1 L862.2 1743.4ZM1206.3 1733.8 L1209.7 1732.2 L1212.2 1733.8 L1211.2 1743.4 L1209.7 1745.0 L1208.2 1743.4ZM972.4 1743.4 L976.7 1739.2 L992.3 1737.9 L996.2 1743.4 L1004.5 1753.1 L1000.6 1762.8 L992.3 1768.4 L978.5 1772.5 L976.7 1773.3 L971.7 1772.5 L976.7 1764.6 L977.1 1762.8 L976.7 1762.2 L970.8 1753.1ZM1188.7 1753.1 L1194.2 1749.7 L1201.7 1753.1 L1194.2 1758.6ZM896.4 1762.8 L899.1 1761.1 L901.9 1762.8 L906.5 1772.5 L899.1 1776.6 L892.7 1772.5ZM1157.4 1772.5 L1163.1 1769.7 L1172.4 1772.5 L1163.1 1781.0ZM919.2 1782.2 L930.2 1777.5 L937.3 1782.2 L939.4 1791.8 L939.0 1801.5 L930.2 1805.0 L920.5 1801.5 L921.0 1791.8ZM1150.7 1791.8 L1163.1 1783.4 L1170.3 1791.8 L1163.7 1801.5 L1163.1 1801.8 L1162.7 1801.5ZM1235.1 1801.5 L1240.8 1798.9 L1248.5 1801.5 L1240.8 1803.5ZM860.3 1811.2 L868.0 1804.1 L883.4 1811.2 L883.6 1811.3 L883.8 1811.2 L899.1 1805.3 L906.3 1811.2 L899.1 1818.0 L896.6 1820.9 L895.3 1830.6 L894.1 1840.2 L883.6 1846.8 L874.6 1849.9 L871.3 1859.6 L868.0 1863.3 L863.0 1859.6 L852.5 1854.9 L849.2 1849.9 L852.5 1846.4 L857.1 1840.2 L852.5 1838.0 L843.9 1830.6 L845.9 1820.9 L852.5 1816.0ZM1184.2 1820.9 L1194.2 1813.9 L1209.7 1813.7 L1220.4 1820.9 L1225.2 1826.0 L1231.2 1830.6 L1225.2 1835.0 L1212.1 1840.2 L1209.7 1840.9 L1194.2 1845.2 L1185.6 1840.2 L1182.9 1830.6ZM1267.5 1840.2 L1271.8 1837.4 L1280.6 1840.2 L1271.8 1842.6ZM901.2 1869.3 L914.6 1864.1 L926.9 1869.3 L914.6 1875.8 L909.6 1879.0 L903.9 1888.6 L914.6 1897.2 L917.0 1898.3 L914.6 1900.4 L908.7 1908.0 L899.1 1911.0 L883.6 1909.1 L879.2 1908.0 L883.6 1903.5 L887.0 1898.3 L883.6 1892.2 L881.7 1888.6 L868.0 1879.5 L859.6 1879.0 L868.0 1877.3 L883.6 1877.4 L899.1 1870.6ZM1174.6 1888.6 L1178.6 1882.3 L1182.7 1888.6 L1178.6 1891.5ZM921.0 1908.0 L930.2 1903.2 L945.7 1907.8 L946.2 1908.0 L957.1 1917.7 L955.6 1927.4 L955.2 1937.0 L948.5 1946.7 L945.7 1949.9 L940.4 1956.4 L930.2 1961.4 L916.2 1966.1 L914.6 1967.5 L913.6 1966.1 L909.2 1956.4 L908.1 1946.7 L899.1 1938.5 L894.9 1937.0 L899.1 1932.8 L914.6 1928.2 L915.1 1927.4 L914.6 1924.5 L910.8 1917.7 L914.6 1912.4ZM1192.3 1908.0 L1194.2 1906.9 L1195.7 1908.0 L1194.2 1913.8ZM1175.3 1917.7 L1178.6 1916.2 L1189.0 1917.7 L1194.2 1918.3 L1209.7 1920.4 L1225.2 1923.6 L1236.8 1927.4 L1225.2 1931.2 L1209.7 1932.8 L1205.0 1937.0 L1194.2 1943.0 L1179.7 1946.7 L1178.6 1947.4 L1177.6 1946.7 L1173.8 1937.0 L1165.2 1927.4ZM1220.6 1946.7 L1225.2 1942.8 L1240.8 1938.7 L1245.0 1946.7 L1240.8 1950.6 L1225.2 1949.8Z" fill="none" stroke="#929292" stroke-width="5.4" stroke-linejoin="round" stroke-linecap="round"/>
<path d="M865.4 1569.2 L868.0 1567.8 L870.6 1569.2 L868.0 1571.3ZM786.7 1666.0 L790.4 1662.9 L795.0 1666.0 L790.4 1673.1ZM1098.2 1675.7 L1101.0 1672.6 L1116.5 1671.5 L1127.9 1675.7 L1124.4 1685.4 L1122.1 1695.0 L1116.5 1698.7 L1101.0 1696.4 L1099.0 1695.0 L1101.0 1686.5 L1101.4 1685.4 L1101.0 1684.0ZM867.4 1743.4 L868.0 1742.2 L868.9 1743.4 L868.0 1744.1ZM989.9 1762.8 L992.3 1759.0 L993.6 1762.8 L992.3 1763.7ZM929.7 1791.8 L930.2 1787.1 L930.6 1791.8 L930.2 1792.5ZM866.9 1811.2 L868.0 1810.1 L870.4 1811.2 L883.6 1816.9 L889.0 1820.9 L890.8 1830.6 L885.3 1840.2 L883.6 1841.3 L868.0 1844.1 L865.0 1840.2 L852.5 1834.0 L848.5 1830.6 L851.3 1820.9 L852.5 1820.0ZM1189.1 1820.9 L1194.2 1817.3 L1209.7 1819.9 L1211.2 1820.9 L1209.7 1827.0 L1209.0 1830.6 L1194.2 1839.8 L1186.6 1830.6ZM923.2 1917.7 L930.2 1913.0 L945.7 1914.0 L949.9 1917.7 L952.2 1927.4 L951.6 1937.0 L945.7 1943.6 L941.1 1946.7 L930.2 1955.9 L922.4 1956.4 L914.6 1957.4 L914.1 1956.4 L914.6 1954.1 L917.1 1946.7 L914.6 1944.1 L906.5 1937.0 L914.6 1932.8 L917.7 1927.4ZM1181.0 1927.4 L1194.2 1922.8 L1206.7 1927.4 L1197.1 1937.0 L1194.2 1938.7 L1186.3 1937.0Z" fill="none" stroke="#b6b6b6" stroke-width="5.4" stroke-linejoin="round" stroke-linecap="round"/>
<path d="M1112.2 1675.7 L1116.5 1674.7 L1119.1 1675.7 L1119.7 1685.4 L1116.5 1690.2 L1110.4 1685.4ZM856.3 1820.9 L868.0 1813.7 L881.9 1820.9 L883.6 1824.1 L886.2 1830.6 L883.6 1834.6 L868.0 1832.3 L860.0 1830.6ZM1193.9 1820.9 L1194.2 1820.7 L1195.2 1820.9 L1201.8 1830.6 L1194.2 1835.4 L1190.2 1830.6ZM920.3 1927.4 L930.2 1918.9 L945.7 1920.7 L948.7 1927.4 L948.0 1937.0 L945.7 1939.6 L935.2 1946.7 L930.2 1950.9 L924.1 1946.7 L915.1 1937.0Z" fill="none" stroke="#dbdbdb" stroke-width="5.4" stroke-linejoin="round" stroke-linecap="round"/>
<path d="M861.2 1820.9 L868.0 1816.7 L876.1 1820.9 L868.0 1826.8ZM1193.9 1830.6 L1194.2 1829.9 L1194.7 1830.6 L1194.2 1830.9ZM922.9 1927.4 L930.2 1921.1 L945.0 1927.4 L943.3 1937.0 L930.2 1946.0 L920.2 1937.0Z" fill="none" stroke="#ffffff" stroke-width="5.4" stroke-linejoin="round" stroke-linecap="round"/>
</g>
<path d="M460.64 600v-16.7M460.64 120v16.7M561.28 600v-16.7M561.28 120v16.7M661.92 600v-16.7M661.92 120v16.7M762.56 600v-16.7M762.56 120v16.7M963.84 600v-16.7M963.84 120v16.7M1064.48 600v-16.7M1064.48 120v16.7M1165.12 600v-16.7M1165.12 120v16.7M1265.76 600v-16.7M1265.76 120v16.7M1467.04 600v-16.7M1467.04 120v16.7M1567.68 600v-16.7M1567.68 120v16.7M1668.32 600v-16.7M1668.32 120v16.7M1768.96 600v-16.7M1768.96 120v16.7" stroke="#000" stroke-width="2.5" fill="none"/>
<path d="M360.00 600v-33.3M360.00 120v33.3M863.20 600v-33.3M863.20 120v33.3M1366.40 600v-33.3M1366.40 120v33.3" stroke="#000" stroke-width="2.5" fill="none"/>
<path d="M360 514.20h16.7M1800 514.20h-16.7M360 428.40h16.7M1800 428.40h-16.7M360 342.60h16.7M1800 342.60h-16.7M360 256.80h16.7M1800 256.80h-16.7" stroke="#000" stroke-width="2.5" fill="none"/>
<path d="M360 600.00h33.3M1800 600.00h-33.3M360 171.00h33.3M1800 171.00h-33.3" stroke="#000" stroke-width="2.5" fill="none"/>
<path d="M460.64 2160v-16.7M460.64 720v16.7M561.28 2160v-16.7M561.28 720v16.7M661.92 2160v-16.7M661.92 720v16.7M762.56 2160v-16.7M762.56 720v16.7M963.84 2160v-16.7M963.84 720v16.7M1064.48 2160v-16.7M1064.48 720v16.7M1165.12 2160v-16.7M1165.12 720v16.7M1265.76 2160v-16.7M1265.76 720v16.7M1467.04 2160v-16.7M1467.04 720v16.7M1567.68 2160v-16.7M1567.68 720v16.7M1668.32 2160v-16.7M1668.32 720v16.7M1768.96 2160v-16.7M1768.96 720v16.7" stroke="#000" stroke-width="2.5" fill="none"/>
<path d="M360.00 2160v-33.3M360.00 720v33.3M863.20 2160v-33.3M863.20 720v33.3M1366.40 2160v-33.3M1366.40 720v33.3" stroke="#000" stroke-width="2.5" fill="none"/>
<path d="M360 2141.28h16.7M1800 2141.28h-16.7M360 2053.62h16.7M1800 2053.62h-16.7M360 2009.79h16.7M1800 2009.79h-16.7M360 1965.96h16.7M1800 1965.96h-16.7M360 1922.13h16.7M1800 1922.13h-16.7M360 1834.47h16.7M1800 1834.47h-16.7M360 1790.64h16.7M1800 1790.64h-16.7M360 1746.81h16.7M1800 1746.81h-16.7M360 1702.98h16.7M1800 1702.98h-16.7M360 1615.32h16.7M1800 1615.32h-16.7M360 1571.49h16.7M1800 1571.49h-16.7M360 1527.66h16.7M1800 1527.66h-16.7M360 1483.83h16.7M1800 1483.83h-16.7M360 1396.17h16.7M1800 1396.17h-16.7M360 1352.34h16.7M1800 1352.34h-16.7M360 1308.51h16.7M1800 1308.51h-16.7M360 1264.68h16.7M1800 1264.68h-16.7M360 1177.02h16.7M1800 1177.02h-16.7M360 1133.19h16.7M1800 1133.19h-16.7M360 1089.36h16.7M1800 1089.36h-16.7M360 1045.53h16.7M1800 1045.53h-16.7M360 957.87h16.7M1800 957.87h-16.7M360 914.04h16.7M1800 914.04h-16.7M360 870.21h16.7M1800 870.21h-16.7M360 826.38h16.7M1800 826.38h-16.7M360 738.72h16.7M1800 738.72h-16.7" stroke="#000" stroke-width="2.5" fill="none"/>
<path d="M360 2097.45h33.3M1800 2097.45h-33.3M360 1878.30h33.3M1800 1878.30h-33.3M360 1659.15h33.3M1800 1659.15h-33.3M360 1440.00h33.3M1800 1440.00h-33.3M360 1220.85h33.3M1800 1220.85h-33.3M360 1001.70h33.3M1800 1001.70h-33.3M360 782.55h33.3M1800 782.55h-33.3" stroke="#000" stroke-width="2.5" fill="none"/>
<path d="M1920 2141.28h16.7M2490 2141.28h-16.7M1920 2053.62h16.7M2490 2053.62h-16.7M1920 2009.79h16.7M2490 2009.79h-16.7M1920 1965.96h16.7M2490 1965.96h-16.7M1920 1922.13h16.7M2490 1922.13h-16.7M1920 1834.47h16.7M2490 1834.47h-16.7M1920 1790.64h16.7M2490 1790.64h-16.7M1920 1746.81h16.7M2490 1746.81h-16.7M1920 1702.98h16.7M2490 1702.98h-16.7M1920 1615.32h16.7M2490 1615.32h-16.7M1920 1571.49h16.7M2490 1571.49h-16.7M1920 1527.66h16.7M2490 1527.66h-16.7M1920 1483.83h16.7M2490 1483.83h-16.7M1920 1396.17h16.7M2490 1396.17h-16.7M1920 1352.34h16.7M2490 1352.34h-16.7M1920 1308.51h16.7M2490 1308.51h-16.7M1920 1264.68h16.7M2490 1264.68h-16.7M1920 1177.02h16.7M2490 1177.02h-16.7M1920 1133.19h16.7M2490 1133.19h-16.7M1920 1089.36h16.7M2490 1089.36h-16.7M1920 1045.53h16.7M2490 1045.53h-16.7M1920 957.87h16.7M2490 957.87h-16.7M1920 914.04h16.7M2490 914.04h-16.7M1920 870.21h16.7M2490 870.21h-16.7M1920 826.38h16.7M2490 826.38h-16.7M1920 738.72h16.7M2490 738.72h-16.7" stroke="#000" stroke-width="2.5" fill="none"/>
<path d="M1920 2097.45h33.3M2490 2097.45h-33.3M1920 1878.30h33.3M2490 1878.30h-33.3M1920 1659.15h33.3M2490 1659.15h-33.3M1920 1440.00h33.3M2490 1440.00h-33.3M1920 1220.85h33.3M2490 1220.85h-33.3M1920 1001.70h33.3M2490 1001.70h-33.3M1920 782.55h33.3M2490 782.55h-33.3" stroke="#000" stroke-width="2.5" fill="none"/>
<path d="M1977.00 2160v-16.7M1977.00 720v16.7M2034.00 2160v-16.7M2034.00 720v16.7M2091.00 2160v-16.7M2091.00 720v16.7M2148.00 2160v-16.7M2148.00 720v16.7M2262.00 2160v-16.7M2262.00 720v16.7M2319.00 2160v-16.7M2319.00 720v16.7M2376.00 2160v-16.7M2376.00 720v16.7M2433.00 2160v-16.7M2433.00 720v16.7" stroke="#000" stroke-width="2.5" fill="none"/>
<path d="M1920.00 2160v-33.3M1920.00 720v33.3M2205.00 2160v-33.3M2205.00 720v33.3" stroke="#000" stroke-width="2.5" fill="none"/>
<rect x="360" y="120" width="1440" height="480" fill="none" stroke="#000" stroke-width="3.33"/>
<rect x="360" y="720" width="1440" height="1440" fill="none" stroke="#000" stroke-width="3.33"/>
<rect x="1920" y="720" width="570" height="1440" fill="none" stroke="#000" stroke-width="3.33"/>
<defs><linearGradient id="cbg" x1="0" y1="1" x2="0" y2="0"><stop offset="0" stop-color="#663399"/><stop offset="0.5" stop-color="#013c6e"/><stop offset="1" stop-color="#228b22"/></linearGradient></defs>
<rect x="2610" y="720" width="150" height="1440" fill="url(#cbg)"/>
<path d="M2760 2160h-33.3M2760 2088h-16.7M2760 2016h-16.7M2760 1944h-16.7M2760 1872h-33.3M2760 1800h-16.7M2760 1728h-16.7M2760 1656h-16.7M2760 1584h-33.3M2760 1512h-16.7M2760 1440h-16.7M2760 1368h-16.7M2760 1296h-33.3M2760 1224h-16.7M2760 1152h-16.7M2760 1080h-16.7M2760 1008h-33.3M2760 936h-16.7M2760 864h-16.7M2760 792h-16.7M2760 720h-33.3" stroke="#000" stroke-width="2.5" fill="none"/>
<rect x="2610" y="720" width="150" height="1440" fill="none" stroke="#000" stroke-width="3.33"/>
<text transform="translate(251.04 193.00) scale(0.6500 1)" font-size="84.70" font-family="Liberation Sans, sans-serif" font-weight="bold">500</text>
<text transform="translate(313.38 622.00) scale(0.6363 1)" font-size="84.70" font-family="Liberation Sans, sans-serif" font-weight="bold">0</text>
<text transform="translate(251.83 804.45) scale(0.6449 1)" font-size="84.70" font-family="Liberation Sans, sans-serif" font-weight="bold">300</text>
<text transform="translate(251.14 1023.60) scale(0.6500 1)" font-size="84.70" font-family="Liberation Sans, sans-serif" font-weight="bold">200</text>
<text transform="translate(249.70 1242.75) scale(0.6604 1)" font-size="84.70" font-family="Liberation Sans, sans-serif" font-weight="bold">100</text>
<text transform="translate(312.98 1461.90) scale(0.6363 1)" font-size="84.70" font-family="Liberation Sans, sans-serif" font-weight="bold">0</text>
<text transform="translate(204.80 1681.05) scale(0.7247 1)" font-size="84.70" font-family="Liberation Sans, sans-serif" font-weight="bold">−100</text>
<text transform="translate(204.80 1900.20) scale(0.7247 1)" font-size="84.70" font-family="Liberation Sans, sans-serif" font-weight="bold">−200</text>
<text transform="translate(204.80 2119.35) scale(0.7247 1)" font-size="84.70" font-family="Liberation Sans, sans-serif" font-weight="bold">−300</text>
<text transform="translate(345.68 2237.60) scale(0.6363 1)" font-size="84.70" font-family="Liberation Sans, sans-serif" font-weight="bold">0</text>
<text transform="translate(848.73 2237.60) scale(0.6200 1)" font-size="84.70" font-family="Liberation Sans, sans-serif" font-weight="bold">5</text>
<text transform="translate(1334.66 2237.60) scale(0.6588 1)" font-size="84.70" font-family="Liberation Sans, sans-serif" font-weight="bold">10</text>
<text transform="translate(1905.98 2237.00) scale(0.6363 1)" font-size="84.70" font-family="Liberation Sans, sans-serif" font-weight="bold">0</text>
<text transform="translate(2160.24 2237.00) scale(0.6500 1)" font-size="84.70" font-family="Liberation Sans, sans-serif" font-weight="bold">250</text>
<text transform="translate(2778.55 2181.60) scale(0.6450 1)" font-size="84.70" font-family="Liberation Sans, sans-serif" font-weight="bold">0.0</text>
<text transform="translate(2778.55 1893.60) scale(0.6450 1)" font-size="84.70" font-family="Liberation Sans, sans-serif" font-weight="bold">0.2</text>
<text transform="translate(2778.61 1605.60) scale(0.6270 1)" font-size="84.70" font-family="Liberation Sans, sans-serif" font-weight="bold">0.4</text>
<text transform="translate(2778.55 1317.60) scale(0.6450 1)" font-size="84.70" font-family="Liberation Sans, sans-serif" font-weight="bold">0.6</text>
<text transform="translate(2778.57 1029.60) scale(0.6389 1)" font-size="84.70" font-family="Liberation Sans, sans-serif" font-weight="bold">0.8</text>
<text transform="translate(2777.12 741.60) scale(0.6575 1)" font-size="84.70" font-family="Liberation Sans, sans-serif" font-weight="bold">1.0</text>
<text transform="translate(1918.14 281.60) scale(0.5941 1)" font-size="130.80" font-family="Liberation Sans, sans-serif" font-weight="bold">PepDF</text>
<text transform="translate(1920.15 431.90) scale(0.6220 1)" font-size="109.00" font-family="Liberation Sans, sans-serif" font-weight="bold">Time window: 200 ns</text>
<text transform="translate(657.74 2345.40) scale(0.6252 1)" font-size="109.00" font-family="Liberation Sans, sans-serif" font-weight="bold">Lateral displacement (nm)</text>
<text transform="translate(2065.58 2344.80) scale(0.5989 1)" font-size="109.00" font-family="Liberation Sans, sans-serif" font-weight="bold"># Counts</text>
<text transform="translate(209.80 500.82) rotate(-90) scale(0.5982 1)" font-size="109.00" font-family="Liberation Sans, sans-serif" font-weight="bold"># Counts</text>
<text transform="translate(161.20 1783.21) rotate(-90) scale(0.6174 1)" font-size="109.00" font-family="Liberation Sans, sans-serif" font-weight="bold">Precession (degrees)</text>
<text transform="translate(2930.60 1734.09) rotate(-90) scale(0.6130 1)" font-size="88.40" font-family="Liberation Sans, sans-serif" font-weight="bold">Normalized Mean Time</text>
<path d="M0 2400v-33.3M0 2400h33.3" stroke="#000" stroke-width="2.5" fill="none"/>
</svg></body></html>
